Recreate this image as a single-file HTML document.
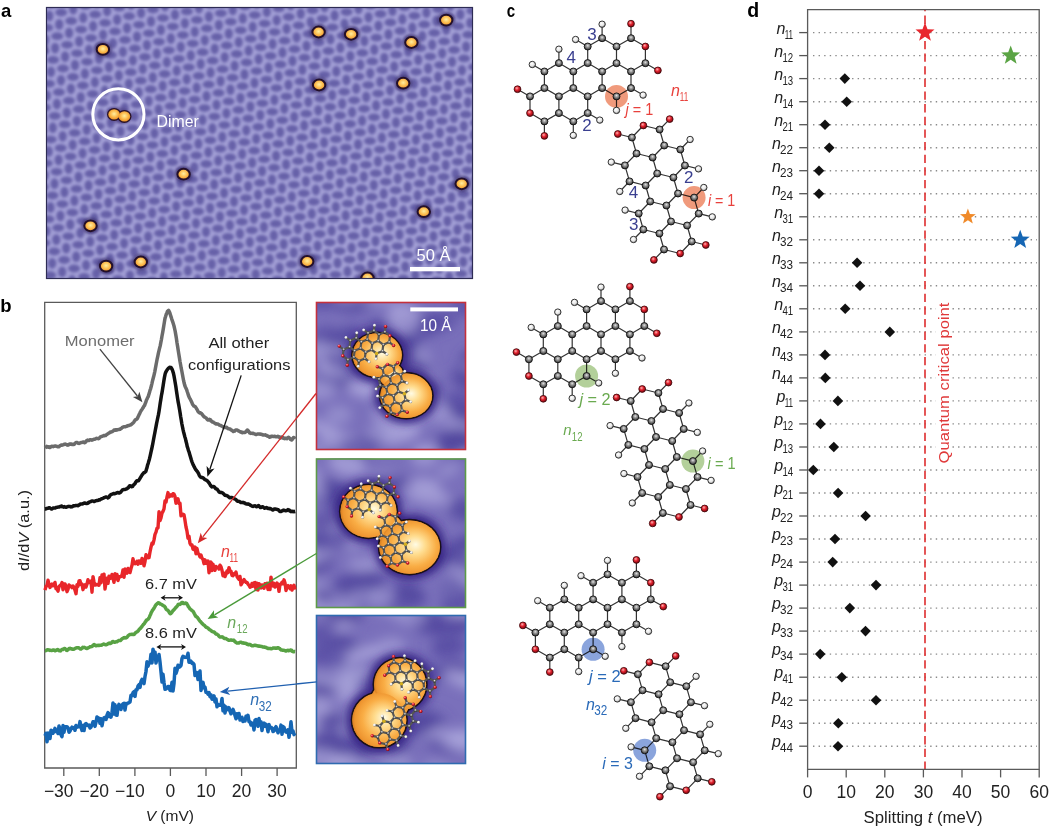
<!DOCTYPE html>
<html><head><meta charset="utf-8"><title>Figure</title>
<style>html,body{margin:0;padding:0;background:#fff;}svg{display:block;font-family:"Liberation Sans", sans-serif;will-change:transform;}</style>
</head><body>
<svg width="1050" height="829" viewBox="0 0 1050 829">
<rect width="1050" height="829" fill="#fff"/>
<defs>
<radialGradient id="gC" cx="0.5" cy="0.38" r="0.62"><stop offset="0" stop-color="#e4e4e4"/><stop offset="0.35" stop-color="#9a9a9a"/><stop offset="0.8" stop-color="#4e4e4e"/><stop offset="1" stop-color="#262626"/></radialGradient>
<radialGradient id="gO" cx="0.4" cy="0.35" r="0.65"><stop offset="0" stop-color="#ffb4b4"/><stop offset="0.45" stop-color="#e2222e"/><stop offset="1" stop-color="#7a0610"/></radialGradient>
<radialGradient id="gH" cx="0.4" cy="0.35" r="0.65"><stop offset="0" stop-color="#ffffff"/><stop offset="0.6" stop-color="#e6e6e6"/><stop offset="1" stop-color="#8a8a8a"/></radialGradient>
<radialGradient id="gY" cx="0.5" cy="0.45" r="0.6"><stop offset="0" stop-color="#ffeea0"/><stop offset="0.5" stop-color="#fcbd50"/><stop offset="1" stop-color="#ea881c"/></radialGradient>
<radialGradient id="gY2" cx="0.55" cy="0.5" r="0.58" fx="0.6" fy="0.45"><stop offset="0" stop-color="#fffbe4"/><stop offset="0.3" stop-color="#ffdc8e"/><stop offset="0.65" stop-color="#f9ad45"/><stop offset="0.88" stop-color="#ee9530"/><stop offset="1" stop-color="#c87018"/></radialGradient>
<filter id="bl1" x="-20%" y="-20%" width="140%" height="140%"><feGaussianBlur stdDeviation="1.7"/></filter>
<filter id="bl2" x="-50%" y="-50%" width="200%" height="200%"><feGaussianBlur stdDeviation="1.5"/></filter>
<filter id="bl5" x="-50%" y="-50%" width="200%" height="200%"><feGaussianBlur stdDeviation="4"/></filter>
<filter id="bl6" x="-20%" y="-20%" width="140%" height="140%"><feGaussianBlur stdDeviation="6"/></filter>
</defs>
<clipPath id="ca"><rect x="46" y="7" width="427" height="272"/></clipPath>
<g clip-path="url(#ca)">
<rect x="46" y="7" width="427" height="272" fill="#a3a0d6"/>
<g fill="#6660a8" filter="url(#bl1)">
<ellipse cx="39.3" cy="7.3" rx="4.1" ry="5.4"/>
<ellipse cx="51.3" cy="4" rx="6" ry="3.9"/>
<ellipse cx="63.3" cy="0.7" rx="4.1" ry="5.4"/>
<ellipse cx="75.3" cy="-2.7" rx="6" ry="3.9"/>
<ellipse cx="37.3" cy="19.2" rx="6" ry="3.9"/>
<ellipse cx="49.3" cy="15.9" rx="4.1" ry="5.4"/>
<ellipse cx="61.2" cy="12.5" rx="6" ry="3.9"/>
<ellipse cx="73.2" cy="9.2" rx="4.1" ry="5.4"/>
<ellipse cx="85.2" cy="5.9" rx="6" ry="3.9"/>
<ellipse cx="97.2" cy="2.5" rx="4.1" ry="5.4"/>
<ellipse cx="109.2" cy="-0.8" rx="6" ry="3.9"/>
<ellipse cx="47.2" cy="27.7" rx="6" ry="3.9"/>
<ellipse cx="59.2" cy="24.4" rx="4.1" ry="5.4"/>
<ellipse cx="71.2" cy="21" rx="6" ry="3.9"/>
<ellipse cx="83.2" cy="17.7" rx="4.1" ry="5.4"/>
<ellipse cx="95.2" cy="14.4" rx="6" ry="3.9"/>
<ellipse cx="107.1" cy="11" rx="4.1" ry="5.4"/>
<ellipse cx="119.1" cy="7.7" rx="6" ry="3.9"/>
<ellipse cx="131.1" cy="4.4" rx="4.1" ry="5.4"/>
<ellipse cx="143.1" cy="1" rx="6" ry="3.9"/>
<ellipse cx="155.1" cy="-2.3" rx="4.1" ry="5.4"/>
<ellipse cx="45.2" cy="39.6" rx="4.1" ry="5.4"/>
<ellipse cx="57.2" cy="36.2" rx="6" ry="3.9"/>
<ellipse cx="69.1" cy="32.9" rx="4.1" ry="5.4"/>
<ellipse cx="81.1" cy="29.6" rx="6" ry="3.9"/>
<ellipse cx="93.1" cy="26.2" rx="4.1" ry="5.4"/>
<ellipse cx="105.1" cy="22.9" rx="6" ry="3.9"/>
<ellipse cx="117.1" cy="19.6" rx="4.1" ry="5.4"/>
<ellipse cx="129.1" cy="16.2" rx="6" ry="3.9"/>
<ellipse cx="141.1" cy="12.9" rx="4.1" ry="5.4"/>
<ellipse cx="153" cy="9.6" rx="6" ry="3.9"/>
<ellipse cx="165" cy="6.2" rx="4.1" ry="5.4"/>
<ellipse cx="177" cy="2.9" rx="6" ry="3.9"/>
<ellipse cx="189" cy="-0.4" rx="4.1" ry="5.4"/>
<ellipse cx="43.1" cy="51.4" rx="6" ry="3.9"/>
<ellipse cx="55.1" cy="48.1" rx="4.1" ry="5.4"/>
<ellipse cx="67.1" cy="44.8" rx="6" ry="3.9"/>
<ellipse cx="79.1" cy="41.4" rx="4.1" ry="5.4"/>
<ellipse cx="91.1" cy="38.1" rx="6" ry="3.9"/>
<ellipse cx="103.1" cy="34.8" rx="4.1" ry="5.4"/>
<ellipse cx="115" cy="31.4" rx="6" ry="3.9"/>
<ellipse cx="127" cy="28.1" rx="4.1" ry="5.4"/>
<ellipse cx="139" cy="24.8" rx="6" ry="3.9"/>
<ellipse cx="151" cy="21.4" rx="4.1" ry="5.4"/>
<ellipse cx="163" cy="18.1" rx="6" ry="3.9"/>
<ellipse cx="175" cy="14.7" rx="4.1" ry="5.4"/>
<ellipse cx="186.9" cy="11.4" rx="6" ry="3.9"/>
<ellipse cx="198.9" cy="8.1" rx="4.1" ry="5.4"/>
<ellipse cx="210.9" cy="4.7" rx="6" ry="3.9"/>
<ellipse cx="222.9" cy="1.4" rx="4.1" ry="5.4"/>
<ellipse cx="234.9" cy="-1.9" rx="6" ry="3.9"/>
<ellipse cx="41.1" cy="63.3" rx="4.1" ry="5.4"/>
<ellipse cx="53.1" cy="59.9" rx="6" ry="3.9"/>
<ellipse cx="65.1" cy="56.6" rx="4.1" ry="5.4"/>
<ellipse cx="77" cy="53.3" rx="6" ry="3.9"/>
<ellipse cx="89" cy="49.9" rx="4.1" ry="5.4"/>
<ellipse cx="101" cy="46.6" rx="6" ry="3.9"/>
<ellipse cx="113" cy="43.3" rx="4.1" ry="5.4"/>
<ellipse cx="125" cy="39.9" rx="6" ry="3.9"/>
<ellipse cx="137" cy="36.6" rx="4.1" ry="5.4"/>
<ellipse cx="148.9" cy="33.3" rx="6" ry="3.9"/>
<ellipse cx="160.9" cy="29.9" rx="4.1" ry="5.4"/>
<ellipse cx="172.9" cy="26.6" rx="6" ry="3.9"/>
<ellipse cx="184.9" cy="23.3" rx="4.1" ry="5.4"/>
<ellipse cx="196.9" cy="19.9" rx="6" ry="3.9"/>
<ellipse cx="208.9" cy="16.6" rx="4.1" ry="5.4"/>
<ellipse cx="220.9" cy="13.3" rx="6" ry="3.9"/>
<ellipse cx="232.8" cy="9.9" rx="4.1" ry="5.4"/>
<ellipse cx="244.8" cy="6.6" rx="6" ry="3.9"/>
<ellipse cx="256.8" cy="3.3" rx="4.1" ry="5.4"/>
<ellipse cx="268.8" cy="-0.1" rx="6" ry="3.9"/>
<ellipse cx="39" cy="75.1" rx="6" ry="3.9"/>
<ellipse cx="51" cy="71.8" rx="4.1" ry="5.4"/>
<ellipse cx="63" cy="68.5" rx="6" ry="3.9"/>
<ellipse cx="75" cy="65.1" rx="4.1" ry="5.4"/>
<ellipse cx="87" cy="61.8" rx="6" ry="3.9"/>
<ellipse cx="99" cy="58.5" rx="4.1" ry="5.4"/>
<ellipse cx="111" cy="55.1" rx="6" ry="3.9"/>
<ellipse cx="122.9" cy="51.8" rx="4.1" ry="5.4"/>
<ellipse cx="134.9" cy="48.5" rx="6" ry="3.9"/>
<ellipse cx="146.9" cy="45.1" rx="4.1" ry="5.4"/>
<ellipse cx="158.9" cy="41.8" rx="6" ry="3.9"/>
<ellipse cx="170.9" cy="38.5" rx="4.1" ry="5.4"/>
<ellipse cx="182.9" cy="35.1" rx="6" ry="3.9"/>
<ellipse cx="194.8" cy="31.8" rx="4.1" ry="5.4"/>
<ellipse cx="206.8" cy="28.4" rx="6" ry="3.9"/>
<ellipse cx="218.8" cy="25.1" rx="4.1" ry="5.4"/>
<ellipse cx="230.8" cy="21.8" rx="6" ry="3.9"/>
<ellipse cx="242.8" cy="18.4" rx="4.1" ry="5.4"/>
<ellipse cx="254.8" cy="15.1" rx="6" ry="3.9"/>
<ellipse cx="266.8" cy="11.8" rx="4.1" ry="5.4"/>
<ellipse cx="278.7" cy="8.4" rx="6" ry="3.9"/>
<ellipse cx="290.7" cy="5.1" rx="4.1" ry="5.4"/>
<ellipse cx="302.7" cy="1.8" rx="6" ry="3.9"/>
<ellipse cx="314.7" cy="-1.6" rx="4.1" ry="5.4"/>
<ellipse cx="37" cy="87" rx="4.1" ry="5.4"/>
<ellipse cx="49" cy="83.7" rx="6" ry="3.9"/>
<ellipse cx="61" cy="80.3" rx="4.1" ry="5.4"/>
<ellipse cx="73" cy="77" rx="6" ry="3.9"/>
<ellipse cx="84.9" cy="73.7" rx="4.1" ry="5.4"/>
<ellipse cx="96.9" cy="70.3" rx="6" ry="3.9"/>
<ellipse cx="108.9" cy="67" rx="4.1" ry="5.4"/>
<ellipse cx="120.9" cy="63.6" rx="6" ry="3.9"/>
<ellipse cx="132.9" cy="60.3" rx="4.1" ry="5.4"/>
<ellipse cx="144.9" cy="57" rx="6" ry="3.9"/>
<ellipse cx="156.8" cy="53.6" rx="4.1" ry="5.4"/>
<ellipse cx="168.8" cy="50.3" rx="6" ry="3.9"/>
<ellipse cx="180.8" cy="47" rx="4.1" ry="5.4"/>
<ellipse cx="192.8" cy="43.6" rx="6" ry="3.9"/>
<ellipse cx="204.8" cy="40.3" rx="4.1" ry="5.4"/>
<ellipse cx="216.8" cy="37" rx="6" ry="3.9"/>
<ellipse cx="228.8" cy="33.6" rx="4.1" ry="5.4"/>
<ellipse cx="240.7" cy="30.3" rx="6" ry="3.9"/>
<ellipse cx="252.7" cy="27" rx="4.1" ry="5.4"/>
<ellipse cx="264.7" cy="23.6" rx="6" ry="3.9"/>
<ellipse cx="276.7" cy="20.3" rx="4.1" ry="5.4"/>
<ellipse cx="288.7" cy="17" rx="6" ry="3.9"/>
<ellipse cx="300.7" cy="13.6" rx="4.1" ry="5.4"/>
<ellipse cx="312.6" cy="10.3" rx="6" ry="3.9"/>
<ellipse cx="324.6" cy="7" rx="4.1" ry="5.4"/>
<ellipse cx="336.6" cy="3.6" rx="6" ry="3.9"/>
<ellipse cx="348.6" cy="0.3" rx="4.1" ry="5.4"/>
<ellipse cx="46.9" cy="95.5" rx="4.1" ry="5.4"/>
<ellipse cx="58.9" cy="92.2" rx="6" ry="3.9"/>
<ellipse cx="70.9" cy="88.8" rx="4.1" ry="5.4"/>
<ellipse cx="82.9" cy="85.5" rx="6" ry="3.9"/>
<ellipse cx="94.9" cy="82.2" rx="4.1" ry="5.4"/>
<ellipse cx="106.9" cy="78.8" rx="6" ry="3.9"/>
<ellipse cx="118.8" cy="75.5" rx="4.1" ry="5.4"/>
<ellipse cx="130.8" cy="72.2" rx="6" ry="3.9"/>
<ellipse cx="142.8" cy="68.8" rx="4.1" ry="5.4"/>
<ellipse cx="154.8" cy="65.5" rx="6" ry="3.9"/>
<ellipse cx="166.8" cy="62.2" rx="4.1" ry="5.4"/>
<ellipse cx="178.8" cy="58.8" rx="6" ry="3.9"/>
<ellipse cx="190.8" cy="55.5" rx="4.1" ry="5.4"/>
<ellipse cx="202.7" cy="52.2" rx="6" ry="3.9"/>
<ellipse cx="214.7" cy="48.8" rx="4.1" ry="5.4"/>
<ellipse cx="226.7" cy="45.5" rx="6" ry="3.9"/>
<ellipse cx="238.7" cy="42.2" rx="4.1" ry="5.4"/>
<ellipse cx="250.7" cy="38.8" rx="6" ry="3.9"/>
<ellipse cx="262.7" cy="35.5" rx="4.1" ry="5.4"/>
<ellipse cx="274.6" cy="32.1" rx="6" ry="3.9"/>
<ellipse cx="286.6" cy="28.8" rx="4.1" ry="5.4"/>
<ellipse cx="298.6" cy="25.5" rx="6" ry="3.9"/>
<ellipse cx="310.6" cy="22.1" rx="4.1" ry="5.4"/>
<ellipse cx="322.6" cy="18.8" rx="6" ry="3.9"/>
<ellipse cx="334.6" cy="15.5" rx="4.1" ry="5.4"/>
<ellipse cx="346.6" cy="12.1" rx="6" ry="3.9"/>
<ellipse cx="358.5" cy="8.8" rx="4.1" ry="5.4"/>
<ellipse cx="370.5" cy="5.5" rx="6" ry="3.9"/>
<ellipse cx="382.5" cy="2.1" rx="4.1" ry="5.4"/>
<ellipse cx="394.5" cy="-1.2" rx="6" ry="3.9"/>
<ellipse cx="44.9" cy="107.4" rx="6" ry="3.9"/>
<ellipse cx="56.9" cy="104" rx="4.1" ry="5.4"/>
<ellipse cx="68.9" cy="100.7" rx="6" ry="3.9"/>
<ellipse cx="80.8" cy="97.4" rx="4.1" ry="5.4"/>
<ellipse cx="92.8" cy="94" rx="6" ry="3.9"/>
<ellipse cx="104.8" cy="90.7" rx="4.1" ry="5.4"/>
<ellipse cx="116.8" cy="87.4" rx="6" ry="3.9"/>
<ellipse cx="128.8" cy="84" rx="4.1" ry="5.4"/>
<ellipse cx="140.8" cy="80.7" rx="6" ry="3.9"/>
<ellipse cx="152.8" cy="77.4" rx="4.1" ry="5.4"/>
<ellipse cx="164.7" cy="74" rx="6" ry="3.9"/>
<ellipse cx="176.7" cy="70.7" rx="4.1" ry="5.4"/>
<ellipse cx="188.7" cy="67.3" rx="6" ry="3.9"/>
<ellipse cx="200.7" cy="64" rx="4.1" ry="5.4"/>
<ellipse cx="212.7" cy="60.7" rx="6" ry="3.9"/>
<ellipse cx="224.7" cy="57.3" rx="4.1" ry="5.4"/>
<ellipse cx="236.7" cy="54" rx="6" ry="3.9"/>
<ellipse cx="248.6" cy="50.7" rx="4.1" ry="5.4"/>
<ellipse cx="260.6" cy="47.3" rx="6" ry="3.9"/>
<ellipse cx="272.6" cy="44" rx="4.1" ry="5.4"/>
<ellipse cx="284.6" cy="40.7" rx="6" ry="3.9"/>
<ellipse cx="296.6" cy="37.3" rx="4.1" ry="5.4"/>
<ellipse cx="308.6" cy="34" rx="6" ry="3.9"/>
<ellipse cx="320.5" cy="30.7" rx="4.1" ry="5.4"/>
<ellipse cx="332.5" cy="27.3" rx="6" ry="3.9"/>
<ellipse cx="344.5" cy="24" rx="4.1" ry="5.4"/>
<ellipse cx="356.5" cy="20.7" rx="6" ry="3.9"/>
<ellipse cx="368.5" cy="17.3" rx="4.1" ry="5.4"/>
<ellipse cx="380.5" cy="14" rx="6" ry="3.9"/>
<ellipse cx="392.5" cy="10.7" rx="4.1" ry="5.4"/>
<ellipse cx="404.4" cy="7.3" rx="6" ry="3.9"/>
<ellipse cx="416.4" cy="4" rx="4.1" ry="5.4"/>
<ellipse cx="428.4" cy="0.6" rx="6" ry="3.9"/>
<ellipse cx="440.4" cy="-2.7" rx="4.1" ry="5.4"/>
<ellipse cx="42.8" cy="119.2" rx="4.1" ry="5.4"/>
<ellipse cx="54.8" cy="115.9" rx="6" ry="3.9"/>
<ellipse cx="66.8" cy="112.6" rx="4.1" ry="5.4"/>
<ellipse cx="78.8" cy="109.2" rx="6" ry="3.9"/>
<ellipse cx="90.8" cy="105.9" rx="4.1" ry="5.4"/>
<ellipse cx="102.8" cy="102.5" rx="6" ry="3.9"/>
<ellipse cx="114.8" cy="99.2" rx="4.1" ry="5.4"/>
<ellipse cx="126.7" cy="95.9" rx="6" ry="3.9"/>
<ellipse cx="138.7" cy="92.5" rx="4.1" ry="5.4"/>
<ellipse cx="150.7" cy="89.2" rx="6" ry="3.9"/>
<ellipse cx="162.7" cy="85.9" rx="4.1" ry="5.4"/>
<ellipse cx="174.7" cy="82.5" rx="6" ry="3.9"/>
<ellipse cx="186.7" cy="79.2" rx="4.1" ry="5.4"/>
<ellipse cx="198.7" cy="75.9" rx="6" ry="3.9"/>
<ellipse cx="210.6" cy="72.5" rx="4.1" ry="5.4"/>
<ellipse cx="222.6" cy="69.2" rx="6" ry="3.9"/>
<ellipse cx="234.6" cy="65.9" rx="4.1" ry="5.4"/>
<ellipse cx="246.6" cy="62.5" rx="6" ry="3.9"/>
<ellipse cx="258.6" cy="59.2" rx="4.1" ry="5.4"/>
<ellipse cx="270.6" cy="55.9" rx="6" ry="3.9"/>
<ellipse cx="282.5" cy="52.5" rx="4.1" ry="5.4"/>
<ellipse cx="294.5" cy="49.2" rx="6" ry="3.9"/>
<ellipse cx="306.5" cy="45.9" rx="4.1" ry="5.4"/>
<ellipse cx="318.5" cy="42.5" rx="6" ry="3.9"/>
<ellipse cx="330.5" cy="39.2" rx="4.1" ry="5.4"/>
<ellipse cx="342.5" cy="35.8" rx="6" ry="3.9"/>
<ellipse cx="354.5" cy="32.5" rx="4.1" ry="5.4"/>
<ellipse cx="366.4" cy="29.2" rx="6" ry="3.9"/>
<ellipse cx="378.4" cy="25.8" rx="4.1" ry="5.4"/>
<ellipse cx="390.4" cy="22.5" rx="6" ry="3.9"/>
<ellipse cx="402.4" cy="19.2" rx="4.1" ry="5.4"/>
<ellipse cx="414.4" cy="15.8" rx="6" ry="3.9"/>
<ellipse cx="426.4" cy="12.5" rx="4.1" ry="5.4"/>
<ellipse cx="438.3" cy="9.2" rx="6" ry="3.9"/>
<ellipse cx="450.3" cy="5.8" rx="4.1" ry="5.4"/>
<ellipse cx="462.3" cy="2.5" rx="6" ry="3.9"/>
<ellipse cx="474.3" cy="-0.8" rx="4.1" ry="5.4"/>
<ellipse cx="40.8" cy="131.1" rx="6" ry="3.9"/>
<ellipse cx="52.8" cy="127.7" rx="4.1" ry="5.4"/>
<ellipse cx="64.8" cy="124.4" rx="6" ry="3.9"/>
<ellipse cx="76.8" cy="121.1" rx="4.1" ry="5.4"/>
<ellipse cx="88.7" cy="117.7" rx="6" ry="3.9"/>
<ellipse cx="100.7" cy="114.4" rx="4.1" ry="5.4"/>
<ellipse cx="112.7" cy="111.1" rx="6" ry="3.9"/>
<ellipse cx="124.7" cy="107.7" rx="4.1" ry="5.4"/>
<ellipse cx="136.7" cy="104.4" rx="6" ry="3.9"/>
<ellipse cx="148.7" cy="101.1" rx="4.1" ry="5.4"/>
<ellipse cx="160.7" cy="97.7" rx="6" ry="3.9"/>
<ellipse cx="172.6" cy="94.4" rx="4.1" ry="5.4"/>
<ellipse cx="184.6" cy="91.1" rx="6" ry="3.9"/>
<ellipse cx="196.6" cy="87.7" rx="4.1" ry="5.4"/>
<ellipse cx="208.6" cy="84.4" rx="6" ry="3.9"/>
<ellipse cx="220.6" cy="81.1" rx="4.1" ry="5.4"/>
<ellipse cx="232.6" cy="77.7" rx="6" ry="3.9"/>
<ellipse cx="244.5" cy="74.4" rx="4.1" ry="5.4"/>
<ellipse cx="256.5" cy="71.1" rx="6" ry="3.9"/>
<ellipse cx="268.5" cy="67.7" rx="4.1" ry="5.4"/>
<ellipse cx="280.5" cy="64.4" rx="6" ry="3.9"/>
<ellipse cx="292.5" cy="61" rx="4.1" ry="5.4"/>
<ellipse cx="304.5" cy="57.7" rx="6" ry="3.9"/>
<ellipse cx="316.5" cy="54.4" rx="4.1" ry="5.4"/>
<ellipse cx="328.4" cy="51" rx="6" ry="3.9"/>
<ellipse cx="340.4" cy="47.7" rx="4.1" ry="5.4"/>
<ellipse cx="352.4" cy="44.4" rx="6" ry="3.9"/>
<ellipse cx="364.4" cy="41" rx="4.1" ry="5.4"/>
<ellipse cx="376.4" cy="37.7" rx="6" ry="3.9"/>
<ellipse cx="388.4" cy="34.4" rx="4.1" ry="5.4"/>
<ellipse cx="400.4" cy="31" rx="6" ry="3.9"/>
<ellipse cx="412.3" cy="27.7" rx="4.1" ry="5.4"/>
<ellipse cx="424.3" cy="24.4" rx="6" ry="3.9"/>
<ellipse cx="436.3" cy="21" rx="4.1" ry="5.4"/>
<ellipse cx="448.3" cy="17.7" rx="6" ry="3.9"/>
<ellipse cx="460.3" cy="14.4" rx="4.1" ry="5.4"/>
<ellipse cx="472.3" cy="11" rx="6" ry="3.9"/>
<ellipse cx="38.8" cy="142.9" rx="4.1" ry="5.4"/>
<ellipse cx="50.7" cy="139.6" rx="6" ry="3.9"/>
<ellipse cx="62.7" cy="136.3" rx="4.1" ry="5.4"/>
<ellipse cx="74.7" cy="132.9" rx="6" ry="3.9"/>
<ellipse cx="86.7" cy="129.6" rx="4.1" ry="5.4"/>
<ellipse cx="98.7" cy="126.3" rx="6" ry="3.9"/>
<ellipse cx="110.7" cy="122.9" rx="4.1" ry="5.4"/>
<ellipse cx="122.7" cy="119.6" rx="6" ry="3.9"/>
<ellipse cx="134.6" cy="116.3" rx="4.1" ry="5.4"/>
<ellipse cx="146.6" cy="112.9" rx="6" ry="3.9"/>
<ellipse cx="158.6" cy="109.6" rx="4.1" ry="5.4"/>
<ellipse cx="170.6" cy="106.2" rx="6" ry="3.9"/>
<ellipse cx="182.6" cy="102.9" rx="4.1" ry="5.4"/>
<ellipse cx="194.6" cy="99.6" rx="6" ry="3.9"/>
<ellipse cx="206.5" cy="96.2" rx="4.1" ry="5.4"/>
<ellipse cx="218.5" cy="92.9" rx="6" ry="3.9"/>
<ellipse cx="230.5" cy="89.6" rx="4.1" ry="5.4"/>
<ellipse cx="242.5" cy="86.2" rx="6" ry="3.9"/>
<ellipse cx="254.5" cy="82.9" rx="4.1" ry="5.4"/>
<ellipse cx="266.5" cy="79.6" rx="6" ry="3.9"/>
<ellipse cx="278.5" cy="76.2" rx="4.1" ry="5.4"/>
<ellipse cx="290.4" cy="72.9" rx="6" ry="3.9"/>
<ellipse cx="302.4" cy="69.6" rx="4.1" ry="5.4"/>
<ellipse cx="314.4" cy="66.2" rx="6" ry="3.9"/>
<ellipse cx="326.4" cy="62.9" rx="4.1" ry="5.4"/>
<ellipse cx="338.4" cy="59.6" rx="6" ry="3.9"/>
<ellipse cx="350.4" cy="56.2" rx="4.1" ry="5.4"/>
<ellipse cx="362.4" cy="52.9" rx="6" ry="3.9"/>
<ellipse cx="374.3" cy="49.6" rx="4.1" ry="5.4"/>
<ellipse cx="386.3" cy="46.2" rx="6" ry="3.9"/>
<ellipse cx="398.3" cy="42.9" rx="4.1" ry="5.4"/>
<ellipse cx="410.3" cy="39.5" rx="6" ry="3.9"/>
<ellipse cx="422.3" cy="36.2" rx="4.1" ry="5.4"/>
<ellipse cx="434.3" cy="32.9" rx="6" ry="3.9"/>
<ellipse cx="446.2" cy="29.5" rx="4.1" ry="5.4"/>
<ellipse cx="458.2" cy="26.2" rx="6" ry="3.9"/>
<ellipse cx="470.2" cy="22.9" rx="4.1" ry="5.4"/>
<ellipse cx="482.2" cy="19.5" rx="6" ry="3.9"/>
<ellipse cx="36.7" cy="154.8" rx="6" ry="3.9"/>
<ellipse cx="48.7" cy="151.5" rx="4.1" ry="5.4"/>
<ellipse cx="60.7" cy="148.1" rx="6" ry="3.9"/>
<ellipse cx="72.7" cy="144.8" rx="4.1" ry="5.4"/>
<ellipse cx="84.7" cy="141.4" rx="6" ry="3.9"/>
<ellipse cx="96.6" cy="138.1" rx="4.1" ry="5.4"/>
<ellipse cx="108.6" cy="134.8" rx="6" ry="3.9"/>
<ellipse cx="120.6" cy="131.4" rx="4.1" ry="5.4"/>
<ellipse cx="132.6" cy="128.1" rx="6" ry="3.9"/>
<ellipse cx="144.6" cy="124.8" rx="4.1" ry="5.4"/>
<ellipse cx="156.6" cy="121.4" rx="6" ry="3.9"/>
<ellipse cx="168.5" cy="118.1" rx="4.1" ry="5.4"/>
<ellipse cx="180.5" cy="114.8" rx="6" ry="3.9"/>
<ellipse cx="192.5" cy="111.4" rx="4.1" ry="5.4"/>
<ellipse cx="204.5" cy="108.1" rx="6" ry="3.9"/>
<ellipse cx="216.5" cy="104.8" rx="4.1" ry="5.4"/>
<ellipse cx="228.5" cy="101.4" rx="6" ry="3.9"/>
<ellipse cx="240.5" cy="98.1" rx="4.1" ry="5.4"/>
<ellipse cx="252.4" cy="94.8" rx="6" ry="3.9"/>
<ellipse cx="264.4" cy="91.4" rx="4.1" ry="5.4"/>
<ellipse cx="276.4" cy="88.1" rx="6" ry="3.9"/>
<ellipse cx="288.4" cy="84.8" rx="4.1" ry="5.4"/>
<ellipse cx="300.4" cy="81.4" rx="6" ry="3.9"/>
<ellipse cx="312.4" cy="78.1" rx="4.1" ry="5.4"/>
<ellipse cx="324.4" cy="74.8" rx="6" ry="3.9"/>
<ellipse cx="336.3" cy="71.4" rx="4.1" ry="5.4"/>
<ellipse cx="348.3" cy="68.1" rx="6" ry="3.9"/>
<ellipse cx="360.3" cy="64.7" rx="4.1" ry="5.4"/>
<ellipse cx="372.3" cy="61.4" rx="6" ry="3.9"/>
<ellipse cx="384.3" cy="58.1" rx="4.1" ry="5.4"/>
<ellipse cx="396.3" cy="54.7" rx="6" ry="3.9"/>
<ellipse cx="408.2" cy="51.4" rx="4.1" ry="5.4"/>
<ellipse cx="420.2" cy="48.1" rx="6" ry="3.9"/>
<ellipse cx="432.2" cy="44.7" rx="4.1" ry="5.4"/>
<ellipse cx="444.2" cy="41.4" rx="6" ry="3.9"/>
<ellipse cx="456.2" cy="38.1" rx="4.1" ry="5.4"/>
<ellipse cx="468.2" cy="34.7" rx="6" ry="3.9"/>
<ellipse cx="480.2" cy="31.4" rx="4.1" ry="5.4"/>
<ellipse cx="46.7" cy="163.3" rx="6" ry="3.9"/>
<ellipse cx="58.6" cy="160" rx="4.1" ry="5.4"/>
<ellipse cx="70.6" cy="156.6" rx="6" ry="3.9"/>
<ellipse cx="82.6" cy="153.3" rx="4.1" ry="5.4"/>
<ellipse cx="94.6" cy="150" rx="6" ry="3.9"/>
<ellipse cx="106.6" cy="146.6" rx="4.1" ry="5.4"/>
<ellipse cx="118.6" cy="143.3" rx="6" ry="3.9"/>
<ellipse cx="130.5" cy="140" rx="4.1" ry="5.4"/>
<ellipse cx="142.5" cy="136.6" rx="6" ry="3.9"/>
<ellipse cx="154.5" cy="133.3" rx="4.1" ry="5.4"/>
<ellipse cx="166.5" cy="130" rx="6" ry="3.9"/>
<ellipse cx="178.5" cy="126.6" rx="4.1" ry="5.4"/>
<ellipse cx="190.5" cy="123.3" rx="6" ry="3.9"/>
<ellipse cx="202.5" cy="120" rx="4.1" ry="5.4"/>
<ellipse cx="214.4" cy="116.6" rx="6" ry="3.9"/>
<ellipse cx="226.4" cy="113.3" rx="4.1" ry="5.4"/>
<ellipse cx="238.4" cy="109.9" rx="6" ry="3.9"/>
<ellipse cx="250.4" cy="106.6" rx="4.1" ry="5.4"/>
<ellipse cx="262.4" cy="103.3" rx="6" ry="3.9"/>
<ellipse cx="274.4" cy="99.9" rx="4.1" ry="5.4"/>
<ellipse cx="286.4" cy="96.6" rx="6" ry="3.9"/>
<ellipse cx="298.3" cy="93.3" rx="4.1" ry="5.4"/>
<ellipse cx="310.3" cy="89.9" rx="6" ry="3.9"/>
<ellipse cx="322.3" cy="86.6" rx="4.1" ry="5.4"/>
<ellipse cx="334.3" cy="83.3" rx="6" ry="3.9"/>
<ellipse cx="346.3" cy="79.9" rx="4.1" ry="5.4"/>
<ellipse cx="358.3" cy="76.6" rx="6" ry="3.9"/>
<ellipse cx="370.2" cy="73.3" rx="4.1" ry="5.4"/>
<ellipse cx="382.2" cy="69.9" rx="6" ry="3.9"/>
<ellipse cx="394.2" cy="66.6" rx="4.1" ry="5.4"/>
<ellipse cx="406.2" cy="63.3" rx="6" ry="3.9"/>
<ellipse cx="418.2" cy="59.9" rx="4.1" ry="5.4"/>
<ellipse cx="430.2" cy="56.6" rx="6" ry="3.9"/>
<ellipse cx="442.2" cy="53.3" rx="4.1" ry="5.4"/>
<ellipse cx="454.1" cy="49.9" rx="6" ry="3.9"/>
<ellipse cx="466.1" cy="46.6" rx="4.1" ry="5.4"/>
<ellipse cx="478.1" cy="43.2" rx="6" ry="3.9"/>
<ellipse cx="44.6" cy="175.2" rx="4.1" ry="5.4"/>
<ellipse cx="56.6" cy="171.8" rx="6" ry="3.9"/>
<ellipse cx="68.6" cy="168.5" rx="4.1" ry="5.4"/>
<ellipse cx="80.6" cy="165.2" rx="6" ry="3.9"/>
<ellipse cx="92.5" cy="161.8" rx="4.1" ry="5.4"/>
<ellipse cx="104.5" cy="158.5" rx="6" ry="3.9"/>
<ellipse cx="116.5" cy="155.2" rx="4.1" ry="5.4"/>
<ellipse cx="128.5" cy="151.8" rx="6" ry="3.9"/>
<ellipse cx="140.5" cy="148.5" rx="4.1" ry="5.4"/>
<ellipse cx="152.5" cy="145.1" rx="6" ry="3.9"/>
<ellipse cx="164.5" cy="141.8" rx="4.1" ry="5.4"/>
<ellipse cx="176.4" cy="138.5" rx="6" ry="3.9"/>
<ellipse cx="188.4" cy="135.1" rx="4.1" ry="5.4"/>
<ellipse cx="200.4" cy="131.8" rx="6" ry="3.9"/>
<ellipse cx="212.4" cy="128.5" rx="4.1" ry="5.4"/>
<ellipse cx="224.4" cy="125.1" rx="6" ry="3.9"/>
<ellipse cx="236.4" cy="121.8" rx="4.1" ry="5.4"/>
<ellipse cx="248.3" cy="118.5" rx="6" ry="3.9"/>
<ellipse cx="260.3" cy="115.1" rx="4.1" ry="5.4"/>
<ellipse cx="272.3" cy="111.8" rx="6" ry="3.9"/>
<ellipse cx="284.3" cy="108.5" rx="4.1" ry="5.4"/>
<ellipse cx="296.3" cy="105.1" rx="6" ry="3.9"/>
<ellipse cx="308.3" cy="101.8" rx="4.1" ry="5.4"/>
<ellipse cx="320.3" cy="98.5" rx="6" ry="3.9"/>
<ellipse cx="332.2" cy="95.1" rx="4.1" ry="5.4"/>
<ellipse cx="344.2" cy="91.8" rx="6" ry="3.9"/>
<ellipse cx="356.2" cy="88.5" rx="4.1" ry="5.4"/>
<ellipse cx="368.2" cy="85.1" rx="6" ry="3.9"/>
<ellipse cx="380.2" cy="81.8" rx="4.1" ry="5.4"/>
<ellipse cx="392.2" cy="78.4" rx="6" ry="3.9"/>
<ellipse cx="404.2" cy="75.1" rx="4.1" ry="5.4"/>
<ellipse cx="416.1" cy="71.8" rx="6" ry="3.9"/>
<ellipse cx="428.1" cy="68.4" rx="4.1" ry="5.4"/>
<ellipse cx="440.1" cy="65.1" rx="6" ry="3.9"/>
<ellipse cx="452.1" cy="61.8" rx="4.1" ry="5.4"/>
<ellipse cx="464.1" cy="58.4" rx="6" ry="3.9"/>
<ellipse cx="476.1" cy="55.1" rx="4.1" ry="5.4"/>
<ellipse cx="42.6" cy="187" rx="6" ry="3.9"/>
<ellipse cx="54.5" cy="183.7" rx="4.1" ry="5.4"/>
<ellipse cx="66.5" cy="180.3" rx="6" ry="3.9"/>
<ellipse cx="78.5" cy="177" rx="4.1" ry="5.4"/>
<ellipse cx="90.5" cy="173.7" rx="6" ry="3.9"/>
<ellipse cx="102.5" cy="170.3" rx="4.1" ry="5.4"/>
<ellipse cx="114.5" cy="167" rx="6" ry="3.9"/>
<ellipse cx="126.5" cy="163.7" rx="4.1" ry="5.4"/>
<ellipse cx="138.4" cy="160.3" rx="6" ry="3.9"/>
<ellipse cx="150.4" cy="157" rx="4.1" ry="5.4"/>
<ellipse cx="162.4" cy="153.7" rx="6" ry="3.9"/>
<ellipse cx="174.4" cy="150.3" rx="4.1" ry="5.4"/>
<ellipse cx="186.4" cy="147" rx="6" ry="3.9"/>
<ellipse cx="198.4" cy="143.7" rx="4.1" ry="5.4"/>
<ellipse cx="210.3" cy="140.3" rx="6" ry="3.9"/>
<ellipse cx="222.3" cy="137" rx="4.1" ry="5.4"/>
<ellipse cx="234.3" cy="133.7" rx="6" ry="3.9"/>
<ellipse cx="246.3" cy="130.3" rx="4.1" ry="5.4"/>
<ellipse cx="258.3" cy="127" rx="6" ry="3.9"/>
<ellipse cx="270.3" cy="123.7" rx="4.1" ry="5.4"/>
<ellipse cx="282.3" cy="120.3" rx="6" ry="3.9"/>
<ellipse cx="294.2" cy="117" rx="4.1" ry="5.4"/>
<ellipse cx="306.2" cy="113.7" rx="6" ry="3.9"/>
<ellipse cx="318.2" cy="110.3" rx="4.1" ry="5.4"/>
<ellipse cx="330.2" cy="107" rx="6" ry="3.9"/>
<ellipse cx="342.2" cy="103.6" rx="4.1" ry="5.4"/>
<ellipse cx="354.2" cy="100.3" rx="6" ry="3.9"/>
<ellipse cx="366.2" cy="97" rx="4.1" ry="5.4"/>
<ellipse cx="378.1" cy="93.6" rx="6" ry="3.9"/>
<ellipse cx="390.1" cy="90.3" rx="4.1" ry="5.4"/>
<ellipse cx="402.1" cy="87" rx="6" ry="3.9"/>
<ellipse cx="414.1" cy="83.6" rx="4.1" ry="5.4"/>
<ellipse cx="426.1" cy="80.3" rx="6" ry="3.9"/>
<ellipse cx="438.1" cy="77" rx="4.1" ry="5.4"/>
<ellipse cx="450" cy="73.6" rx="6" ry="3.9"/>
<ellipse cx="462" cy="70.3" rx="4.1" ry="5.4"/>
<ellipse cx="474" cy="67" rx="6" ry="3.9"/>
<ellipse cx="40.5" cy="198.9" rx="4.1" ry="5.4"/>
<ellipse cx="52.5" cy="195.5" rx="6" ry="3.9"/>
<ellipse cx="64.5" cy="192.2" rx="4.1" ry="5.4"/>
<ellipse cx="76.5" cy="188.9" rx="6" ry="3.9"/>
<ellipse cx="88.5" cy="185.5" rx="4.1" ry="5.4"/>
<ellipse cx="100.4" cy="182.2" rx="6" ry="3.9"/>
<ellipse cx="112.4" cy="178.9" rx="4.1" ry="5.4"/>
<ellipse cx="124.4" cy="175.5" rx="6" ry="3.9"/>
<ellipse cx="136.4" cy="172.2" rx="4.1" ry="5.4"/>
<ellipse cx="148.4" cy="168.9" rx="6" ry="3.9"/>
<ellipse cx="160.4" cy="165.5" rx="4.1" ry="5.4"/>
<ellipse cx="172.3" cy="162.2" rx="6" ry="3.9"/>
<ellipse cx="184.3" cy="158.9" rx="4.1" ry="5.4"/>
<ellipse cx="196.3" cy="155.5" rx="6" ry="3.9"/>
<ellipse cx="208.3" cy="152.2" rx="4.1" ry="5.4"/>
<ellipse cx="220.3" cy="148.8" rx="6" ry="3.9"/>
<ellipse cx="232.3" cy="145.5" rx="4.1" ry="5.4"/>
<ellipse cx="244.3" cy="142.2" rx="6" ry="3.9"/>
<ellipse cx="256.2" cy="138.8" rx="4.1" ry="5.4"/>
<ellipse cx="268.2" cy="135.5" rx="6" ry="3.9"/>
<ellipse cx="280.2" cy="132.2" rx="4.1" ry="5.4"/>
<ellipse cx="292.2" cy="128.8" rx="6" ry="3.9"/>
<ellipse cx="304.2" cy="125.5" rx="4.1" ry="5.4"/>
<ellipse cx="316.2" cy="122.2" rx="6" ry="3.9"/>
<ellipse cx="328.2" cy="118.8" rx="4.1" ry="5.4"/>
<ellipse cx="340.1" cy="115.5" rx="6" ry="3.9"/>
<ellipse cx="352.1" cy="112.2" rx="4.1" ry="5.4"/>
<ellipse cx="364.1" cy="108.8" rx="6" ry="3.9"/>
<ellipse cx="376.1" cy="105.5" rx="4.1" ry="5.4"/>
<ellipse cx="388.1" cy="102.2" rx="6" ry="3.9"/>
<ellipse cx="400.1" cy="98.8" rx="4.1" ry="5.4"/>
<ellipse cx="412" cy="95.5" rx="6" ry="3.9"/>
<ellipse cx="424" cy="92.2" rx="4.1" ry="5.4"/>
<ellipse cx="436" cy="88.8" rx="6" ry="3.9"/>
<ellipse cx="448" cy="85.5" rx="4.1" ry="5.4"/>
<ellipse cx="460" cy="82.2" rx="6" ry="3.9"/>
<ellipse cx="472" cy="78.8" rx="4.1" ry="5.4"/>
<ellipse cx="38.5" cy="210.7" rx="6" ry="3.9"/>
<ellipse cx="50.5" cy="207.4" rx="4.1" ry="5.4"/>
<ellipse cx="62.4" cy="204.1" rx="6" ry="3.9"/>
<ellipse cx="74.4" cy="200.7" rx="4.1" ry="5.4"/>
<ellipse cx="86.4" cy="197.4" rx="6" ry="3.9"/>
<ellipse cx="98.4" cy="194.1" rx="4.1" ry="5.4"/>
<ellipse cx="110.4" cy="190.7" rx="6" ry="3.9"/>
<ellipse cx="122.4" cy="187.4" rx="4.1" ry="5.4"/>
<ellipse cx="134.3" cy="184" rx="6" ry="3.9"/>
<ellipse cx="146.3" cy="180.7" rx="4.1" ry="5.4"/>
<ellipse cx="158.3" cy="177.4" rx="6" ry="3.9"/>
<ellipse cx="170.3" cy="174" rx="4.1" ry="5.4"/>
<ellipse cx="182.3" cy="170.7" rx="6" ry="3.9"/>
<ellipse cx="194.3" cy="167.4" rx="4.1" ry="5.4"/>
<ellipse cx="206.3" cy="164" rx="6" ry="3.9"/>
<ellipse cx="218.2" cy="160.7" rx="4.1" ry="5.4"/>
<ellipse cx="230.2" cy="157.4" rx="6" ry="3.9"/>
<ellipse cx="242.2" cy="154" rx="4.1" ry="5.4"/>
<ellipse cx="254.2" cy="150.7" rx="6" ry="3.9"/>
<ellipse cx="266.2" cy="147.4" rx="4.1" ry="5.4"/>
<ellipse cx="278.2" cy="144" rx="6" ry="3.9"/>
<ellipse cx="290.2" cy="140.7" rx="4.1" ry="5.4"/>
<ellipse cx="302.1" cy="137.4" rx="6" ry="3.9"/>
<ellipse cx="314.1" cy="134" rx="4.1" ry="5.4"/>
<ellipse cx="326.1" cy="130.7" rx="6" ry="3.9"/>
<ellipse cx="338.1" cy="127.4" rx="4.1" ry="5.4"/>
<ellipse cx="350.1" cy="124" rx="6" ry="3.9"/>
<ellipse cx="362.1" cy="120.7" rx="4.1" ry="5.4"/>
<ellipse cx="374" cy="117.3" rx="6" ry="3.9"/>
<ellipse cx="386" cy="114" rx="4.1" ry="5.4"/>
<ellipse cx="398" cy="110.7" rx="6" ry="3.9"/>
<ellipse cx="410" cy="107.3" rx="4.1" ry="5.4"/>
<ellipse cx="422" cy="104" rx="6" ry="3.9"/>
<ellipse cx="434" cy="100.7" rx="4.1" ry="5.4"/>
<ellipse cx="446" cy="97.3" rx="6" ry="3.9"/>
<ellipse cx="457.9" cy="94" rx="4.1" ry="5.4"/>
<ellipse cx="469.9" cy="90.7" rx="6" ry="3.9"/>
<ellipse cx="481.9" cy="87.3" rx="4.1" ry="5.4"/>
<ellipse cx="36.4" cy="222.6" rx="4.1" ry="5.4"/>
<ellipse cx="48.4" cy="219.2" rx="6" ry="3.9"/>
<ellipse cx="60.4" cy="215.9" rx="4.1" ry="5.4"/>
<ellipse cx="72.4" cy="212.6" rx="6" ry="3.9"/>
<ellipse cx="84.4" cy="209.2" rx="4.1" ry="5.4"/>
<ellipse cx="96.3" cy="205.9" rx="6" ry="3.9"/>
<ellipse cx="108.3" cy="202.6" rx="4.1" ry="5.4"/>
<ellipse cx="120.3" cy="199.2" rx="6" ry="3.9"/>
<ellipse cx="132.3" cy="195.9" rx="4.1" ry="5.4"/>
<ellipse cx="144.3" cy="192.6" rx="6" ry="3.9"/>
<ellipse cx="156.3" cy="189.2" rx="4.1" ry="5.4"/>
<ellipse cx="168.3" cy="185.9" rx="6" ry="3.9"/>
<ellipse cx="180.2" cy="182.6" rx="4.1" ry="5.4"/>
<ellipse cx="192.2" cy="179.2" rx="6" ry="3.9"/>
<ellipse cx="204.2" cy="175.9" rx="4.1" ry="5.4"/>
<ellipse cx="216.2" cy="172.6" rx="6" ry="3.9"/>
<ellipse cx="228.2" cy="169.2" rx="4.1" ry="5.4"/>
<ellipse cx="240.2" cy="165.9" rx="6" ry="3.9"/>
<ellipse cx="252.2" cy="162.6" rx="4.1" ry="5.4"/>
<ellipse cx="264.1" cy="159.2" rx="6" ry="3.9"/>
<ellipse cx="276.1" cy="155.9" rx="4.1" ry="5.4"/>
<ellipse cx="288.1" cy="152.6" rx="6" ry="3.9"/>
<ellipse cx="300.1" cy="149.2" rx="4.1" ry="5.4"/>
<ellipse cx="312.1" cy="145.9" rx="6" ry="3.9"/>
<ellipse cx="324.1" cy="142.5" rx="4.1" ry="5.4"/>
<ellipse cx="336" cy="139.2" rx="6" ry="3.9"/>
<ellipse cx="348" cy="135.9" rx="4.1" ry="5.4"/>
<ellipse cx="360" cy="132.5" rx="6" ry="3.9"/>
<ellipse cx="372" cy="129.2" rx="4.1" ry="5.4"/>
<ellipse cx="384" cy="125.9" rx="6" ry="3.9"/>
<ellipse cx="396" cy="122.5" rx="4.1" ry="5.4"/>
<ellipse cx="408" cy="119.2" rx="6" ry="3.9"/>
<ellipse cx="419.9" cy="115.9" rx="4.1" ry="5.4"/>
<ellipse cx="431.9" cy="112.5" rx="6" ry="3.9"/>
<ellipse cx="443.9" cy="109.2" rx="4.1" ry="5.4"/>
<ellipse cx="455.9" cy="105.9" rx="6" ry="3.9"/>
<ellipse cx="467.9" cy="102.5" rx="4.1" ry="5.4"/>
<ellipse cx="479.9" cy="99.2" rx="6" ry="3.9"/>
<ellipse cx="46.4" cy="231.1" rx="4.1" ry="5.4"/>
<ellipse cx="58.3" cy="227.8" rx="6" ry="3.9"/>
<ellipse cx="70.3" cy="224.4" rx="4.1" ry="5.4"/>
<ellipse cx="82.3" cy="221.1" rx="6" ry="3.9"/>
<ellipse cx="94.3" cy="217.8" rx="4.1" ry="5.4"/>
<ellipse cx="106.3" cy="214.4" rx="6" ry="3.9"/>
<ellipse cx="118.3" cy="211.1" rx="4.1" ry="5.4"/>
<ellipse cx="130.3" cy="207.8" rx="6" ry="3.9"/>
<ellipse cx="142.2" cy="204.4" rx="4.1" ry="5.4"/>
<ellipse cx="154.2" cy="201.1" rx="6" ry="3.9"/>
<ellipse cx="166.2" cy="197.8" rx="4.1" ry="5.4"/>
<ellipse cx="178.2" cy="194.4" rx="6" ry="3.9"/>
<ellipse cx="190.2" cy="191.1" rx="4.1" ry="5.4"/>
<ellipse cx="202.2" cy="187.8" rx="6" ry="3.9"/>
<ellipse cx="214.2" cy="184.4" rx="4.1" ry="5.4"/>
<ellipse cx="226.1" cy="181.1" rx="6" ry="3.9"/>
<ellipse cx="238.1" cy="177.7" rx="4.1" ry="5.4"/>
<ellipse cx="250.1" cy="174.4" rx="6" ry="3.9"/>
<ellipse cx="262.1" cy="171.1" rx="4.1" ry="5.4"/>
<ellipse cx="274.1" cy="167.7" rx="6" ry="3.9"/>
<ellipse cx="286.1" cy="164.4" rx="4.1" ry="5.4"/>
<ellipse cx="298" cy="161.1" rx="6" ry="3.9"/>
<ellipse cx="310" cy="157.7" rx="4.1" ry="5.4"/>
<ellipse cx="322" cy="154.4" rx="6" ry="3.9"/>
<ellipse cx="334" cy="151.1" rx="4.1" ry="5.4"/>
<ellipse cx="346" cy="147.7" rx="6" ry="3.9"/>
<ellipse cx="358" cy="144.4" rx="4.1" ry="5.4"/>
<ellipse cx="370" cy="141.1" rx="6" ry="3.9"/>
<ellipse cx="381.9" cy="137.7" rx="4.1" ry="5.4"/>
<ellipse cx="393.9" cy="134.4" rx="6" ry="3.9"/>
<ellipse cx="405.9" cy="131.1" rx="4.1" ry="5.4"/>
<ellipse cx="417.9" cy="127.7" rx="6" ry="3.9"/>
<ellipse cx="429.9" cy="124.4" rx="4.1" ry="5.4"/>
<ellipse cx="441.9" cy="121.1" rx="6" ry="3.9"/>
<ellipse cx="453.9" cy="117.7" rx="4.1" ry="5.4"/>
<ellipse cx="465.8" cy="114.4" rx="6" ry="3.9"/>
<ellipse cx="477.8" cy="111" rx="4.1" ry="5.4"/>
<ellipse cx="44.3" cy="243" rx="6" ry="3.9"/>
<ellipse cx="56.3" cy="239.6" rx="4.1" ry="5.4"/>
<ellipse cx="68.3" cy="236.3" rx="6" ry="3.9"/>
<ellipse cx="80.3" cy="233" rx="4.1" ry="5.4"/>
<ellipse cx="92.3" cy="229.6" rx="6" ry="3.9"/>
<ellipse cx="104.2" cy="226.3" rx="4.1" ry="5.4"/>
<ellipse cx="116.2" cy="222.9" rx="6" ry="3.9"/>
<ellipse cx="128.2" cy="219.6" rx="4.1" ry="5.4"/>
<ellipse cx="140.2" cy="216.3" rx="6" ry="3.9"/>
<ellipse cx="152.2" cy="212.9" rx="4.1" ry="5.4"/>
<ellipse cx="164.2" cy="209.6" rx="6" ry="3.9"/>
<ellipse cx="176.2" cy="206.3" rx="4.1" ry="5.4"/>
<ellipse cx="188.1" cy="202.9" rx="6" ry="3.9"/>
<ellipse cx="200.1" cy="199.6" rx="4.1" ry="5.4"/>
<ellipse cx="212.1" cy="196.3" rx="6" ry="3.9"/>
<ellipse cx="224.1" cy="192.9" rx="4.1" ry="5.4"/>
<ellipse cx="236.1" cy="189.6" rx="6" ry="3.9"/>
<ellipse cx="248.1" cy="186.3" rx="4.1" ry="5.4"/>
<ellipse cx="260" cy="182.9" rx="6" ry="3.9"/>
<ellipse cx="272" cy="179.6" rx="4.1" ry="5.4"/>
<ellipse cx="284" cy="176.3" rx="6" ry="3.9"/>
<ellipse cx="296" cy="172.9" rx="4.1" ry="5.4"/>
<ellipse cx="308" cy="169.6" rx="6" ry="3.9"/>
<ellipse cx="320" cy="166.3" rx="4.1" ry="5.4"/>
<ellipse cx="332" cy="162.9" rx="6" ry="3.9"/>
<ellipse cx="343.9" cy="159.6" rx="4.1" ry="5.4"/>
<ellipse cx="355.9" cy="156.2" rx="6" ry="3.9"/>
<ellipse cx="367.9" cy="152.9" rx="4.1" ry="5.4"/>
<ellipse cx="379.9" cy="149.6" rx="6" ry="3.9"/>
<ellipse cx="391.9" cy="146.2" rx="4.1" ry="5.4"/>
<ellipse cx="403.9" cy="142.9" rx="6" ry="3.9"/>
<ellipse cx="415.9" cy="139.6" rx="4.1" ry="5.4"/>
<ellipse cx="427.8" cy="136.2" rx="6" ry="3.9"/>
<ellipse cx="439.8" cy="132.9" rx="4.1" ry="5.4"/>
<ellipse cx="451.8" cy="129.6" rx="6" ry="3.9"/>
<ellipse cx="463.8" cy="126.2" rx="4.1" ry="5.4"/>
<ellipse cx="475.8" cy="122.9" rx="6" ry="3.9"/>
<ellipse cx="42.3" cy="254.8" rx="4.1" ry="5.4"/>
<ellipse cx="54.3" cy="251.5" rx="6" ry="3.9"/>
<ellipse cx="66.2" cy="248.1" rx="4.1" ry="5.4"/>
<ellipse cx="78.2" cy="244.8" rx="6" ry="3.9"/>
<ellipse cx="90.2" cy="241.5" rx="4.1" ry="5.4"/>
<ellipse cx="102.2" cy="238.1" rx="6" ry="3.9"/>
<ellipse cx="114.2" cy="234.8" rx="4.1" ry="5.4"/>
<ellipse cx="126.2" cy="231.5" rx="6" ry="3.9"/>
<ellipse cx="138.2" cy="228.1" rx="4.1" ry="5.4"/>
<ellipse cx="150.1" cy="224.8" rx="6" ry="3.9"/>
<ellipse cx="162.1" cy="221.5" rx="4.1" ry="5.4"/>
<ellipse cx="174.1" cy="218.1" rx="6" ry="3.9"/>
<ellipse cx="186.1" cy="214.8" rx="4.1" ry="5.4"/>
<ellipse cx="198.1" cy="211.5" rx="6" ry="3.9"/>
<ellipse cx="210.1" cy="208.1" rx="4.1" ry="5.4"/>
<ellipse cx="222" cy="204.8" rx="6" ry="3.9"/>
<ellipse cx="234" cy="201.5" rx="4.1" ry="5.4"/>
<ellipse cx="246" cy="198.1" rx="6" ry="3.9"/>
<ellipse cx="258" cy="194.8" rx="4.1" ry="5.4"/>
<ellipse cx="270" cy="191.4" rx="6" ry="3.9"/>
<ellipse cx="282" cy="188.1" rx="4.1" ry="5.4"/>
<ellipse cx="294" cy="184.8" rx="6" ry="3.9"/>
<ellipse cx="305.9" cy="181.4" rx="4.1" ry="5.4"/>
<ellipse cx="317.9" cy="178.1" rx="6" ry="3.9"/>
<ellipse cx="329.9" cy="174.8" rx="4.1" ry="5.4"/>
<ellipse cx="341.9" cy="171.4" rx="6" ry="3.9"/>
<ellipse cx="353.9" cy="168.1" rx="4.1" ry="5.4"/>
<ellipse cx="365.9" cy="164.8" rx="6" ry="3.9"/>
<ellipse cx="377.9" cy="161.4" rx="4.1" ry="5.4"/>
<ellipse cx="389.8" cy="158.1" rx="6" ry="3.9"/>
<ellipse cx="401.8" cy="154.8" rx="4.1" ry="5.4"/>
<ellipse cx="413.8" cy="151.4" rx="6" ry="3.9"/>
<ellipse cx="425.8" cy="148.1" rx="4.1" ry="5.4"/>
<ellipse cx="437.8" cy="144.8" rx="6" ry="3.9"/>
<ellipse cx="449.8" cy="141.4" rx="4.1" ry="5.4"/>
<ellipse cx="461.8" cy="138.1" rx="6" ry="3.9"/>
<ellipse cx="473.7" cy="134.8" rx="4.1" ry="5.4"/>
<ellipse cx="40.2" cy="266.7" rx="6" ry="3.9"/>
<ellipse cx="52.2" cy="263.3" rx="4.1" ry="5.4"/>
<ellipse cx="64.2" cy="260" rx="6" ry="3.9"/>
<ellipse cx="76.2" cy="256.7" rx="4.1" ry="5.4"/>
<ellipse cx="88.2" cy="253.3" rx="6" ry="3.9"/>
<ellipse cx="100.2" cy="250" rx="4.1" ry="5.4"/>
<ellipse cx="112.1" cy="246.7" rx="6" ry="3.9"/>
<ellipse cx="124.1" cy="243.3" rx="4.1" ry="5.4"/>
<ellipse cx="136.1" cy="240" rx="6" ry="3.9"/>
<ellipse cx="148.1" cy="236.7" rx="4.1" ry="5.4"/>
<ellipse cx="160.1" cy="233.3" rx="6" ry="3.9"/>
<ellipse cx="172.1" cy="230" rx="4.1" ry="5.4"/>
<ellipse cx="184" cy="226.6" rx="6" ry="3.9"/>
<ellipse cx="196" cy="223.3" rx="4.1" ry="5.4"/>
<ellipse cx="208" cy="220" rx="6" ry="3.9"/>
<ellipse cx="220" cy="216.6" rx="4.1" ry="5.4"/>
<ellipse cx="232" cy="213.3" rx="6" ry="3.9"/>
<ellipse cx="244" cy="210" rx="4.1" ry="5.4"/>
<ellipse cx="256" cy="206.6" rx="6" ry="3.9"/>
<ellipse cx="267.9" cy="203.3" rx="4.1" ry="5.4"/>
<ellipse cx="279.9" cy="200" rx="6" ry="3.9"/>
<ellipse cx="291.9" cy="196.6" rx="4.1" ry="5.4"/>
<ellipse cx="303.9" cy="193.3" rx="6" ry="3.9"/>
<ellipse cx="315.9" cy="190" rx="4.1" ry="5.4"/>
<ellipse cx="327.9" cy="186.6" rx="6" ry="3.9"/>
<ellipse cx="339.9" cy="183.3" rx="4.1" ry="5.4"/>
<ellipse cx="351.8" cy="180" rx="6" ry="3.9"/>
<ellipse cx="363.8" cy="176.6" rx="4.1" ry="5.4"/>
<ellipse cx="375.8" cy="173.3" rx="6" ry="3.9"/>
<ellipse cx="387.8" cy="170" rx="4.1" ry="5.4"/>
<ellipse cx="399.8" cy="166.6" rx="6" ry="3.9"/>
<ellipse cx="411.8" cy="163.3" rx="4.1" ry="5.4"/>
<ellipse cx="423.8" cy="159.9" rx="6" ry="3.9"/>
<ellipse cx="435.7" cy="156.6" rx="4.1" ry="5.4"/>
<ellipse cx="447.7" cy="153.3" rx="6" ry="3.9"/>
<ellipse cx="459.7" cy="149.9" rx="4.1" ry="5.4"/>
<ellipse cx="471.7" cy="146.6" rx="6" ry="3.9"/>
<ellipse cx="38.2" cy="278.5" rx="4.1" ry="5.4"/>
<ellipse cx="50.2" cy="275.2" rx="6" ry="3.9"/>
<ellipse cx="62.2" cy="271.9" rx="4.1" ry="5.4"/>
<ellipse cx="74.1" cy="268.5" rx="6" ry="3.9"/>
<ellipse cx="86.1" cy="265.2" rx="4.1" ry="5.4"/>
<ellipse cx="98.1" cy="261.9" rx="6" ry="3.9"/>
<ellipse cx="110.1" cy="258.5" rx="4.1" ry="5.4"/>
<ellipse cx="122.1" cy="255.2" rx="6" ry="3.9"/>
<ellipse cx="134.1" cy="251.8" rx="4.1" ry="5.4"/>
<ellipse cx="146" cy="248.5" rx="6" ry="3.9"/>
<ellipse cx="158" cy="245.2" rx="4.1" ry="5.4"/>
<ellipse cx="170" cy="241.8" rx="6" ry="3.9"/>
<ellipse cx="182" cy="238.5" rx="4.1" ry="5.4"/>
<ellipse cx="194" cy="235.2" rx="6" ry="3.9"/>
<ellipse cx="206" cy="231.8" rx="4.1" ry="5.4"/>
<ellipse cx="218" cy="228.5" rx="6" ry="3.9"/>
<ellipse cx="229.9" cy="225.2" rx="4.1" ry="5.4"/>
<ellipse cx="241.9" cy="221.8" rx="6" ry="3.9"/>
<ellipse cx="253.9" cy="218.5" rx="4.1" ry="5.4"/>
<ellipse cx="265.9" cy="215.2" rx="6" ry="3.9"/>
<ellipse cx="277.9" cy="211.8" rx="4.1" ry="5.4"/>
<ellipse cx="289.9" cy="208.5" rx="6" ry="3.9"/>
<ellipse cx="301.9" cy="205.2" rx="4.1" ry="5.4"/>
<ellipse cx="313.8" cy="201.8" rx="6" ry="3.9"/>
<ellipse cx="325.8" cy="198.5" rx="4.1" ry="5.4"/>
<ellipse cx="337.8" cy="195.2" rx="6" ry="3.9"/>
<ellipse cx="349.8" cy="191.8" rx="4.1" ry="5.4"/>
<ellipse cx="361.8" cy="188.5" rx="6" ry="3.9"/>
<ellipse cx="373.8" cy="185.1" rx="4.1" ry="5.4"/>
<ellipse cx="385.8" cy="181.8" rx="6" ry="3.9"/>
<ellipse cx="397.7" cy="178.5" rx="4.1" ry="5.4"/>
<ellipse cx="409.7" cy="175.1" rx="6" ry="3.9"/>
<ellipse cx="421.7" cy="171.8" rx="4.1" ry="5.4"/>
<ellipse cx="433.7" cy="168.5" rx="6" ry="3.9"/>
<ellipse cx="445.7" cy="165.1" rx="4.1" ry="5.4"/>
<ellipse cx="457.7" cy="161.8" rx="6" ry="3.9"/>
<ellipse cx="469.6" cy="158.5" rx="4.1" ry="5.4"/>
<ellipse cx="481.6" cy="155.1" rx="6" ry="3.9"/>
<ellipse cx="48.1" cy="287" rx="4.1" ry="5.4"/>
<ellipse cx="60.1" cy="283.7" rx="6" ry="3.9"/>
<ellipse cx="72.1" cy="280.4" rx="4.1" ry="5.4"/>
<ellipse cx="84.1" cy="277" rx="6" ry="3.9"/>
<ellipse cx="96.1" cy="273.7" rx="4.1" ry="5.4"/>
<ellipse cx="108" cy="270.4" rx="6" ry="3.9"/>
<ellipse cx="120" cy="267" rx="4.1" ry="5.4"/>
<ellipse cx="132" cy="263.7" rx="6" ry="3.9"/>
<ellipse cx="144" cy="260.4" rx="4.1" ry="5.4"/>
<ellipse cx="156" cy="257" rx="6" ry="3.9"/>
<ellipse cx="168" cy="253.7" rx="4.1" ry="5.4"/>
<ellipse cx="180" cy="250.4" rx="6" ry="3.9"/>
<ellipse cx="191.9" cy="247" rx="4.1" ry="5.4"/>
<ellipse cx="203.9" cy="243.7" rx="6" ry="3.9"/>
<ellipse cx="215.9" cy="240.4" rx="4.1" ry="5.4"/>
<ellipse cx="227.9" cy="237" rx="6" ry="3.9"/>
<ellipse cx="239.9" cy="233.7" rx="4.1" ry="5.4"/>
<ellipse cx="251.9" cy="230.3" rx="6" ry="3.9"/>
<ellipse cx="263.9" cy="227" rx="4.1" ry="5.4"/>
<ellipse cx="275.8" cy="223.7" rx="6" ry="3.9"/>
<ellipse cx="287.8" cy="220.3" rx="4.1" ry="5.4"/>
<ellipse cx="299.8" cy="217" rx="6" ry="3.9"/>
<ellipse cx="311.8" cy="213.7" rx="4.1" ry="5.4"/>
<ellipse cx="323.8" cy="210.3" rx="6" ry="3.9"/>
<ellipse cx="335.8" cy="207" rx="4.1" ry="5.4"/>
<ellipse cx="347.8" cy="203.7" rx="6" ry="3.9"/>
<ellipse cx="359.7" cy="200.3" rx="4.1" ry="5.4"/>
<ellipse cx="371.7" cy="197" rx="6" ry="3.9"/>
<ellipse cx="383.7" cy="193.7" rx="4.1" ry="5.4"/>
<ellipse cx="395.7" cy="190.3" rx="6" ry="3.9"/>
<ellipse cx="407.7" cy="187" rx="4.1" ry="5.4"/>
<ellipse cx="419.7" cy="183.7" rx="6" ry="3.9"/>
<ellipse cx="431.6" cy="180.3" rx="4.1" ry="5.4"/>
<ellipse cx="443.6" cy="177" rx="6" ry="3.9"/>
<ellipse cx="455.6" cy="173.7" rx="4.1" ry="5.4"/>
<ellipse cx="467.6" cy="170.3" rx="6" ry="3.9"/>
<ellipse cx="479.6" cy="167" rx="4.1" ry="5.4"/>
<ellipse cx="82" cy="288.9" rx="4.1" ry="5.4"/>
<ellipse cx="94" cy="285.6" rx="6" ry="3.9"/>
<ellipse cx="106" cy="282.2" rx="4.1" ry="5.4"/>
<ellipse cx="118" cy="278.9" rx="6" ry="3.9"/>
<ellipse cx="130" cy="275.6" rx="4.1" ry="5.4"/>
<ellipse cx="142" cy="272.2" rx="6" ry="3.9"/>
<ellipse cx="153.9" cy="268.9" rx="4.1" ry="5.4"/>
<ellipse cx="165.9" cy="265.5" rx="6" ry="3.9"/>
<ellipse cx="177.9" cy="262.2" rx="4.1" ry="5.4"/>
<ellipse cx="189.9" cy="258.9" rx="6" ry="3.9"/>
<ellipse cx="201.9" cy="255.5" rx="4.1" ry="5.4"/>
<ellipse cx="213.9" cy="252.2" rx="6" ry="3.9"/>
<ellipse cx="225.9" cy="248.9" rx="4.1" ry="5.4"/>
<ellipse cx="237.8" cy="245.5" rx="6" ry="3.9"/>
<ellipse cx="249.8" cy="242.2" rx="4.1" ry="5.4"/>
<ellipse cx="261.8" cy="238.9" rx="6" ry="3.9"/>
<ellipse cx="273.8" cy="235.5" rx="4.1" ry="5.4"/>
<ellipse cx="285.8" cy="232.2" rx="6" ry="3.9"/>
<ellipse cx="297.8" cy="228.9" rx="4.1" ry="5.4"/>
<ellipse cx="309.8" cy="225.5" rx="6" ry="3.9"/>
<ellipse cx="321.7" cy="222.2" rx="4.1" ry="5.4"/>
<ellipse cx="333.7" cy="218.9" rx="6" ry="3.9"/>
<ellipse cx="345.7" cy="215.5" rx="4.1" ry="5.4"/>
<ellipse cx="357.7" cy="212.2" rx="6" ry="3.9"/>
<ellipse cx="369.7" cy="208.9" rx="4.1" ry="5.4"/>
<ellipse cx="381.7" cy="205.5" rx="6" ry="3.9"/>
<ellipse cx="393.6" cy="202.2" rx="4.1" ry="5.4"/>
<ellipse cx="405.6" cy="198.8" rx="6" ry="3.9"/>
<ellipse cx="417.6" cy="195.5" rx="4.1" ry="5.4"/>
<ellipse cx="429.6" cy="192.2" rx="6" ry="3.9"/>
<ellipse cx="441.6" cy="188.8" rx="4.1" ry="5.4"/>
<ellipse cx="453.6" cy="185.5" rx="6" ry="3.9"/>
<ellipse cx="465.6" cy="182.2" rx="4.1" ry="5.4"/>
<ellipse cx="477.5" cy="178.8" rx="6" ry="3.9"/>
<ellipse cx="127.9" cy="287.4" rx="6" ry="3.9"/>
<ellipse cx="139.9" cy="284.1" rx="4.1" ry="5.4"/>
<ellipse cx="151.9" cy="280.7" rx="6" ry="3.9"/>
<ellipse cx="163.9" cy="277.4" rx="4.1" ry="5.4"/>
<ellipse cx="175.9" cy="274.1" rx="6" ry="3.9"/>
<ellipse cx="187.9" cy="270.7" rx="4.1" ry="5.4"/>
<ellipse cx="199.8" cy="267.4" rx="6" ry="3.9"/>
<ellipse cx="211.8" cy="264.1" rx="4.1" ry="5.4"/>
<ellipse cx="223.8" cy="260.7" rx="6" ry="3.9"/>
<ellipse cx="235.8" cy="257.4" rx="4.1" ry="5.4"/>
<ellipse cx="247.8" cy="254.1" rx="6" ry="3.9"/>
<ellipse cx="259.8" cy="250.7" rx="4.1" ry="5.4"/>
<ellipse cx="271.8" cy="247.4" rx="6" ry="3.9"/>
<ellipse cx="283.7" cy="244.1" rx="4.1" ry="5.4"/>
<ellipse cx="295.7" cy="240.7" rx="6" ry="3.9"/>
<ellipse cx="307.7" cy="237.4" rx="4.1" ry="5.4"/>
<ellipse cx="319.7" cy="234" rx="6" ry="3.9"/>
<ellipse cx="331.7" cy="230.7" rx="4.1" ry="5.4"/>
<ellipse cx="343.7" cy="227.4" rx="6" ry="3.9"/>
<ellipse cx="355.6" cy="224" rx="4.1" ry="5.4"/>
<ellipse cx="367.6" cy="220.7" rx="6" ry="3.9"/>
<ellipse cx="379.6" cy="217.4" rx="4.1" ry="5.4"/>
<ellipse cx="391.6" cy="214" rx="6" ry="3.9"/>
<ellipse cx="403.6" cy="210.7" rx="4.1" ry="5.4"/>
<ellipse cx="415.6" cy="207.4" rx="6" ry="3.9"/>
<ellipse cx="427.6" cy="204" rx="4.1" ry="5.4"/>
<ellipse cx="439.5" cy="200.7" rx="6" ry="3.9"/>
<ellipse cx="451.5" cy="197.4" rx="4.1" ry="5.4"/>
<ellipse cx="463.5" cy="194" rx="6" ry="3.9"/>
<ellipse cx="475.5" cy="190.7" rx="4.1" ry="5.4"/>
<ellipse cx="173.8" cy="285.9" rx="4.1" ry="5.4"/>
<ellipse cx="185.8" cy="282.6" rx="6" ry="3.9"/>
<ellipse cx="197.8" cy="279.3" rx="4.1" ry="5.4"/>
<ellipse cx="209.8" cy="275.9" rx="6" ry="3.9"/>
<ellipse cx="221.8" cy="272.6" rx="4.1" ry="5.4"/>
<ellipse cx="233.8" cy="269.2" rx="6" ry="3.9"/>
<ellipse cx="245.7" cy="265.9" rx="4.1" ry="5.4"/>
<ellipse cx="257.7" cy="262.6" rx="6" ry="3.9"/>
<ellipse cx="269.7" cy="259.2" rx="4.1" ry="5.4"/>
<ellipse cx="281.7" cy="255.9" rx="6" ry="3.9"/>
<ellipse cx="293.7" cy="252.6" rx="4.1" ry="5.4"/>
<ellipse cx="305.7" cy="249.2" rx="6" ry="3.9"/>
<ellipse cx="317.6" cy="245.9" rx="4.1" ry="5.4"/>
<ellipse cx="329.6" cy="242.6" rx="6" ry="3.9"/>
<ellipse cx="341.6" cy="239.2" rx="4.1" ry="5.4"/>
<ellipse cx="353.6" cy="235.9" rx="6" ry="3.9"/>
<ellipse cx="365.6" cy="232.6" rx="4.1" ry="5.4"/>
<ellipse cx="377.6" cy="229.2" rx="6" ry="3.9"/>
<ellipse cx="389.6" cy="225.9" rx="4.1" ry="5.4"/>
<ellipse cx="401.5" cy="222.6" rx="6" ry="3.9"/>
<ellipse cx="413.5" cy="219.2" rx="4.1" ry="5.4"/>
<ellipse cx="425.5" cy="215.9" rx="6" ry="3.9"/>
<ellipse cx="437.5" cy="212.6" rx="4.1" ry="5.4"/>
<ellipse cx="449.5" cy="209.2" rx="6" ry="3.9"/>
<ellipse cx="461.5" cy="205.9" rx="4.1" ry="5.4"/>
<ellipse cx="473.5" cy="202.5" rx="6" ry="3.9"/>
<ellipse cx="207.7" cy="287.8" rx="4.1" ry="5.4"/>
<ellipse cx="219.7" cy="284.4" rx="6" ry="3.9"/>
<ellipse cx="231.7" cy="281.1" rx="4.1" ry="5.4"/>
<ellipse cx="243.7" cy="277.8" rx="6" ry="3.9"/>
<ellipse cx="255.7" cy="274.4" rx="4.1" ry="5.4"/>
<ellipse cx="267.7" cy="271.1" rx="6" ry="3.9"/>
<ellipse cx="279.6" cy="267.8" rx="4.1" ry="5.4"/>
<ellipse cx="291.6" cy="264.4" rx="6" ry="3.9"/>
<ellipse cx="303.6" cy="261.1" rx="4.1" ry="5.4"/>
<ellipse cx="315.6" cy="257.8" rx="6" ry="3.9"/>
<ellipse cx="327.6" cy="254.4" rx="4.1" ry="5.4"/>
<ellipse cx="339.6" cy="251.1" rx="6" ry="3.9"/>
<ellipse cx="351.6" cy="247.8" rx="4.1" ry="5.4"/>
<ellipse cx="363.5" cy="244.4" rx="6" ry="3.9"/>
<ellipse cx="375.5" cy="241.1" rx="4.1" ry="5.4"/>
<ellipse cx="387.5" cy="237.8" rx="6" ry="3.9"/>
<ellipse cx="399.5" cy="234.4" rx="4.1" ry="5.4"/>
<ellipse cx="411.5" cy="231.1" rx="6" ry="3.9"/>
<ellipse cx="423.5" cy="227.7" rx="4.1" ry="5.4"/>
<ellipse cx="435.4" cy="224.4" rx="6" ry="3.9"/>
<ellipse cx="447.4" cy="221.1" rx="4.1" ry="5.4"/>
<ellipse cx="459.4" cy="217.7" rx="6" ry="3.9"/>
<ellipse cx="471.4" cy="214.4" rx="4.1" ry="5.4"/>
<ellipse cx="253.6" cy="286.3" rx="6" ry="3.9"/>
<ellipse cx="265.6" cy="283" rx="4.1" ry="5.4"/>
<ellipse cx="277.6" cy="279.6" rx="6" ry="3.9"/>
<ellipse cx="289.6" cy="276.3" rx="4.1" ry="5.4"/>
<ellipse cx="301.6" cy="272.9" rx="6" ry="3.9"/>
<ellipse cx="313.6" cy="269.6" rx="4.1" ry="5.4"/>
<ellipse cx="325.5" cy="266.3" rx="6" ry="3.9"/>
<ellipse cx="337.5" cy="262.9" rx="4.1" ry="5.4"/>
<ellipse cx="349.5" cy="259.6" rx="6" ry="3.9"/>
<ellipse cx="361.5" cy="256.3" rx="4.1" ry="5.4"/>
<ellipse cx="373.5" cy="252.9" rx="6" ry="3.9"/>
<ellipse cx="385.5" cy="249.6" rx="4.1" ry="5.4"/>
<ellipse cx="397.5" cy="246.3" rx="6" ry="3.9"/>
<ellipse cx="409.4" cy="242.9" rx="4.1" ry="5.4"/>
<ellipse cx="421.4" cy="239.6" rx="6" ry="3.9"/>
<ellipse cx="433.4" cy="236.3" rx="4.1" ry="5.4"/>
<ellipse cx="445.4" cy="232.9" rx="6" ry="3.9"/>
<ellipse cx="457.4" cy="229.6" rx="4.1" ry="5.4"/>
<ellipse cx="469.4" cy="226.3" rx="6" ry="3.9"/>
<ellipse cx="481.3" cy="222.9" rx="4.1" ry="5.4"/>
<ellipse cx="287.5" cy="288.1" rx="6" ry="3.9"/>
<ellipse cx="299.5" cy="284.8" rx="4.1" ry="5.4"/>
<ellipse cx="311.5" cy="281.5" rx="6" ry="3.9"/>
<ellipse cx="323.5" cy="278.1" rx="4.1" ry="5.4"/>
<ellipse cx="335.5" cy="274.8" rx="6" ry="3.9"/>
<ellipse cx="347.5" cy="271.5" rx="4.1" ry="5.4"/>
<ellipse cx="359.4" cy="268.1" rx="6" ry="3.9"/>
<ellipse cx="371.4" cy="264.8" rx="4.1" ry="5.4"/>
<ellipse cx="383.4" cy="261.5" rx="6" ry="3.9"/>
<ellipse cx="395.4" cy="258.1" rx="4.1" ry="5.4"/>
<ellipse cx="407.4" cy="254.8" rx="6" ry="3.9"/>
<ellipse cx="419.4" cy="251.5" rx="4.1" ry="5.4"/>
<ellipse cx="431.4" cy="248.1" rx="6" ry="3.9"/>
<ellipse cx="443.3" cy="244.8" rx="4.1" ry="5.4"/>
<ellipse cx="455.3" cy="241.4" rx="6" ry="3.9"/>
<ellipse cx="467.3" cy="238.1" rx="4.1" ry="5.4"/>
<ellipse cx="479.3" cy="234.8" rx="6" ry="3.9"/>
<ellipse cx="333.4" cy="286.7" rx="4.1" ry="5.4"/>
<ellipse cx="345.4" cy="283.3" rx="6" ry="3.9"/>
<ellipse cx="357.4" cy="280" rx="4.1" ry="5.4"/>
<ellipse cx="369.4" cy="276.7" rx="6" ry="3.9"/>
<ellipse cx="381.4" cy="273.3" rx="4.1" ry="5.4"/>
<ellipse cx="393.4" cy="270" rx="6" ry="3.9"/>
<ellipse cx="405.3" cy="266.6" rx="4.1" ry="5.4"/>
<ellipse cx="417.3" cy="263.3" rx="6" ry="3.9"/>
<ellipse cx="429.3" cy="260" rx="4.1" ry="5.4"/>
<ellipse cx="441.3" cy="256.6" rx="6" ry="3.9"/>
<ellipse cx="453.3" cy="253.3" rx="4.1" ry="5.4"/>
<ellipse cx="465.3" cy="250" rx="6" ry="3.9"/>
<ellipse cx="477.3" cy="246.6" rx="4.1" ry="5.4"/>
<ellipse cx="367.3" cy="288.5" rx="4.1" ry="5.4"/>
<ellipse cx="379.3" cy="285.2" rx="6" ry="3.9"/>
<ellipse cx="391.3" cy="281.8" rx="4.1" ry="5.4"/>
<ellipse cx="403.3" cy="278.5" rx="6" ry="3.9"/>
<ellipse cx="415.3" cy="275.2" rx="4.1" ry="5.4"/>
<ellipse cx="427.3" cy="271.8" rx="6" ry="3.9"/>
<ellipse cx="439.3" cy="268.5" rx="4.1" ry="5.4"/>
<ellipse cx="451.2" cy="265.2" rx="6" ry="3.9"/>
<ellipse cx="463.2" cy="261.8" rx="4.1" ry="5.4"/>
<ellipse cx="475.2" cy="258.5" rx="6" ry="3.9"/>
<ellipse cx="413.2" cy="287" rx="6" ry="3.9"/>
<ellipse cx="425.2" cy="283.7" rx="4.1" ry="5.4"/>
<ellipse cx="437.2" cy="280.3" rx="6" ry="3.9"/>
<ellipse cx="449.2" cy="277" rx="4.1" ry="5.4"/>
<ellipse cx="461.2" cy="273.7" rx="6" ry="3.9"/>
<ellipse cx="473.2" cy="270.3" rx="4.1" ry="5.4"/>
<ellipse cx="447.1" cy="288.9" rx="6" ry="3.9"/>
<ellipse cx="459.1" cy="285.5" rx="4.1" ry="5.4"/>
<ellipse cx="471.1" cy="282.2" rx="6" ry="3.9"/>
</g>
<ellipse cx="102.9" cy="49.4" rx="9.2" ry="8.4" fill="#2e2060" opacity="0.6" filter="url(#bl2)"/>
<ellipse cx="102.9" cy="49.4" rx="6.2" ry="5.4" fill="url(#gY)" stroke="#24102a" stroke-width="2"/>
<ellipse cx="318.6" cy="32" rx="9.2" ry="8.4" fill="#2e2060" opacity="0.6" filter="url(#bl2)"/>
<ellipse cx="318.6" cy="32" rx="6.2" ry="5.4" fill="url(#gY)" stroke="#24102a" stroke-width="2"/>
<ellipse cx="351.1" cy="34.3" rx="9.2" ry="8.4" fill="#2e2060" opacity="0.6" filter="url(#bl2)"/>
<ellipse cx="351.1" cy="34.3" rx="6.2" ry="5.4" fill="url(#gY)" stroke="#24102a" stroke-width="2"/>
<ellipse cx="446.2" cy="20.1" rx="9.2" ry="8.4" fill="#2e2060" opacity="0.6" filter="url(#bl2)"/>
<ellipse cx="446.2" cy="20.1" rx="6.2" ry="5.4" fill="url(#gY)" stroke="#24102a" stroke-width="2"/>
<ellipse cx="411.4" cy="42.5" rx="9.2" ry="8.4" fill="#2e2060" opacity="0.6" filter="url(#bl2)"/>
<ellipse cx="411.4" cy="42.5" rx="6.2" ry="5.4" fill="url(#gY)" stroke="#24102a" stroke-width="2"/>
<ellipse cx="319.1" cy="85" rx="9.2" ry="8.4" fill="#2e2060" opacity="0.6" filter="url(#bl2)"/>
<ellipse cx="319.1" cy="85" rx="6.2" ry="5.4" fill="url(#gY)" stroke="#24102a" stroke-width="2"/>
<ellipse cx="403.2" cy="83.2" rx="9.2" ry="8.4" fill="#2e2060" opacity="0.6" filter="url(#bl2)"/>
<ellipse cx="403.2" cy="83.2" rx="6.2" ry="5.4" fill="url(#gY)" stroke="#24102a" stroke-width="2"/>
<ellipse cx="183.6" cy="174.2" rx="9.2" ry="8.4" fill="#2e2060" opacity="0.6" filter="url(#bl2)"/>
<ellipse cx="183.6" cy="174.2" rx="6.2" ry="5.4" fill="url(#gY)" stroke="#24102a" stroke-width="2"/>
<ellipse cx="461.7" cy="183.8" rx="9.2" ry="8.4" fill="#2e2060" opacity="0.6" filter="url(#bl2)"/>
<ellipse cx="461.7" cy="183.8" rx="6.2" ry="5.4" fill="url(#gY)" stroke="#24102a" stroke-width="2"/>
<ellipse cx="423.8" cy="211.7" rx="9.2" ry="8.4" fill="#2e2060" opacity="0.6" filter="url(#bl2)"/>
<ellipse cx="423.8" cy="211.7" rx="6.2" ry="5.4" fill="url(#gY)" stroke="#24102a" stroke-width="2"/>
<ellipse cx="90.5" cy="225.8" rx="9.2" ry="8.4" fill="#2e2060" opacity="0.6" filter="url(#bl2)"/>
<ellipse cx="90.5" cy="225.8" rx="6.2" ry="5.4" fill="url(#gY)" stroke="#24102a" stroke-width="2"/>
<ellipse cx="106.1" cy="266.1" rx="9.2" ry="8.4" fill="#2e2060" opacity="0.6" filter="url(#bl2)"/>
<ellipse cx="106.1" cy="266.1" rx="6.2" ry="5.4" fill="url(#gY)" stroke="#24102a" stroke-width="2"/>
<ellipse cx="140.8" cy="262" rx="9.2" ry="8.4" fill="#2e2060" opacity="0.6" filter="url(#bl2)"/>
<ellipse cx="140.8" cy="262" rx="6.2" ry="5.4" fill="url(#gY)" stroke="#24102a" stroke-width="2"/>
<ellipse cx="307.2" cy="261.5" rx="9.2" ry="8.4" fill="#2e2060" opacity="0.6" filter="url(#bl2)"/>
<ellipse cx="307.2" cy="261.5" rx="6.2" ry="5.4" fill="url(#gY)" stroke="#24102a" stroke-width="2"/>
<ellipse cx="367.5" cy="278" rx="9.2" ry="8.4" fill="#2e2060" opacity="0.6" filter="url(#bl2)"/>
<ellipse cx="367.5" cy="278" rx="6.2" ry="5.4" fill="url(#gY)" stroke="#24102a" stroke-width="2"/>
<ellipse cx="38.6" cy="48" rx="9.2" ry="8.4" fill="#2e2060" opacity="0.6" filter="url(#bl2)"/>
<ellipse cx="38.6" cy="48" rx="6.2" ry="5.4" fill="url(#gY)" stroke="#24102a" stroke-width="2"/>
<ellipse cx="119.3" cy="115.4" rx="13" ry="8" fill="#3b2a6e" opacity="0.55" filter="url(#bl2)" transform="rotate(12 119.3 115.4)"/>
<g stroke="#2b1428" stroke-width="2.6"><ellipse cx="114.1" cy="114.4" rx="5.8" ry="5.2"/><ellipse cx="124.4" cy="116.4" rx="5.8" ry="5.2"/></g>
<ellipse cx="114.1" cy="114.4" rx="5.8" ry="5.2" fill="url(#gY)"/><ellipse cx="124.4" cy="116.4" rx="5.8" ry="5.2" fill="url(#gY)"/>
</g>
<rect x="46.5" y="7.5" width="426" height="271" fill="none" stroke="#2e2c55" stroke-width="1.2"/>
<circle cx="118.4" cy="114.3" r="25.6" fill="none" stroke="#fff" stroke-width="3"/>
<text x="156.6" y="126.9" font-size="17.3" fill="#fff" textLength="42.3" lengthAdjust="spacingAndGlyphs">Dimer</text>
<rect x="410" y="267" width="50" height="4.3" fill="#fff"/>
<text x="416.5" y="260.9" font-size="16.5" fill="#fff">50 Å</text>
<text x="1" y="16.6" font-size="18.5" fill="#000" font-weight="bold">a</text>
<text x="0.3" y="311.7" font-size="18.5" fill="#000" font-weight="bold">b</text>
<clipPath id="ci1"><rect x="316" y="302" width="150" height="148"/></clipPath>
<g clip-path="url(#ci1)">
<rect x="316" y="302" width="150" height="148" fill="#7a70bb"/>
<g filter="url(#bl6)">
<ellipse cx="382.9" cy="386" rx="23.1" ry="8.8" fill="#aca7dc" opacity="0.6" transform="rotate(4.4 382.9 386)"/>
<ellipse cx="337.4" cy="378" rx="19.6" ry="10.8" fill="#52479f" opacity="0.6" transform="rotate(-9.8 337.4 378)"/>
<ellipse cx="321.4" cy="428" rx="20.3" ry="6.3" fill="#aca7dc" opacity="0.8" transform="rotate(23.2 321.4 428)"/>
<ellipse cx="417.2" cy="395.4" rx="13.9" ry="6.1" fill="#52479f" opacity="0.8" transform="rotate(-22 417.2 395.4)"/>
<ellipse cx="338.3" cy="332.6" rx="12.4" ry="8.8" fill="#aca7dc" opacity="0.6" transform="rotate(17.1 338.3 332.6)"/>
<ellipse cx="394.3" cy="399.6" rx="18" ry="10" fill="#52479f" opacity="0.8" transform="rotate(-11.1 394.3 399.6)"/>
<ellipse cx="475.6" cy="459.3" rx="22.1" ry="10.2" fill="#aca7dc" opacity="0.6" transform="rotate(-13.5 475.6 459.3)"/>
<ellipse cx="355.1" cy="303.8" rx="21.2" ry="8.4" fill="#52479f" opacity="0.9" transform="rotate(-5.7 355.1 303.8)"/>
<ellipse cx="468.9" cy="434.3" rx="12" ry="7.3" fill="#aca7dc" opacity="0.8" transform="rotate(-1.5 468.9 434.3)"/>
<ellipse cx="472.7" cy="358.8" rx="12.9" ry="9.8" fill="#52479f" opacity="0.9" transform="rotate(-11.5 472.7 358.8)"/>
<ellipse cx="320.8" cy="347.9" rx="23.6" ry="10.5" fill="#aca7dc" opacity="0.5" transform="rotate(-12.7 320.8 347.9)"/>
<ellipse cx="323.2" cy="302.1" rx="21.6" ry="7.1" fill="#52479f" opacity="0.8" transform="rotate(-2.6 323.2 302.1)"/>
<ellipse cx="338.4" cy="415" rx="13.6" ry="9.9" fill="#aca7dc" opacity="0.5" transform="rotate(-4 338.4 415)"/>
<ellipse cx="342.2" cy="337.3" rx="23.7" ry="10.8" fill="#52479f" opacity="0.7" transform="rotate(19.2 342.2 337.3)"/>
<ellipse cx="341.8" cy="358.2" rx="22.3" ry="9.9" fill="#aca7dc" opacity="0.5" transform="rotate(24.5 341.8 358.2)"/>
<ellipse cx="342.3" cy="335.4" rx="21.3" ry="8" fill="#52479f" opacity="0.7" transform="rotate(-21.3 342.3 335.4)"/>
<ellipse cx="321.3" cy="389.9" rx="14.9" ry="9.6" fill="#aca7dc" opacity="0.6" transform="rotate(-2.3 321.3 389.9)"/>
<ellipse cx="469.1" cy="373.3" rx="18.9" ry="11.2" fill="#52479f" opacity="0.7" transform="rotate(-17.3 469.1 373.3)"/>
<ellipse cx="460.4" cy="429.4" rx="15" ry="7.1" fill="#aca7dc" opacity="0.7" transform="rotate(22 460.4 429.4)"/>
<ellipse cx="339.4" cy="451.6" rx="22.6" ry="9.6" fill="#52479f" opacity="0.7" transform="rotate(-19.8 339.4 451.6)"/>
<ellipse cx="312.6" cy="453.7" rx="14.9" ry="10.2" fill="#aca7dc" opacity="0.5" transform="rotate(16.2 312.6 453.7)"/>
<ellipse cx="407.4" cy="341.3" rx="14.1" ry="10.3" fill="#52479f" opacity="0.6" transform="rotate(-13.6 407.4 341.3)"/>
<ellipse cx="401.1" cy="435.2" rx="19.4" ry="7.7" fill="#aca7dc" opacity="0.8" transform="rotate(-14.8 401.1 435.2)"/>
<ellipse cx="308.8" cy="337.2" rx="17.3" ry="6.4" fill="#52479f" opacity="0.7" transform="rotate(-6.6 308.8 337.2)"/>
<ellipse cx="403.3" cy="314.1" rx="16.3" ry="11.3" fill="#aca7dc" opacity="0.8" transform="rotate(7.8 403.3 314.1)"/>
<ellipse cx="423.5" cy="390.2" rx="13.7" ry="6.2" fill="#52479f" opacity="0.6" transform="rotate(20.5 423.5 390.2)"/>
<ellipse cx="425.2" cy="453.7" rx="12.3" ry="9.8" fill="#aca7dc" opacity="0.6" transform="rotate(11.5 425.2 453.7)"/>
<ellipse cx="360.2" cy="459.9" rx="12.9" ry="9.3" fill="#52479f" opacity="0.9" transform="rotate(20 360.2 459.9)"/>
<ellipse cx="431.3" cy="410.2" rx="21.5" ry="11.5" fill="#aca7dc" opacity="0.6" transform="rotate(9.3 431.3 410.2)"/>
<ellipse cx="459.1" cy="438.3" rx="17" ry="10.7" fill="#52479f" opacity="0.9" transform="rotate(3.6 459.1 438.3)"/>
<ellipse cx="412.2" cy="356.2" rx="19" ry="9.7" fill="#aca7dc" opacity="0.5" transform="rotate(7 412.2 356.2)"/>
<ellipse cx="474.9" cy="439.8" rx="20.7" ry="8.3" fill="#52479f" opacity="0.9" transform="rotate(4 474.9 439.8)"/>
<ellipse cx="380.9" cy="432.8" rx="13" ry="10.5" fill="#aca7dc" opacity="0.5" transform="rotate(5.1 380.9 432.8)"/>
<ellipse cx="387.8" cy="330.7" rx="20.4" ry="9" fill="#52479f" opacity="0.8" transform="rotate(21 387.8 330.7)"/>
<ellipse cx="349.5" cy="293.9" rx="15.6" ry="10.1" fill="#aca7dc" opacity="0.5" transform="rotate(-16.5 349.5 293.9)"/>
<ellipse cx="460" cy="402.9" rx="17.3" ry="11.4" fill="#52479f" opacity="0.7" transform="rotate(8.3 460 402.9)"/>
<ellipse cx="339.7" cy="364.4" rx="21.7" ry="11.5" fill="#aca7dc" opacity="0.8" transform="rotate(-5.8 339.7 364.4)"/>
<ellipse cx="405.1" cy="345.2" rx="13.6" ry="9" fill="#52479f" opacity="0.9" transform="rotate(17.4 405.1 345.2)"/>
<ellipse cx="426.9" cy="451.6" rx="15.3" ry="7" fill="#aca7dc" opacity="0.6" transform="rotate(-11.2 426.9 451.6)"/>
<ellipse cx="342.4" cy="361.5" rx="19.5" ry="9" fill="#52479f" opacity="0.7" transform="rotate(17 342.4 361.5)"/>
<ellipse cx="472.9" cy="368" rx="12.9" ry="6.2" fill="#aca7dc" opacity="0.8" transform="rotate(-22.9 472.9 368)"/>
<ellipse cx="426.5" cy="387.9" rx="15.7" ry="10.7" fill="#52479f" opacity="0.6" transform="rotate(-18.2 426.5 387.9)"/>
<ellipse cx="383.3" cy="296.2" rx="22" ry="7.4" fill="#aca7dc" opacity="0.5" transform="rotate(-22.7 383.3 296.2)"/>
<ellipse cx="413" cy="367" rx="19.6" ry="9.9" fill="#52479f" opacity="0.9" transform="rotate(22.9 413 367)"/>
<ellipse cx="422.4" cy="325.5" rx="17.7" ry="7.1" fill="#aca7dc" opacity="0.5" transform="rotate(-1.4 422.4 325.5)"/>
<ellipse cx="427.4" cy="322.1" rx="15.3" ry="8.1" fill="#52479f" opacity="0.8" transform="rotate(1 427.4 322.1)"/>
<ellipse cx="410.5" cy="419" rx="16.7" ry="10.8" fill="#aca7dc" opacity="0.8" transform="rotate(-20.6 410.5 419)"/>
<ellipse cx="464.5" cy="413.4" rx="13.6" ry="8.7" fill="#52479f" opacity="0.8" transform="rotate(20.5 464.5 413.4)"/>
<ellipse cx="370.1" cy="387.6" rx="22.6" ry="10.8" fill="#aca7dc" opacity="0.8" transform="rotate(-1.8 370.1 387.6)"/>
<ellipse cx="416.7" cy="326.4" rx="20.7" ry="10.9" fill="#52479f" opacity="0.8" transform="rotate(10.9 416.7 326.4)"/>
<ellipse cx="342.3" cy="443.2" rx="23.8" ry="11.9" fill="#aca7dc" opacity="0.6" transform="rotate(14.5 342.3 443.2)"/>
<ellipse cx="360.5" cy="444.9" rx="22.3" ry="8.1" fill="#52479f" opacity="0.6" transform="rotate(-3 360.5 444.9)"/>
<ellipse cx="399.6" cy="421.1" rx="17.8" ry="6.2" fill="#aca7dc" opacity="0.7" transform="rotate(-21.8 399.6 421.1)"/>
<ellipse cx="442" cy="321" rx="16" ry="10.7" fill="#52479f" opacity="0.6" transform="rotate(-17.6 442 321)"/>
<ellipse cx="393.8" cy="413.6" rx="22.1" ry="10.1" fill="#aca7dc" opacity="0.8" transform="rotate(-0.4 393.8 413.6)"/>
<ellipse cx="467.4" cy="306.5" rx="14.7" ry="9.2" fill="#52479f" opacity="0.7" transform="rotate(11.4 467.4 306.5)"/>
<ellipse cx="414.6" cy="379.8" rx="22.1" ry="9.4" fill="#aca7dc" opacity="0.6" transform="rotate(-5.9 414.6 379.8)"/>
<ellipse cx="449.7" cy="443.3" rx="14.5" ry="11.1" fill="#52479f" opacity="0.9" transform="rotate(1.2 449.7 443.3)"/>
<ellipse cx="403.4" cy="325.8" rx="18.4" ry="9" fill="#aca7dc" opacity="0.7" transform="rotate(-23.6 403.4 325.8)"/>
<ellipse cx="470.8" cy="378.7" rx="16.8" ry="10.8" fill="#52479f" opacity="0.8" transform="rotate(-0.4 470.8 378.7)"/>
</g>
<g filter="url(#bl5)" fill="#352483" opacity="1">
<ellipse cx="391.2" cy="375" rx="18" ry="18"/>
<ellipse cx="377.2" cy="355.1" rx="30.6" ry="27.9"/>
<ellipse cx="406.2" cy="395.7" rx="31.9" ry="28.3"/>
</g>
<g fill="#1a1018">
<ellipse cx="391.2" cy="375" rx="13.6" ry="13.6"/>
<ellipse cx="377.2" cy="355.1" rx="26.2" ry="23.5"/>
<ellipse cx="406.2" cy="395.7" rx="27.5" ry="23.9"/>
</g>
<g fill="#e08a2a">
<ellipse cx="391.2" cy="375" rx="12" ry="12"/>
<ellipse cx="377.2" cy="355.1" rx="24.6" ry="21.9"/>
<ellipse cx="406.2" cy="395.7" rx="25.9" ry="22.3"/>
</g>
<ellipse cx="391.2" cy="375" rx="12" ry="12" fill="url(#gY2)"/>
<ellipse cx="377.2" cy="355.1" rx="24.6" ry="21.9" fill="url(#gY2)"/>
<ellipse cx="406.2" cy="395.7" rx="25.9" ry="22.3" fill="url(#gY2)"/>
<path d="M372.3 343.3L378.2 340.8M372.3 343.3L371.5 349.7M372.3 343.3L367.2 339.4M378.2 340.8L383.3 344.7M378.2 340.8L379 334.4M371.5 349.7L376.6 353.5M371.5 349.7L365.6 352.2M376.6 353.5L382.5 351M376.6 353.5L376 358.8M382.5 351L383.3 344.7M382.5 351L386.8 354.2M383.3 344.7L389.2 342.1M389.2 342.1L390 335.8M389.2 342.1L393.6 345.5M367.2 339.4L368 333.1M367.2 339.4L361.3 341.9M368 333.1L373.9 330.6M368 333.1L363.7 329.9M373.9 330.6L379 334.4M373.9 330.6L374.5 325.3M379 334.4L384.9 331.9M384.9 331.9L390 335.8M384.9 331.9L385.5 326.4M360.5 348.3L354.6 350.8M360.5 348.3L365.6 352.2M360.5 348.3L361.3 341.9M354.6 350.8L353.8 357.2M354.6 350.8L349.5 346.9M365.6 352.2L364.8 358.5M364.8 358.5L358.9 361M364.8 358.5L369.1 361.7M358.9 361L353.8 357.2M358.9 361L358.3 366.3M353.8 357.2L347.9 359.7M347.9 359.7L342.8 355.8M347.9 359.7L347.3 365.2M361.3 341.9L356.2 338.1M356.2 338.1L350.3 340.6M356.2 338.1L356.8 332.8M350.3 340.6L349.5 346.9M350.3 340.6L346 337.4M349.5 346.9L343.6 349.5M343.6 349.5L342.8 355.8M343.6 349.5L339.2 346.1" stroke="#555" stroke-width="2.2" fill="none"/>
<circle cx="372.3" cy="343.3" r="1.5" fill="url(#gC)"/>
<circle cx="378.2" cy="340.8" r="1.5" fill="url(#gC)"/>
<circle cx="371.5" cy="349.7" r="1.5" fill="url(#gC)"/>
<circle cx="376.6" cy="353.5" r="1.5" fill="url(#gC)"/>
<circle cx="382.5" cy="351" r="1.5" fill="url(#gC)"/>
<circle cx="383.3" cy="344.7" r="1.5" fill="url(#gC)"/>
<circle cx="389.2" cy="342.1" r="1.5" fill="url(#gC)"/>
<circle cx="367.2" cy="339.4" r="1.5" fill="url(#gC)"/>
<circle cx="368" cy="333.1" r="1.5" fill="url(#gC)"/>
<circle cx="373.9" cy="330.6" r="1.5" fill="url(#gC)"/>
<circle cx="379" cy="334.4" r="1.5" fill="url(#gC)"/>
<circle cx="384.9" cy="331.9" r="1.5" fill="url(#gC)"/>
<circle cx="360.5" cy="348.3" r="1.5" fill="url(#gC)"/>
<circle cx="354.6" cy="350.8" r="1.5" fill="url(#gC)"/>
<circle cx="365.6" cy="352.2" r="1.5" fill="url(#gC)"/>
<circle cx="364.8" cy="358.5" r="1.5" fill="url(#gC)"/>
<circle cx="358.9" cy="361" r="1.5" fill="url(#gC)"/>
<circle cx="353.8" cy="357.2" r="1.5" fill="url(#gC)"/>
<circle cx="347.9" cy="359.7" r="1.5" fill="url(#gC)"/>
<circle cx="361.3" cy="341.9" r="1.5" fill="url(#gC)"/>
<circle cx="356.2" cy="338.1" r="1.5" fill="url(#gC)"/>
<circle cx="350.3" cy="340.6" r="1.5" fill="url(#gC)"/>
<circle cx="349.5" cy="346.9" r="1.5" fill="url(#gC)"/>
<circle cx="343.6" cy="349.5" r="1.5" fill="url(#gC)"/>
<circle cx="390" cy="335.8" r="1.7" fill="url(#gO)"/>
<circle cx="393.6" cy="345.5" r="1.7" fill="url(#gO)"/>
<circle cx="385.5" cy="326.4" r="1.7" fill="url(#gO)"/>
<circle cx="342.8" cy="355.8" r="1.7" fill="url(#gO)"/>
<circle cx="347.3" cy="365.2" r="1.7" fill="url(#gO)"/>
<circle cx="339.2" cy="346.1" r="1.7" fill="url(#gO)"/>
<circle cx="376" cy="358.8" r="1.5" fill="url(#gH)"/>
<circle cx="386.8" cy="354.2" r="1.5" fill="url(#gH)"/>
<circle cx="363.7" cy="329.9" r="1.5" fill="url(#gH)"/>
<circle cx="374.5" cy="325.3" r="1.5" fill="url(#gH)"/>
<circle cx="369.1" cy="361.7" r="1.5" fill="url(#gH)"/>
<circle cx="358.3" cy="366.3" r="1.5" fill="url(#gH)"/>
<circle cx="356.8" cy="332.8" r="1.5" fill="url(#gH)"/>
<circle cx="346" cy="337.4" r="1.5" fill="url(#gH)"/>
<circle cx="376.6" cy="353.5" r="1.8" fill="#d4b020"/>
<path d="M393.5 395.8L394.7 402.1M393.5 395.8L387.5 393.7M393.5 395.8L398.4 391.6M394.7 402.1L389.9 406.3M394.7 402.1L400.8 404.1M387.5 393.7L382.6 397.9M387.5 393.7L386.2 387.4M382.6 397.9L383.9 404.2M382.6 397.9L377.6 396.1M383.9 404.2L389.9 406.3M383.9 404.2L379.8 407.7M389.9 406.3L391.1 412.5M391.1 412.5L397.2 414.6M391.1 412.5L386.9 416.2M398.4 391.6L404.4 393.7M398.4 391.6L397.1 385.3M404.4 393.7L405.6 399.9M404.4 393.7L408.5 390.1M405.6 399.9L400.8 404.1M405.6 399.9L410.7 401.7M400.8 404.1L402 410.4M402 410.4L397.2 414.6M402 410.4L407.3 412.2M391.1 383.2L389.9 376.9M391.1 383.2L386.2 387.4M391.1 383.2L397.1 385.3M389.9 376.9L383.8 374.9M389.9 376.9L394.7 372.7M386.2 387.4L380.2 385.3M380.2 385.3L379 379.1M380.2 385.3L376.1 388.9M379 379.1L383.8 374.9M379 379.1L373.9 377.3M383.8 374.9L382.6 368.6M382.6 368.6L387.4 364.4M382.6 368.6L377.3 366.8M397.1 385.3L402 381.1M402 381.1L400.7 374.8M402 381.1L407 382.9M400.7 374.8L394.7 372.7M400.7 374.8L404.8 371.3M394.7 372.7L393.5 366.5M393.5 366.5L387.4 364.4M393.5 366.5L397.7 362.8" stroke="#555" stroke-width="2.2" fill="none"/>
<circle cx="393.5" cy="395.8" r="1.5" fill="url(#gC)"/>
<circle cx="394.7" cy="402.1" r="1.5" fill="url(#gC)"/>
<circle cx="387.5" cy="393.7" r="1.5" fill="url(#gC)"/>
<circle cx="382.6" cy="397.9" r="1.5" fill="url(#gC)"/>
<circle cx="383.9" cy="404.2" r="1.5" fill="url(#gC)"/>
<circle cx="389.9" cy="406.3" r="1.5" fill="url(#gC)"/>
<circle cx="391.1" cy="412.5" r="1.5" fill="url(#gC)"/>
<circle cx="398.4" cy="391.6" r="1.5" fill="url(#gC)"/>
<circle cx="404.4" cy="393.7" r="1.5" fill="url(#gC)"/>
<circle cx="405.6" cy="399.9" r="1.5" fill="url(#gC)"/>
<circle cx="400.8" cy="404.1" r="1.5" fill="url(#gC)"/>
<circle cx="402" cy="410.4" r="1.5" fill="url(#gC)"/>
<circle cx="391.1" cy="383.2" r="1.5" fill="url(#gC)"/>
<circle cx="389.9" cy="376.9" r="1.5" fill="url(#gC)"/>
<circle cx="386.2" cy="387.4" r="1.5" fill="url(#gC)"/>
<circle cx="380.2" cy="385.3" r="1.5" fill="url(#gC)"/>
<circle cx="379" cy="379.1" r="1.5" fill="url(#gC)"/>
<circle cx="383.8" cy="374.9" r="1.5" fill="url(#gC)"/>
<circle cx="382.6" cy="368.6" r="1.5" fill="url(#gC)"/>
<circle cx="397.1" cy="385.3" r="1.5" fill="url(#gC)"/>
<circle cx="402" cy="381.1" r="1.5" fill="url(#gC)"/>
<circle cx="400.7" cy="374.8" r="1.5" fill="url(#gC)"/>
<circle cx="394.7" cy="372.7" r="1.5" fill="url(#gC)"/>
<circle cx="393.5" cy="366.5" r="1.5" fill="url(#gC)"/>
<circle cx="397.2" cy="414.6" r="1.7" fill="url(#gO)"/>
<circle cx="386.9" cy="416.2" r="1.7" fill="url(#gO)"/>
<circle cx="407.3" cy="412.2" r="1.7" fill="url(#gO)"/>
<circle cx="387.4" cy="364.4" r="1.7" fill="url(#gO)"/>
<circle cx="377.3" cy="366.8" r="1.7" fill="url(#gO)"/>
<circle cx="397.7" cy="362.8" r="1.7" fill="url(#gO)"/>
<circle cx="377.6" cy="396.1" r="1.5" fill="url(#gH)"/>
<circle cx="379.8" cy="407.7" r="1.5" fill="url(#gH)"/>
<circle cx="408.5" cy="390.1" r="1.5" fill="url(#gH)"/>
<circle cx="410.7" cy="401.7" r="1.5" fill="url(#gH)"/>
<circle cx="376.1" cy="388.9" r="1.5" fill="url(#gH)"/>
<circle cx="373.9" cy="377.3" r="1.5" fill="url(#gH)"/>
<circle cx="407" cy="382.9" r="1.5" fill="url(#gH)"/>
<circle cx="404.8" cy="371.3" r="1.5" fill="url(#gH)"/>
<circle cx="404.4" cy="393.7" r="1.8" fill="#d4b020"/>
</g>
<rect x="316.5" y="302.5" width="149" height="147" fill="none" stroke="#c4303c" stroke-width="1.6"/>
<rect x="410.3" y="307.4" width="47.7" height="4" fill="#fff"/>
<text x="420" y="330.7" font-size="16.5" fill="#fff" textLength="31.5" lengthAdjust="spacingAndGlyphs">10 Å</text>
<clipPath id="ci2"><rect x="316" y="458.5" width="150" height="149.5"/></clipPath>
<g clip-path="url(#ci2)">
<rect x="316" y="458.5" width="150" height="149.5" fill="#7a70bb"/>
<g filter="url(#bl6)">
<ellipse cx="386.7" cy="559.9" rx="20" ry="6.9" fill="#aca7dc" opacity="0.5" transform="rotate(-6.3 386.7 559.9)"/>
<ellipse cx="352.6" cy="585.9" rx="20.3" ry="9.6" fill="#52479f" opacity="0.8" transform="rotate(8.1 352.6 585.9)"/>
<ellipse cx="330.7" cy="523.1" rx="13.9" ry="11.4" fill="#aca7dc" opacity="0.5" transform="rotate(15.9 330.7 523.1)"/>
<ellipse cx="318.7" cy="564.9" rx="16" ry="8.4" fill="#52479f" opacity="0.9" transform="rotate(-24.1 318.7 564.9)"/>
<ellipse cx="316.3" cy="603.6" rx="18.1" ry="6.5" fill="#aca7dc" opacity="0.8" transform="rotate(22.3 316.3 603.6)"/>
<ellipse cx="325.1" cy="520.2" rx="13.6" ry="7.9" fill="#52479f" opacity="0.8" transform="rotate(-16.8 325.1 520.2)"/>
<ellipse cx="424.5" cy="457.2" rx="14.1" ry="10.9" fill="#aca7dc" opacity="0.6" transform="rotate(-4.1 424.5 457.2)"/>
<ellipse cx="407.3" cy="529.3" rx="16.6" ry="6.2" fill="#52479f" opacity="0.9" transform="rotate(23.4 407.3 529.3)"/>
<ellipse cx="472" cy="561" rx="16.3" ry="8.2" fill="#aca7dc" opacity="0.7" transform="rotate(8.7 472 561)"/>
<ellipse cx="325.4" cy="488.3" rx="16.4" ry="9.1" fill="#52479f" opacity="0.9" transform="rotate(0 325.4 488.3)"/>
<ellipse cx="310.8" cy="587.9" rx="17.2" ry="9.1" fill="#aca7dc" opacity="0.5" transform="rotate(-3.6 310.8 587.9)"/>
<ellipse cx="372" cy="579.3" rx="13.2" ry="9.3" fill="#52479f" opacity="0.7" transform="rotate(9.8 372 579.3)"/>
<ellipse cx="312.3" cy="495.4" rx="16.1" ry="9.8" fill="#aca7dc" opacity="0.5" transform="rotate(-2 312.3 495.4)"/>
<ellipse cx="341.5" cy="496.3" rx="17.7" ry="11.8" fill="#52479f" opacity="0.8" transform="rotate(22.8 341.5 496.3)"/>
<ellipse cx="334.5" cy="605.2" rx="16.4" ry="7.1" fill="#aca7dc" opacity="0.7" transform="rotate(20.6 334.5 605.2)"/>
<ellipse cx="307.1" cy="494" rx="21.2" ry="8.1" fill="#52479f" opacity="0.7" transform="rotate(-24.6 307.1 494)"/>
<ellipse cx="312.8" cy="553.4" rx="23.8" ry="12" fill="#aca7dc" opacity="0.6" transform="rotate(-23.8 312.8 553.4)"/>
<ellipse cx="360.8" cy="582" rx="22" ry="9.8" fill="#52479f" opacity="0.7" transform="rotate(1.4 360.8 582)"/>
<ellipse cx="387.2" cy="554.8" rx="15.2" ry="11.7" fill="#aca7dc" opacity="0.8" transform="rotate(-16.9 387.2 554.8)"/>
<ellipse cx="355.5" cy="596.5" rx="15.3" ry="11.7" fill="#52479f" opacity="0.8" transform="rotate(9.8 355.5 596.5)"/>
<ellipse cx="425.8" cy="484.8" rx="15.4" ry="7.5" fill="#aca7dc" opacity="0.7" transform="rotate(9.7 425.8 484.8)"/>
<ellipse cx="328.4" cy="598.8" rx="17" ry="7.4" fill="#52479f" opacity="0.8" transform="rotate(24 328.4 598.8)"/>
<ellipse cx="401.2" cy="554.4" rx="23" ry="11.8" fill="#aca7dc" opacity="0.7" transform="rotate(-4.1 401.2 554.4)"/>
<ellipse cx="406" cy="601.2" rx="21.5" ry="9.5" fill="#52479f" opacity="0.7" transform="rotate(-6.6 406 601.2)"/>
<ellipse cx="431.1" cy="544" rx="12.2" ry="10.3" fill="#aca7dc" opacity="0.8" transform="rotate(14.9 431.1 544)"/>
<ellipse cx="458.6" cy="602.8" rx="18.4" ry="10.7" fill="#52479f" opacity="0.7" transform="rotate(-20.1 458.6 602.8)"/>
<ellipse cx="366" cy="501.4" rx="23.2" ry="10.1" fill="#aca7dc" opacity="0.6" transform="rotate(6.1 366 501.4)"/>
<ellipse cx="327.2" cy="539.1" rx="20.4" ry="8.4" fill="#52479f" opacity="0.7" transform="rotate(-4.7 327.2 539.1)"/>
<ellipse cx="361" cy="564.7" rx="13.7" ry="6.5" fill="#aca7dc" opacity="0.6" transform="rotate(9.8 361 564.7)"/>
<ellipse cx="435.1" cy="560.3" rx="23.2" ry="8.2" fill="#52479f" opacity="0.6" transform="rotate(-0.6 435.1 560.3)"/>
<ellipse cx="381.4" cy="478.9" rx="20" ry="8" fill="#aca7dc" opacity="0.5" transform="rotate(-8.6 381.4 478.9)"/>
<ellipse cx="466.4" cy="449.8" rx="16.3" ry="7.7" fill="#52479f" opacity="0.7" transform="rotate(-3.4 466.4 449.8)"/>
<ellipse cx="343.5" cy="604.2" rx="18" ry="10.2" fill="#aca7dc" opacity="0.5" transform="rotate(-1.8 343.5 604.2)"/>
<ellipse cx="409.1" cy="591.4" rx="15" ry="8.8" fill="#52479f" opacity="0.9" transform="rotate(16.6 409.1 591.4)"/>
<ellipse cx="344.7" cy="539.7" rx="21.1" ry="8.4" fill="#aca7dc" opacity="0.7" transform="rotate(8.2 344.7 539.7)"/>
<ellipse cx="471.3" cy="542.4" rx="20.2" ry="8.1" fill="#52479f" opacity="0.9" transform="rotate(-8.9 471.3 542.4)"/>
<ellipse cx="391" cy="509.7" rx="15.7" ry="6.8" fill="#aca7dc" opacity="0.5" transform="rotate(2.2 391 509.7)"/>
<ellipse cx="348.8" cy="456.3" rx="21.6" ry="7.7" fill="#52479f" opacity="0.9" transform="rotate(4.9 348.8 456.3)"/>
<ellipse cx="372.1" cy="596.5" rx="22.8" ry="7.9" fill="#aca7dc" opacity="0.5" transform="rotate(7 372.1 596.5)"/>
<ellipse cx="449.3" cy="551.6" rx="21.4" ry="8.5" fill="#52479f" opacity="0.8" transform="rotate(-11.8 449.3 551.6)"/>
<ellipse cx="375.2" cy="512.9" rx="16.6" ry="8.4" fill="#aca7dc" opacity="0.7" transform="rotate(-16.5 375.2 512.9)"/>
<ellipse cx="340.9" cy="491.7" rx="23.7" ry="9.1" fill="#52479f" opacity="0.6" transform="rotate(16.8 340.9 491.7)"/>
<ellipse cx="454.5" cy="587.7" rx="16.3" ry="10.4" fill="#aca7dc" opacity="0.6" transform="rotate(-18.1 454.5 587.7)"/>
<ellipse cx="453.1" cy="589.7" rx="14.5" ry="11.3" fill="#52479f" opacity="0.6" transform="rotate(-9.6 453.1 589.7)"/>
<ellipse cx="308.2" cy="477.5" rx="14" ry="10.3" fill="#aca7dc" opacity="0.6" transform="rotate(-15.5 308.2 477.5)"/>
<ellipse cx="337.3" cy="501.4" rx="22.3" ry="9.6" fill="#52479f" opacity="0.6" transform="rotate(9.2 337.3 501.4)"/>
<ellipse cx="397.2" cy="524.5" rx="18.3" ry="9.9" fill="#aca7dc" opacity="0.7" transform="rotate(0.3 397.2 524.5)"/>
<ellipse cx="414" cy="527.7" rx="19.6" ry="8.3" fill="#52479f" opacity="0.7" transform="rotate(0.8 414 527.7)"/>
<ellipse cx="427.6" cy="495.7" rx="23.1" ry="8.9" fill="#aca7dc" opacity="0.7" transform="rotate(9.5 427.6 495.7)"/>
<ellipse cx="468.6" cy="564.2" rx="17.1" ry="8.4" fill="#52479f" opacity="0.8" transform="rotate(12.7 468.6 564.2)"/>
<ellipse cx="448.6" cy="470.4" rx="12.7" ry="6.6" fill="#aca7dc" opacity="0.5" transform="rotate(-22.2 448.6 470.4)"/>
<ellipse cx="307.4" cy="490.8" rx="13.4" ry="10.1" fill="#52479f" opacity="0.8" transform="rotate(23.3 307.4 490.8)"/>
<ellipse cx="469.3" cy="575.1" rx="23.4" ry="6.2" fill="#aca7dc" opacity="0.5" transform="rotate(21.3 469.3 575.1)"/>
<ellipse cx="386.8" cy="483.5" rx="21.1" ry="8.5" fill="#52479f" opacity="0.8" transform="rotate(-9.2 386.8 483.5)"/>
<ellipse cx="347.1" cy="463.3" rx="19.3" ry="11.7" fill="#aca7dc" opacity="0.8" transform="rotate(13.3 347.1 463.3)"/>
<ellipse cx="464.7" cy="509.9" rx="15.6" ry="11.5" fill="#52479f" opacity="0.8" transform="rotate(8.5 464.7 509.9)"/>
<ellipse cx="308.1" cy="487.2" rx="17.8" ry="10.4" fill="#aca7dc" opacity="0.7" transform="rotate(12.9 308.1 487.2)"/>
<ellipse cx="363.7" cy="513.2" rx="22.3" ry="11.9" fill="#52479f" opacity="0.8" transform="rotate(-15.3 363.7 513.2)"/>
<ellipse cx="412.2" cy="539.3" rx="16.3" ry="7.4" fill="#aca7dc" opacity="0.6" transform="rotate(5.6 412.2 539.3)"/>
<ellipse cx="327.6" cy="540.2" rx="23.4" ry="10.5" fill="#52479f" opacity="0.7" transform="rotate(-4.1 327.6 540.2)"/>
</g>
<g filter="url(#bl5)" fill="#352483" opacity="1">
<ellipse cx="388.6" cy="528.5" rx="20" ry="20"/>
<ellipse cx="368.5" cy="511.4" rx="34" ry="32.2"/>
<ellipse cx="409.6" cy="547.1" rx="36.3" ry="32.7"/>
</g>
<g fill="#1a1018">
<ellipse cx="388.6" cy="528.5" rx="15.6" ry="15.6"/>
<ellipse cx="368.5" cy="511.4" rx="29.6" ry="27.8"/>
<ellipse cx="409.6" cy="547.1" rx="31.9" ry="28.3"/>
</g>
<g fill="#e08a2a">
<ellipse cx="388.6" cy="528.5" rx="14" ry="14"/>
<ellipse cx="368.5" cy="511.4" rx="28" ry="26.2"/>
<ellipse cx="409.6" cy="547.1" rx="30.3" ry="26.7"/>
</g>
<ellipse cx="388.6" cy="528.5" rx="14" ry="14" fill="url(#gY2)"/>
<ellipse cx="368.5" cy="511.4" rx="28" ry="26.2" fill="url(#gY2)"/>
<ellipse cx="409.6" cy="547.1" rx="30.3" ry="26.7" fill="url(#gY2)"/>
<path d="M376.7 494.3L382.6 491.9M376.7 494.3L375.9 500.7M376.7 494.3L371.6 490.5M382.6 491.9L387.7 495.8M382.6 491.9L383.4 485.5M375.9 500.7L381 504.6M375.9 500.7L370 503.1M381 504.6L386.9 502.1M381 504.6L380.3 509.9M386.9 502.1L387.7 495.8M386.9 502.1L391.1 505.4M387.7 495.8L393.6 493.3M393.6 493.3L394.4 487M393.6 493.3L398 496.7M371.6 490.5L372.4 484.1M371.6 490.5L365.7 492.9M372.4 484.1L378.4 481.6M372.4 484.1L368.2 480.8M378.4 481.6L383.4 485.5M378.4 481.6L379 476.3M383.4 485.5L389.3 483.1M389.3 483.1L394.4 487M389.3 483.1L390.1 477.6M364.9 499.3L359 501.7M364.9 499.3L370 503.1M364.9 499.3L365.7 492.9M359 501.7L358.2 508.1M359 501.7L353.9 497.8M370 503.1L369.2 509.5M369.2 509.5L363.2 512M369.2 509.5L373.4 512.8M363.2 512L358.2 508.1M363.2 512L362.6 517.3M358.2 508.1L352.3 510.5M352.3 510.5L347.2 506.6M352.3 510.5L351.5 516M365.7 492.9L360.6 489M360.6 489L354.7 491.5M360.6 489L361.3 483.7M354.7 491.5L353.9 497.8M354.7 491.5L350.5 488.2M353.9 497.8L348 500.3M348 500.3L347.2 506.6M348 500.3L343.6 496.9" stroke="#555" stroke-width="2.2" fill="none"/>
<circle cx="376.7" cy="494.3" r="1.5" fill="url(#gC)"/>
<circle cx="382.6" cy="491.9" r="1.5" fill="url(#gC)"/>
<circle cx="375.9" cy="500.7" r="1.5" fill="url(#gC)"/>
<circle cx="381" cy="504.6" r="1.5" fill="url(#gC)"/>
<circle cx="386.9" cy="502.1" r="1.5" fill="url(#gC)"/>
<circle cx="387.7" cy="495.8" r="1.5" fill="url(#gC)"/>
<circle cx="393.6" cy="493.3" r="1.5" fill="url(#gC)"/>
<circle cx="371.6" cy="490.5" r="1.5" fill="url(#gC)"/>
<circle cx="372.4" cy="484.1" r="1.5" fill="url(#gC)"/>
<circle cx="378.4" cy="481.6" r="1.5" fill="url(#gC)"/>
<circle cx="383.4" cy="485.5" r="1.5" fill="url(#gC)"/>
<circle cx="389.3" cy="483.1" r="1.5" fill="url(#gC)"/>
<circle cx="364.9" cy="499.3" r="1.5" fill="url(#gC)"/>
<circle cx="359" cy="501.7" r="1.5" fill="url(#gC)"/>
<circle cx="370" cy="503.1" r="1.5" fill="url(#gC)"/>
<circle cx="369.2" cy="509.5" r="1.5" fill="url(#gC)"/>
<circle cx="363.2" cy="512" r="1.5" fill="url(#gC)"/>
<circle cx="358.2" cy="508.1" r="1.5" fill="url(#gC)"/>
<circle cx="352.3" cy="510.5" r="1.5" fill="url(#gC)"/>
<circle cx="365.7" cy="492.9" r="1.5" fill="url(#gC)"/>
<circle cx="360.6" cy="489" r="1.5" fill="url(#gC)"/>
<circle cx="354.7" cy="491.5" r="1.5" fill="url(#gC)"/>
<circle cx="353.9" cy="497.8" r="1.5" fill="url(#gC)"/>
<circle cx="348" cy="500.3" r="1.5" fill="url(#gC)"/>
<circle cx="394.4" cy="487" r="1.7" fill="url(#gO)"/>
<circle cx="398" cy="496.7" r="1.7" fill="url(#gO)"/>
<circle cx="390.1" cy="477.6" r="1.7" fill="url(#gO)"/>
<circle cx="347.2" cy="506.6" r="1.7" fill="url(#gO)"/>
<circle cx="351.5" cy="516" r="1.7" fill="url(#gO)"/>
<circle cx="343.6" cy="496.9" r="1.7" fill="url(#gO)"/>
<circle cx="380.3" cy="509.9" r="1.5" fill="url(#gH)"/>
<circle cx="391.1" cy="505.4" r="1.5" fill="url(#gH)"/>
<circle cx="368.2" cy="480.8" r="1.5" fill="url(#gH)"/>
<circle cx="379" cy="476.3" r="1.5" fill="url(#gH)"/>
<circle cx="373.4" cy="512.8" r="1.5" fill="url(#gH)"/>
<circle cx="362.6" cy="517.3" r="1.5" fill="url(#gH)"/>
<circle cx="361.3" cy="483.7" r="1.5" fill="url(#gH)"/>
<circle cx="350.5" cy="488.2" r="1.5" fill="url(#gH)"/>
<circle cx="369.2" cy="509.5" r="1.8" fill="#d4b020"/>
<path d="M394.4 546.1L395.5 552.4M394.4 546.1L388.4 543.9M394.4 546.1L399.4 542.1M395.5 552.4L390.5 556.5M395.5 552.4L401.5 554.7M388.4 543.9L383.5 547.9M388.4 543.9L387.4 537.5M383.5 547.9L384.5 554.2M383.5 547.9L378.5 546M384.5 554.2L390.5 556.5M384.5 554.2L380.4 557.6M390.5 556.5L391.6 562.8M391.6 562.8L397.5 565.1M391.6 562.8L387.2 566.3M399.4 542.1L405.4 544.3M399.4 542.1L398.4 535.7M405.4 544.3L406.4 550.6M405.4 544.3L409.5 540.9M406.4 550.6L401.5 554.7M406.4 550.6L411.4 552.5M401.5 554.7L402.5 561M402.5 561L397.5 565.1M402.5 561L407.7 563M392.4 533.5L391.3 527.2M392.4 533.5L387.4 537.5M392.4 533.5L398.4 535.7M391.3 527.2L385.3 524.9M391.3 527.2L396.3 523.1M387.4 537.5L381.4 535.3M381.4 535.3L380.4 529M381.4 535.3L377.3 538.7M380.4 529L385.3 524.9M380.4 529L375.4 527.1M385.3 524.9L384.3 518.6M384.3 518.6L389.3 514.5M384.3 518.6L379.1 516.6M398.4 535.7L403.3 531.7M403.3 531.7L402.3 525.4M403.3 531.7L408.3 533.6M402.3 525.4L396.3 523.1M402.3 525.4L406.4 522M396.3 523.1L395.2 516.8M395.2 516.8L389.3 514.5M395.2 516.8L399.6 513.3" stroke="#555" stroke-width="2.2" fill="none"/>
<circle cx="394.4" cy="546.1" r="1.5" fill="url(#gC)"/>
<circle cx="395.5" cy="552.4" r="1.5" fill="url(#gC)"/>
<circle cx="388.4" cy="543.9" r="1.5" fill="url(#gC)"/>
<circle cx="383.5" cy="547.9" r="1.5" fill="url(#gC)"/>
<circle cx="384.5" cy="554.2" r="1.5" fill="url(#gC)"/>
<circle cx="390.5" cy="556.5" r="1.5" fill="url(#gC)"/>
<circle cx="391.6" cy="562.8" r="1.5" fill="url(#gC)"/>
<circle cx="399.4" cy="542.1" r="1.5" fill="url(#gC)"/>
<circle cx="405.4" cy="544.3" r="1.5" fill="url(#gC)"/>
<circle cx="406.4" cy="550.6" r="1.5" fill="url(#gC)"/>
<circle cx="401.5" cy="554.7" r="1.5" fill="url(#gC)"/>
<circle cx="402.5" cy="561" r="1.5" fill="url(#gC)"/>
<circle cx="392.4" cy="533.5" r="1.5" fill="url(#gC)"/>
<circle cx="391.3" cy="527.2" r="1.5" fill="url(#gC)"/>
<circle cx="387.4" cy="537.5" r="1.5" fill="url(#gC)"/>
<circle cx="381.4" cy="535.3" r="1.5" fill="url(#gC)"/>
<circle cx="380.4" cy="529" r="1.5" fill="url(#gC)"/>
<circle cx="385.3" cy="524.9" r="1.5" fill="url(#gC)"/>
<circle cx="384.3" cy="518.6" r="1.5" fill="url(#gC)"/>
<circle cx="398.4" cy="535.7" r="1.5" fill="url(#gC)"/>
<circle cx="403.3" cy="531.7" r="1.5" fill="url(#gC)"/>
<circle cx="402.3" cy="525.4" r="1.5" fill="url(#gC)"/>
<circle cx="396.3" cy="523.1" r="1.5" fill="url(#gC)"/>
<circle cx="395.2" cy="516.8" r="1.5" fill="url(#gC)"/>
<circle cx="397.5" cy="565.1" r="1.7" fill="url(#gO)"/>
<circle cx="387.2" cy="566.3" r="1.7" fill="url(#gO)"/>
<circle cx="407.7" cy="563" r="1.7" fill="url(#gO)"/>
<circle cx="389.3" cy="514.5" r="1.7" fill="url(#gO)"/>
<circle cx="379.1" cy="516.6" r="1.7" fill="url(#gO)"/>
<circle cx="399.6" cy="513.3" r="1.7" fill="url(#gO)"/>
<circle cx="378.5" cy="546" r="1.5" fill="url(#gH)"/>
<circle cx="380.4" cy="557.6" r="1.5" fill="url(#gH)"/>
<circle cx="409.5" cy="540.9" r="1.5" fill="url(#gH)"/>
<circle cx="411.4" cy="552.5" r="1.5" fill="url(#gH)"/>
<circle cx="377.3" cy="538.7" r="1.5" fill="url(#gH)"/>
<circle cx="375.4" cy="527.1" r="1.5" fill="url(#gH)"/>
<circle cx="408.3" cy="533.6" r="1.5" fill="url(#gH)"/>
<circle cx="406.4" cy="522" r="1.5" fill="url(#gH)"/>
<circle cx="405.4" cy="544.3" r="1.8" fill="#d4b020"/>
</g>
<rect x="316.5" y="459" width="149" height="148.5" fill="none" stroke="#5d9a48" stroke-width="1.6"/>
<clipPath id="ci3"><rect x="316" y="615" width="150" height="149"/></clipPath>
<g clip-path="url(#ci3)">
<rect x="316" y="615" width="150" height="149" fill="#7a70bb"/>
<g filter="url(#bl6)">
<ellipse cx="350" cy="720.8" rx="20.2" ry="11.1" fill="#aca7dc" opacity="0.5" transform="rotate(-13.5 350 720.8)"/>
<ellipse cx="331" cy="643.1" rx="20.8" ry="6.8" fill="#52479f" opacity="0.8" transform="rotate(-14.3 331 643.1)"/>
<ellipse cx="356.1" cy="677.9" rx="22.1" ry="9.7" fill="#aca7dc" opacity="0.5" transform="rotate(-11.2 356.1 677.9)"/>
<ellipse cx="330.9" cy="752.2" rx="21.7" ry="10.8" fill="#52479f" opacity="0.9" transform="rotate(12.2 330.9 752.2)"/>
<ellipse cx="467.4" cy="739.1" rx="15.1" ry="11.1" fill="#aca7dc" opacity="0.6" transform="rotate(12.8 467.4 739.1)"/>
<ellipse cx="401.9" cy="677.6" rx="16.4" ry="8.6" fill="#52479f" opacity="0.7" transform="rotate(-19.1 401.9 677.6)"/>
<ellipse cx="445.3" cy="739.9" rx="23.8" ry="10.1" fill="#aca7dc" opacity="0.6" transform="rotate(12.4 445.3 739.9)"/>
<ellipse cx="328.9" cy="719.4" rx="17.3" ry="7.1" fill="#52479f" opacity="0.7" transform="rotate(1.1 328.9 719.4)"/>
<ellipse cx="349.1" cy="682.6" rx="19.3" ry="8.4" fill="#aca7dc" opacity="0.5" transform="rotate(-0.5 349.1 682.6)"/>
<ellipse cx="346" cy="644.8" rx="14.3" ry="8.2" fill="#52479f" opacity="0.6" transform="rotate(7.6 346 644.8)"/>
<ellipse cx="468.1" cy="670.9" rx="20.6" ry="11.6" fill="#aca7dc" opacity="0.5" transform="rotate(-17.9 468.1 670.9)"/>
<ellipse cx="443" cy="746.6" rx="19.7" ry="7" fill="#52479f" opacity="0.7" transform="rotate(18.4 443 746.6)"/>
<ellipse cx="456.7" cy="740.7" rx="14.4" ry="11.1" fill="#aca7dc" opacity="0.6" transform="rotate(10.8 456.7 740.7)"/>
<ellipse cx="329.3" cy="769.2" rx="19.2" ry="10.3" fill="#52479f" opacity="0.7" transform="rotate(5.9 329.3 769.2)"/>
<ellipse cx="404.7" cy="704.9" rx="16.3" ry="10.4" fill="#aca7dc" opacity="0.6" transform="rotate(-10.2 404.7 704.9)"/>
<ellipse cx="334" cy="720.6" rx="13.3" ry="7.4" fill="#52479f" opacity="0.6" transform="rotate(7.2 334 720.6)"/>
<ellipse cx="400.5" cy="696.8" rx="12.5" ry="8.6" fill="#aca7dc" opacity="0.6" transform="rotate(-20.4 400.5 696.8)"/>
<ellipse cx="306.5" cy="773.6" rx="13.5" ry="7.8" fill="#52479f" opacity="0.7" transform="rotate(4.9 306.5 773.6)"/>
<ellipse cx="319.2" cy="684.4" rx="16.4" ry="11" fill="#aca7dc" opacity="0.5" transform="rotate(-8.3 319.2 684.4)"/>
<ellipse cx="390.4" cy="768.9" rx="18.2" ry="8.8" fill="#52479f" opacity="0.8" transform="rotate(-10.2 390.4 768.9)"/>
<ellipse cx="311.4" cy="689.7" rx="22.9" ry="10.4" fill="#aca7dc" opacity="0.5" transform="rotate(9.2 311.4 689.7)"/>
<ellipse cx="450.4" cy="648.7" rx="19.1" ry="8.1" fill="#52479f" opacity="0.7" transform="rotate(-10.6 450.4 648.7)"/>
<ellipse cx="340.7" cy="664.3" rx="12.5" ry="8.4" fill="#aca7dc" opacity="0.5" transform="rotate(12.9 340.7 664.3)"/>
<ellipse cx="408" cy="605.7" rx="21.3" ry="7.1" fill="#52479f" opacity="0.8" transform="rotate(2.7 408 605.7)"/>
<ellipse cx="362.6" cy="653.9" rx="17.2" ry="6.8" fill="#aca7dc" opacity="0.8" transform="rotate(-19.4 362.6 653.9)"/>
<ellipse cx="446" cy="641.9" rx="15.6" ry="8.3" fill="#52479f" opacity="0.6" transform="rotate(-18.6 446 641.9)"/>
<ellipse cx="367.4" cy="679.7" rx="22.5" ry="11.9" fill="#aca7dc" opacity="0.5" transform="rotate(1.8 367.4 679.7)"/>
<ellipse cx="328" cy="740.8" rx="15.9" ry="11.4" fill="#52479f" opacity="0.8" transform="rotate(-18.7 328 740.8)"/>
<ellipse cx="306.8" cy="646.9" rx="22.4" ry="6.9" fill="#aca7dc" opacity="0.6" transform="rotate(-6.4 306.8 646.9)"/>
<ellipse cx="364.6" cy="740.5" rx="14.6" ry="10.3" fill="#52479f" opacity="0.8" transform="rotate(21.8 364.6 740.5)"/>
<ellipse cx="394.4" cy="760.6" rx="17.3" ry="9.4" fill="#aca7dc" opacity="0.7" transform="rotate(17 394.4 760.6)"/>
<ellipse cx="458.6" cy="624.5" rx="13.6" ry="9.2" fill="#52479f" opacity="0.9" transform="rotate(1.7 458.6 624.5)"/>
<ellipse cx="356.9" cy="767.6" rx="15.6" ry="6.5" fill="#aca7dc" opacity="0.5" transform="rotate(-23.5 356.9 767.6)"/>
<ellipse cx="429.6" cy="623.1" rx="20.6" ry="11.2" fill="#52479f" opacity="0.9" transform="rotate(15.5 429.6 623.1)"/>
<ellipse cx="378.1" cy="710.1" rx="22" ry="10.3" fill="#aca7dc" opacity="0.6" transform="rotate(13.1 378.1 710.1)"/>
<ellipse cx="324.6" cy="657.1" rx="24" ry="8.8" fill="#52479f" opacity="0.7" transform="rotate(14.2 324.6 657.1)"/>
<ellipse cx="382.5" cy="605.6" rx="12.4" ry="7.6" fill="#aca7dc" opacity="0.6" transform="rotate(21.9 382.5 605.6)"/>
<ellipse cx="348" cy="748.7" rx="22.2" ry="8.5" fill="#52479f" opacity="0.9" transform="rotate(13.1 348 748.7)"/>
<ellipse cx="388.3" cy="649.2" rx="17.5" ry="11.4" fill="#aca7dc" opacity="0.6" transform="rotate(-15.3 388.3 649.2)"/>
<ellipse cx="369.8" cy="685.5" rx="14.3" ry="9.4" fill="#52479f" opacity="0.6" transform="rotate(16.1 369.8 685.5)"/>
<ellipse cx="336.4" cy="622.4" rx="19.1" ry="7.8" fill="#aca7dc" opacity="0.8" transform="rotate(-0.2 336.4 622.4)"/>
<ellipse cx="394.6" cy="746" rx="14.6" ry="10.5" fill="#52479f" opacity="0.8" transform="rotate(-3.6 394.6 746)"/>
<ellipse cx="469.1" cy="608.7" rx="22.3" ry="6.9" fill="#aca7dc" opacity="0.7" transform="rotate(-17.3 469.1 608.7)"/>
<ellipse cx="315.1" cy="689.6" rx="23.1" ry="7.5" fill="#52479f" opacity="0.8" transform="rotate(5.4 315.1 689.6)"/>
<ellipse cx="347.4" cy="694.6" rx="12.1" ry="8.7" fill="#aca7dc" opacity="0.7" transform="rotate(-8 347.4 694.6)"/>
<ellipse cx="343.5" cy="613.6" rx="20.4" ry="8.6" fill="#52479f" opacity="0.9" transform="rotate(12 343.5 613.6)"/>
<ellipse cx="323.1" cy="759.5" rx="23.2" ry="10.9" fill="#aca7dc" opacity="0.7" transform="rotate(9.1 323.1 759.5)"/>
<ellipse cx="428.5" cy="717.8" rx="19.1" ry="7.5" fill="#52479f" opacity="0.6" transform="rotate(11.3 428.5 717.8)"/>
<ellipse cx="407.4" cy="614.5" rx="19.7" ry="9.7" fill="#aca7dc" opacity="0.6" transform="rotate(13.8 407.4 614.5)"/>
<ellipse cx="455" cy="669.4" rx="21.8" ry="9" fill="#52479f" opacity="0.8" transform="rotate(-4.3 455 669.4)"/>
<ellipse cx="464.6" cy="680.1" rx="23.4" ry="8" fill="#aca7dc" opacity="0.7" transform="rotate(20.6 464.6 680.1)"/>
<ellipse cx="422.2" cy="668.4" rx="12.9" ry="8.9" fill="#52479f" opacity="0.7" transform="rotate(15.7 422.2 668.4)"/>
<ellipse cx="439.3" cy="771.7" rx="17.4" ry="8.5" fill="#aca7dc" opacity="0.6" transform="rotate(12.5 439.3 771.7)"/>
<ellipse cx="319.6" cy="641.4" rx="13.7" ry="7.9" fill="#52479f" opacity="0.7" transform="rotate(23.4 319.6 641.4)"/>
<ellipse cx="341.3" cy="762.8" rx="15.5" ry="7.2" fill="#aca7dc" opacity="0.8" transform="rotate(-20.5 341.3 762.8)"/>
<ellipse cx="325.2" cy="626.7" rx="12.8" ry="8.3" fill="#52479f" opacity="0.7" transform="rotate(-17 325.2 626.7)"/>
<ellipse cx="308.7" cy="723" rx="12.6" ry="7.4" fill="#aca7dc" opacity="0.6" transform="rotate(19.2 308.7 723)"/>
<ellipse cx="418.1" cy="724.8" rx="20.4" ry="10.8" fill="#52479f" opacity="0.9" transform="rotate(-17.2 418.1 724.8)"/>
<ellipse cx="315.2" cy="709.9" rx="18.2" ry="9.1" fill="#aca7dc" opacity="0.7" transform="rotate(-16.3 315.2 709.9)"/>
<ellipse cx="426" cy="677.1" rx="17.1" ry="7.5" fill="#52479f" opacity="0.7" transform="rotate(3.9 426 677.1)"/>
</g>
<g filter="url(#bl5)" fill="#352483" opacity="1">
<ellipse cx="389.7" cy="702.2" rx="25.5" ry="25.5"/>
<ellipse cx="400.1" cy="684.4" rx="32" ry="32"/>
<ellipse cx="379.3" cy="720" rx="33" ry="33"/>
</g>
<g fill="#1a1018">
<ellipse cx="389.7" cy="702.2" rx="21.1" ry="21.1"/>
<ellipse cx="400.1" cy="684.4" rx="27.6" ry="27.6"/>
<ellipse cx="379.3" cy="720" rx="28.6" ry="28.6"/>
</g>
<g fill="#e08a2a">
<ellipse cx="389.7" cy="702.2" rx="19.5" ry="19.5"/>
<ellipse cx="400.1" cy="684.4" rx="26" ry="26"/>
<ellipse cx="379.3" cy="720" rx="27" ry="27"/>
</g>
<ellipse cx="389.7" cy="702.2" rx="19.5" ry="19.5" fill="url(#gY2)"/>
<ellipse cx="400.1" cy="684.4" rx="26" ry="26" fill="url(#gY2)"/>
<ellipse cx="379.3" cy="720" rx="27" ry="27" fill="url(#gY2)"/>
<path d="M417.7 679.2L423.5 681.9M417.7 679.2L412.5 682.9M417.7 679.2L417.1 672.8M423.5 681.9L424.1 688.3M423.5 681.9L428.7 678.2M412.5 682.9L413 689.3M412.5 682.9L406.7 680.2M413 689.3L418.8 692M413 689.3L408.6 692.3M418.8 692L424.1 688.3M418.8 692L419.3 697.3M424.1 688.3L429.9 691M429.9 691L435.1 687.3M429.9 691L430.3 696.5M417.1 672.8L422.4 669.2M417.1 672.8L411.3 670.1M422.4 669.2L428.2 671.9M422.4 669.2L421.9 663.8M428.2 671.9L428.7 678.2M428.2 671.9L432.6 668.8M428.7 678.2L434.5 680.9M434.5 680.9L435.1 687.3M434.5 680.9L439.1 677.7M406.1 673.8L400.3 671.1M406.1 673.8L406.7 680.2M406.1 673.8L411.3 670.1M400.3 671.1L395.1 674.8M400.3 671.1L399.7 664.7M406.7 680.2L401.4 683.8M401.4 683.8L395.6 681.1M401.4 683.8L401.9 689.2M395.6 681.1L395.1 674.8M395.6 681.1L391.2 684.2M395.1 674.8L389.3 672.1M389.3 672.1L388.7 665.7M389.3 672.1L384.7 675.3M411.3 670.1L410.8 663.7M410.8 663.7L405 661M410.8 663.7L415.2 660.7M405 661L399.7 664.7M405 661L404.5 655.7M399.7 664.7L393.9 662M393.9 662L388.7 665.7M393.9 662L393.5 656.5" stroke="#555" stroke-width="2.2" fill="none"/>
<circle cx="417.7" cy="679.2" r="1.5" fill="url(#gC)"/>
<circle cx="423.5" cy="681.9" r="1.5" fill="url(#gC)"/>
<circle cx="412.5" cy="682.9" r="1.5" fill="url(#gC)"/>
<circle cx="413" cy="689.3" r="1.5" fill="url(#gC)"/>
<circle cx="418.8" cy="692" r="1.5" fill="url(#gC)"/>
<circle cx="424.1" cy="688.3" r="1.5" fill="url(#gC)"/>
<circle cx="429.9" cy="691" r="1.5" fill="url(#gC)"/>
<circle cx="417.1" cy="672.8" r="1.5" fill="url(#gC)"/>
<circle cx="422.4" cy="669.2" r="1.5" fill="url(#gC)"/>
<circle cx="428.2" cy="671.9" r="1.5" fill="url(#gC)"/>
<circle cx="428.7" cy="678.2" r="1.5" fill="url(#gC)"/>
<circle cx="434.5" cy="680.9" r="1.5" fill="url(#gC)"/>
<circle cx="406.1" cy="673.8" r="1.5" fill="url(#gC)"/>
<circle cx="400.3" cy="671.1" r="1.5" fill="url(#gC)"/>
<circle cx="406.7" cy="680.2" r="1.5" fill="url(#gC)"/>
<circle cx="401.4" cy="683.8" r="1.5" fill="url(#gC)"/>
<circle cx="395.6" cy="681.1" r="1.5" fill="url(#gC)"/>
<circle cx="395.1" cy="674.8" r="1.5" fill="url(#gC)"/>
<circle cx="389.3" cy="672.1" r="1.5" fill="url(#gC)"/>
<circle cx="411.3" cy="670.1" r="1.5" fill="url(#gC)"/>
<circle cx="410.8" cy="663.7" r="1.5" fill="url(#gC)"/>
<circle cx="405" cy="661" r="1.5" fill="url(#gC)"/>
<circle cx="399.7" cy="664.7" r="1.5" fill="url(#gC)"/>
<circle cx="393.9" cy="662" r="1.5" fill="url(#gC)"/>
<circle cx="435.1" cy="687.3" r="1.7" fill="url(#gO)"/>
<circle cx="430.3" cy="696.5" r="1.7" fill="url(#gO)"/>
<circle cx="439.1" cy="677.7" r="1.7" fill="url(#gO)"/>
<circle cx="388.7" cy="665.7" r="1.7" fill="url(#gO)"/>
<circle cx="384.7" cy="675.3" r="1.7" fill="url(#gO)"/>
<circle cx="393.5" cy="656.5" r="1.7" fill="url(#gO)"/>
<circle cx="408.6" cy="692.3" r="1.5" fill="url(#gH)"/>
<circle cx="419.3" cy="697.3" r="1.5" fill="url(#gH)"/>
<circle cx="421.9" cy="663.8" r="1.5" fill="url(#gH)"/>
<circle cx="432.6" cy="668.8" r="1.5" fill="url(#gH)"/>
<circle cx="401.9" cy="689.2" r="1.5" fill="url(#gH)"/>
<circle cx="391.2" cy="684.2" r="1.5" fill="url(#gH)"/>
<circle cx="415.2" cy="660.7" r="1.5" fill="url(#gH)"/>
<circle cx="404.5" cy="655.7" r="1.5" fill="url(#gH)"/>
<circle cx="401.4" cy="683.8" r="1.8" fill="#d4b020"/>
<path d="M392.3 728.4L388.1 733.3M392.3 728.4L390.2 722.4M392.3 728.4L398.6 729.7M388.1 733.3L381.8 732M388.1 733.3L390.2 739.3M390.2 722.4L383.9 721.2M390.2 722.4L394.4 717.5M383.9 721.2L379.7 726M383.9 721.2L382.2 716.1M379.7 726L381.8 732M379.7 726L374.5 725M381.8 732L377.6 736.9M377.6 736.9L379.7 742.9M377.6 736.9L372.2 735.8M398.6 729.7L400.7 735.7M398.6 729.7L402.8 724.8M400.7 735.7L396.5 740.5M400.7 735.7L405.9 736.7M396.5 740.5L390.2 739.3M396.5 740.5L398.2 745.6M390.2 739.3L386 744.1M386 744.1L379.7 742.9M386 744.1L387.8 749.4M400.7 718.8L404.9 713.9M400.7 718.8L394.4 717.5M400.7 718.8L402.8 724.8M404.9 713.9L402.8 707.9M404.9 713.9L411.2 715.2M394.4 717.5L392.3 711.5M392.3 711.5L396.5 706.7M392.3 711.5L387.1 710.5M396.5 706.7L402.8 707.9M396.5 706.7L394.8 701.6M402.8 707.9L407 703.1M407 703.1L413.3 704.3M407 703.1L405.2 697.8M402.8 724.8L409.1 726M409.1 726L413.3 721.2M409.1 726L410.8 731.1M413.3 721.2L411.2 715.2M413.3 721.2L418.5 722.2M411.2 715.2L415.4 710.3M415.4 710.3L413.3 704.3M415.4 710.3L420.8 711.4" stroke="#555" stroke-width="2.2" fill="none"/>
<circle cx="392.3" cy="728.4" r="1.5" fill="url(#gC)"/>
<circle cx="388.1" cy="733.3" r="1.5" fill="url(#gC)"/>
<circle cx="390.2" cy="722.4" r="1.5" fill="url(#gC)"/>
<circle cx="383.9" cy="721.2" r="1.5" fill="url(#gC)"/>
<circle cx="379.7" cy="726" r="1.5" fill="url(#gC)"/>
<circle cx="381.8" cy="732" r="1.5" fill="url(#gC)"/>
<circle cx="377.6" cy="736.9" r="1.5" fill="url(#gC)"/>
<circle cx="398.6" cy="729.7" r="1.5" fill="url(#gC)"/>
<circle cx="400.7" cy="735.7" r="1.5" fill="url(#gC)"/>
<circle cx="396.5" cy="740.5" r="1.5" fill="url(#gC)"/>
<circle cx="390.2" cy="739.3" r="1.5" fill="url(#gC)"/>
<circle cx="386" cy="744.1" r="1.5" fill="url(#gC)"/>
<circle cx="400.7" cy="718.8" r="1.5" fill="url(#gC)"/>
<circle cx="404.9" cy="713.9" r="1.5" fill="url(#gC)"/>
<circle cx="394.4" cy="717.5" r="1.5" fill="url(#gC)"/>
<circle cx="392.3" cy="711.5" r="1.5" fill="url(#gC)"/>
<circle cx="396.5" cy="706.7" r="1.5" fill="url(#gC)"/>
<circle cx="402.8" cy="707.9" r="1.5" fill="url(#gC)"/>
<circle cx="407" cy="703.1" r="1.5" fill="url(#gC)"/>
<circle cx="402.8" cy="724.8" r="1.5" fill="url(#gC)"/>
<circle cx="409.1" cy="726" r="1.5" fill="url(#gC)"/>
<circle cx="413.3" cy="721.2" r="1.5" fill="url(#gC)"/>
<circle cx="411.2" cy="715.2" r="1.5" fill="url(#gC)"/>
<circle cx="415.4" cy="710.3" r="1.5" fill="url(#gC)"/>
<circle cx="379.7" cy="742.9" r="1.7" fill="url(#gO)"/>
<circle cx="372.2" cy="735.8" r="1.7" fill="url(#gO)"/>
<circle cx="387.8" cy="749.4" r="1.7" fill="url(#gO)"/>
<circle cx="413.3" cy="704.3" r="1.7" fill="url(#gO)"/>
<circle cx="405.2" cy="697.8" r="1.7" fill="url(#gO)"/>
<circle cx="420.8" cy="711.4" r="1.7" fill="url(#gO)"/>
<circle cx="382.2" cy="716.1" r="1.5" fill="url(#gH)"/>
<circle cx="374.5" cy="725" r="1.5" fill="url(#gH)"/>
<circle cx="405.9" cy="736.7" r="1.5" fill="url(#gH)"/>
<circle cx="398.2" cy="745.6" r="1.5" fill="url(#gH)"/>
<circle cx="387.1" cy="710.5" r="1.5" fill="url(#gH)"/>
<circle cx="394.8" cy="701.6" r="1.5" fill="url(#gH)"/>
<circle cx="410.8" cy="731.1" r="1.5" fill="url(#gH)"/>
<circle cx="418.5" cy="722.2" r="1.5" fill="url(#gH)"/>
<circle cx="383.9" cy="721.2" r="1.8" fill="#d4b020"/>
</g>
<rect x="316.5" y="615.5" width="149" height="148" fill="none" stroke="#2f6bb0" stroke-width="1.6"/>
<path d="M44.7 302.3H296.3V768H44.7Z" fill="none" stroke="#5a5a5a" stroke-width="1.3"/>
<line x1="63.8" y1="768" x2="63.8" y2="776" stroke="#5a5a5a" stroke-width="1.3"/>
<text x="63.8" y="796.5" font-size="17.5" fill="#222" text-anchor="middle">30</text>
<text x="54.2" y="796.5" font-size="17.5" fill="#222" text-anchor="end">−</text>
<line x1="99.3" y1="768" x2="99.3" y2="776" stroke="#5a5a5a" stroke-width="1.3"/>
<text x="99.3" y="796.5" font-size="17.5" fill="#222" text-anchor="middle">20</text>
<text x="89.7" y="796.5" font-size="17.5" fill="#222" text-anchor="end">−</text>
<line x1="134.9" y1="768" x2="134.9" y2="776" stroke="#5a5a5a" stroke-width="1.3"/>
<text x="134.9" y="796.5" font-size="17.5" fill="#222" text-anchor="middle">10</text>
<text x="125.3" y="796.5" font-size="17.5" fill="#222" text-anchor="end">−</text>
<line x1="170.4" y1="768" x2="170.4" y2="776" stroke="#5a5a5a" stroke-width="1.3"/>
<text x="170.4" y="796.5" font-size="17.5" fill="#222" text-anchor="middle">0</text>
<line x1="206" y1="768" x2="206" y2="776" stroke="#5a5a5a" stroke-width="1.3"/>
<text x="206" y="796.5" font-size="17.5" fill="#222" text-anchor="middle">10</text>
<line x1="241.6" y1="768" x2="241.6" y2="776" stroke="#5a5a5a" stroke-width="1.3"/>
<text x="241.6" y="796.5" font-size="17.5" fill="#222" text-anchor="middle">20</text>
<line x1="277.1" y1="768" x2="277.1" y2="776" stroke="#5a5a5a" stroke-width="1.3"/>
<text x="277.1" y="796.5" font-size="17.5" fill="#222" text-anchor="middle">30</text>
<path d="M45 447.9 45.6 447.3 46.2 447.2 46.8 446.4 47.4 447 48 446.7 48.6 447.3 49.2 446.9 49.8 447.5 50.4 446.8 51 446.9 51.6 446.2 52.2 446.5 52.8 446.2 53.4 446.6 54 446.2 54.6 446.2 55.2 446 55.8 446.1 56.4 446.3 57 446.4 57.6 446.7 58.2 446.8 58.8 446.7 59.4 446.3 60 445.6 60.6 445.4 61.2 445.1 61.8 445.2 62.4 445.1 63 444.9 63.6 444.7 64.2 444.3 64.8 444.3 65.4 444.1 66 444.3 66.6 444.6 67.2 445 67.8 445.2 68.4 445 69 444.4 69.6 444.1 70.2 444 70.8 444.2 71.4 444.1 72 444.4 72.6 444.2 73.2 444.5 73.8 444.4 74.4 444.1 75 443.3 75.6 442.9 76.2 442.4 76.8 442.5 77.4 442.7 78 443.2 78.6 443.3 79.2 443.4 79.8 443 80.4 442.9 81 442.5 81.6 442.5 82.2 442.3 82.8 442.1 83.4 442.1 84 442.1 84.6 442.7 85.2 442.4 85.8 442 86.4 440.9 87 440.3 87.6 440.1 88.2 440.6 88.8 440.5 89.4 440.1 90 439.7 90.6 439.7 91.2 440 91.8 440.2 92.4 440 93 439.6 93.6 439.4 94.2 439.2 94.8 439.2 95.4 438.9 96 438.7 96.6 438.3 97.2 438.5 97.8 438.5 98.4 438.7 99 438.4 99.6 437.8 100.2 437.2 100.8 436.7 101.4 436.6 102 436.4 102.6 436.1 103.2 435.9 103.8 435.5 104.4 435.7 105 435.4 105.6 435.6 106.2 434.9 106.8 434.7 107.4 434 108 433.7 108.6 433.3 109.2 433 109.8 432.4 110.4 432.1 111 432 111.6 431.9 112.2 431.7 112.8 431.2 113.4 430.9 114 430 114.6 430.1 115.2 429.8 115.8 430.2 116.4 429.8 117 429.9 117.6 429.8 118.2 429.5 118.8 429.5 119.4 429.3 120 429.3 120.6 428.6 121.2 428.6 121.8 427.9 122.4 427.5 123 426.9 123.6 426.9 124.2 426.7 124.8 426.7 125.4 426.8 126 426.4 126.6 426.3 127.2 425.8 127.8 425.9 128.4 425.4 129 425.5 129.6 425.2 130.2 425.1 130.8 424.9 131.4 424.4 132 423.8 132.6 423.3 133.2 422.9 133.8 422.2 134.4 421.1 135 420.2 135.6 419.7 136.2 419.5 136.8 419.1 137.4 418.4 138 417.1 138.6 415.7 139.2 414.4 139.8 413.3 140.4 411.9 141 410.9 141.6 409.8 142.2 409.1 142.8 408 143.4 407.3 144 406 144.6 405.4 145.2 403.6 145.8 402.2 146.4 400.2 147 399.2 147.6 397.7 148.2 396.7 148.8 394.6 149.4 392.8 150 390.4 150.6 388.8 151.2 386.5 151.8 384.1 152.4 381.4 153 379 153.6 376.8 154.2 374.3 154.8 371.6 155.4 368.4 156 365.1 156.6 362 157.2 358.8 157.8 356.1 158.4 353.1 159 350.7 159.6 348.2 160.2 345.9 160.8 342.6 161.4 339.6 162 336 162.6 332.9 163.2 329.4 163.8 325.7 164.4 321.9 165 318.4 165.6 316.5 166.2 314.4 166.8 313.2 167.4 311.5 168 310.8 168.6 310.3 169.2 311.5 169.8 312.8 170.4 314.7 171 316.6 171.6 318.6 172.2 320.3 172.8 322.1 173.4 324.1 174 326 174.6 328.6 175.2 331.4 175.8 334.9 176.4 338.4 177 342.7 177.6 346.4 178.2 350.2 178.8 354.1 179.4 357.6 180 361.5 180.6 364.7 181.2 368.2 181.8 371 182.4 374.3 183 377.5 183.6 380.7 184.2 383.3 184.8 385.5 185.4 387 186 388.4 186.6 389.5 187.2 391.5 187.8 393.3 188.4 395.3 189 396.7 189.6 398.1 190.2 399 190.8 400.2 191.4 401.5 192 402.8 192.6 404.4 193.2 405.1 193.8 406 194.4 406.2 195 406.5 195.6 407.2 196.2 408 196.8 409.2 197.4 410.2 198 411.4 198.6 412.1 199.2 412.4 199.8 413 200.4 412.7 201 413.3 201.6 413.6 202.2 414.5 202.8 415.2 203.4 416.1 204 416.7 204.6 417.2 205.2 417.4 205.8 417.7 206.4 418.3 207 419.1 207.6 419.8 208.2 420.1 208.8 420 209.4 419.4 210 419.7 210.6 419.9 211.2 421.1 211.8 421.5 212.4 422.1 213 421.9 213.6 422.4 214.2 422.7 214.8 423.3 215.4 423.6 216 423.9 216.6 423.7 217.2 424 217.8 424 218.4 424.4 219 424.8 219.6 425.2 220.2 425.4 220.8 425.5 221.4 425.9 222 426.2 222.6 426.5 223.2 426.9 223.8 427.4 224.4 427.5 225 427.6 225.6 427.2 226.2 427.2 226.8 427.4 227.4 428.1 228 428.6 228.6 428.8 229.2 428.8 229.8 429 230.4 429.2 231 430 231.6 429.9 232.2 430.8 232.8 430.8 233.4 431.5 234 431.2 234.6 431.1 235.2 430.3 235.8 430 236.4 429.9 237 430.1 237.6 430.2 238.2 430.8 238.8 431 239.4 431.4 240 431.8 240.6 431.8 241.2 432.2 241.8 432.1 242.4 432.7 243 432.4 243.6 432.5 244.2 432.4 244.8 432.4 245.4 432.1 246 431.6 246.6 430.8 247.2 430.1 247.8 430.2 248.4 431.1 249 431.9 249.6 432.9 250.2 433.2 250.8 433.4 251.4 433.2 252 433.3 252.6 433.4 253.2 433.3 253.8 433.6 254.4 433.8 255 434.2 255.6 434.4 256.2 434.5 256.8 434.3 257.4 434 258 434.1 258.6 434 259.2 434.1 259.8 434.1 260.4 434.3 261 434.1 261.6 434.5 262.2 434.4 262.8 434.9 263.4 435 264 435.1 264.6 435 265.2 434.8 265.8 435.2 266.4 435.2 267 435.9 267.6 435.8 268.2 436.3 268.8 436.5 269.4 437.3 270 437.1 270.6 436.9 271.2 436.3 271.8 436.2 272.4 436.3 273 436.4 273.6 436.5 274.2 436.2 274.8 436.3 275.4 436.6 276 436.8 276.6 436.8 277.2 436.6 277.8 436.3 278.4 436.7 279 436.8 279.6 437.5 280.2 437.3 280.8 437.8 281.4 437 282 437.5 282.6 437.2 283.2 438.2 283.8 438 284.4 438.6 285 438.1 285.6 438.5 286.2 438.2 286.8 438.7 287.4 438.1 288 437.7 288.6 437.3 289.2 437.9 289.8 438.3 290.4 439.3 291 439.7 291.6 440 292.2 439.4 292.8 438.6 293.4 437.6 294 437.6 294.6 438 295.2 438.9" stroke="#6b6b6b" stroke-width="3.5" fill="none" stroke-linejoin="round"/>
<path d="M45 508.9 45.6 509 46.2 508.4 46.8 508.6 47.4 508.2 48 508.3 48.6 507.9 49.2 507.7 49.8 507.9 50.4 508.2 51 508.8 51.6 509 52.2 508.8 52.8 508.2 53.4 507.9 54 507.9 54.6 508 55.2 508 55.8 507.6 56.4 507.5 57 507.2 57.6 507.2 58.2 507.1 58.8 507 59.4 506.9 60 506.6 60.6 506.3 61.2 506.1 61.8 506.1 62.4 506.8 63 506.7 63.6 507.1 64.2 506.6 64.8 507.1 65.4 506.9 66 507.3 66.6 507.1 67.2 506.8 67.8 506.5 68.4 506.6 69 506.3 69.6 506.5 70.2 506.4 70.8 506.9 71.4 506.8 72 506.8 72.6 506.3 73.2 505.8 73.8 505.9 74.4 505.8 75 505.7 75.6 505.6 76.2 505.5 76.8 505.5 77.4 505.6 78 505.7 78.6 505.4 79.2 505 79.8 504.4 80.4 504 81 504 81.6 504 82.2 503.9 82.8 503.8 83.4 503.3 84 503.1 84.6 502.9 85.2 503.2 85.8 503.3 86.4 503.5 87 503.4 87.6 503.3 88.2 502.6 88.8 502.8 89.4 502 90 502 90.6 501.5 91.2 501.4 91.8 501 92.4 501 93 501.1 93.6 501.3 94.2 501.6 94.8 501.2 95.4 500.9 96 500.7 96.6 500.6 97.2 500.6 97.8 500.5 98.4 500.2 99 499.8 99.6 500 100.2 499.4 100.8 499.3 101.4 498.7 102 498.8 102.6 498.5 103.2 498.1 103.8 497.9 104.4 497.4 105 497.4 105.6 497 106.2 497 106.8 497.2 107.4 497.4 108 498 108.6 497.5 109.2 496.8 109.8 495.7 110.4 495 111 494.6 111.6 494.3 112.2 494.1 112.8 493.9 113.4 493.7 114 493.4 114.6 493.8 115.2 493.5 115.8 493.5 116.4 493 117 492.8 117.6 492.4 118.2 492.6 118.8 492.9 119.4 492.9 120 492.6 120.6 492.3 121.2 491.3 121.8 490.8 122.4 490 123 489.8 123.6 489.4 124.2 489.4 124.8 489.6 125.4 489.2 126 489.2 126.6 488.7 127.2 488.7 127.8 487.9 128.4 487.6 129 486.5 129.6 485.7 130.2 485.7 130.8 486 131.4 486.8 132 486.6 132.6 486.6 133.2 485.3 133.8 484.9 134.4 484.1 135 483.6 135.6 482.4 136.2 481.6 136.8 480.8 137.4 480.9 138 480.4 138.6 480.6 139.2 479.6 139.8 478.7 140.4 477.6 141 476.7 141.6 475.6 142.2 474.7 142.8 474 143.4 473.2 144 472.6 144.6 472.6 145.2 472 145.8 471.5 146.4 469.4 147 467.7 147.6 465 148.2 463.3 148.8 461.1 149.4 459.2 150 456.6 150.6 453.8 151.2 451.2 151.8 448.5 152.4 445.7 153 442.5 153.6 439.3 154.2 436 154.8 433 155.4 429.8 156 426.7 156.6 423.4 157.2 420.5 157.8 417.6 158.4 414.9 159 411.5 159.6 407.6 160.2 403.2 160.8 399.6 161.4 395.8 162 392.6 162.6 389 163.2 385.3 163.8 381.2 164.4 377.6 165 374.6 165.6 372.6 166.2 371.4 166.8 370.4 167.4 369.5 168 368.7 168.6 368.1 169.2 367.7 169.8 367.3 170.4 367.4 171 367.5 171.6 368.5 172.2 369.5 172.8 371.2 173.4 373.1 174 375.9 174.6 379.2 175.2 382.7 175.8 386.3 176.4 390.5 177 394.5 177.6 398.5 178.2 402.1 178.8 405.3 179.4 408.7 180 412.2 180.6 416.3 181.2 419.8 181.8 423.5 182.4 426.5 183 429.4 183.6 432 184.2 434.3 184.8 436.7 185.4 438.5 186 441.3 186.6 443.4 187.2 446.4 187.8 448.1 188.4 450.3 189 451.8 189.6 453.9 190.2 456 190.8 458.1 191.4 460.1 192 461.8 192.6 463.3 193.2 464.8 193.8 465.9 194.4 467.2 195 468.3 195.6 469.5 196.2 470.1 196.8 470.9 197.4 471.5 198 472.6 198.6 473.7 199.2 475.2 199.8 476.1 200.4 477 201 477.3 201.6 477.6 202.2 477.5 202.8 477.7 203.4 478.2 204 478.7 204.6 479.4 205.2 479.7 205.8 480 206.4 480.2 207 480.6 207.6 481.1 208.2 481.8 208.8 482.6 209.4 483.4 210 484.5 210.6 485.6 211.2 486.2 211.8 486.9 212.4 486.7 213 486.6 213.6 486.5 214.2 486.9 214.8 487.4 215.4 488.3 216 488.8 216.6 488.9 217.2 489.3 217.8 490.1 218.4 490.8 219 492 219.6 492.2 220.2 492.5 220.8 492.3 221.4 492.6 222 492.6 222.6 493 223.2 493.4 223.8 494 224.4 494.8 225 495.2 225.6 495.3 226.2 495.5 226.8 495.6 227.4 495.8 228 496.4 228.6 496.9 229.2 497.3 229.8 497.8 230.4 497.7 231 497.6 231.6 497.5 232.2 497.7 232.8 497.9 233.4 498.3 234 498.6 234.6 498.9 235.2 499.1 235.8 499.5 236.4 500.2 237 500.9 237.6 501.2 238.2 501.3 238.8 501.3 239.4 501.5 240 501.9 240.6 502.4 241.2 502.5 241.8 502.6 242.4 502.5 243 502.7 243.6 502.5 244.2 502.9 244.8 503 245.4 503.7 246 503.7 246.6 504.1 247.2 504 247.8 504.2 248.4 504.1 249 504.2 249.6 504.5 250.2 505.1 250.8 505.4 251.4 505.8 252 506.1 252.6 506.3 253.2 506.4 253.8 506 254.4 505.9 255 505.8 255.6 506.2 256.2 506.7 256.8 506.7 257.4 506.5 258 505.9 258.6 505.6 259.2 506.2 259.8 506.8 260.4 507.5 261 507.4 261.6 507.1 262.2 506.8 262.8 506.7 263.4 507.4 264 507.8 264.6 508.2 265.2 508 265.8 507.9 266.4 507.6 267 507.9 267.6 508 268.2 508.6 268.8 508.6 269.4 508.7 270 508.4 270.6 508.6 271.2 509 271.8 509.5 272.4 509.9 273 509.9 273.6 509.6 274.2 509 274.8 508.9 275.4 509.1 276 509.2 276.6 509.3 277.2 509.4 277.8 509.6 278.4 509.9 279 510.6 279.6 511.2 280.2 511.6 280.8 511.6 281.4 511.4 282 511 282.6 510.4 283.2 510.3 283.8 510.1 284.4 510.6 285 510.5 285.6 510.8 286.2 510.7 286.8 510.5 287.4 510.1 288 509.6 288.6 510 289.2 510 289.8 511 290.4 511.1 291 511.6 291.6 511.2 292.2 511.6 292.8 511.3 293.4 511.7 294 511.5 294.6 511.7 295.2 511.5" stroke="#111" stroke-width="3.5" fill="none" stroke-linejoin="round"/>
<path d="M45 590.1 46 586.4 47 585.6 48 580.2 49 584.7 50 587.5 51 585.5 52 584.1 53 585.8 54 584.7 55 582.4 56 588.7 57 588.8 58 591.2 59 586.7 60 585.5 61 585.2 62 582.5 63 589.7 64 584 65 583.9 66 586.8 67 591.7 68 589.3 69 584.9 70 585.9 71 586.3 72 587.6 73 586 74 587.5 75 590.3 76 593.7 77 584.6 78 586.2 79 581 80 580.7 81 584.6 82 584 83 589.7 84 585.8 85 584.7 86 587.1 87 583.9 88 579.7 89 582.5 90 582.2 91 581.1 92 592.2 93 576.6 94 581.9 95 585.1 96 584.4 97 584.8 98 584.5 99 585.3 100 577.7 101 582.9 102 575 103 578.2 104 574.2 105 589.1 106 582.7 107 578.2 108 583.4 109 576.3 110 578.3 111 578 112 574.4 113 578.3 114 582.3 115 573.7 116 578.8 117 574.4 118 580.6 119 576.7 120 576.9 121 576.5 122 575 123 569.9 124 577.2 125 568.9 126 572.8 127 573.2 128 568.5 129 570.5 130 572.6 131 568.5 132 565.3 133 558.8 134 563.4 135 563.7 136 563.2 137 561.2 138 564.2 139 560.9 140 561.6 141 563.3 142 558.5 143 559.5 144 565.8 145 561.5 146 554.7 147 557.1 148 557.7 149 557.6 150 552 151 547.1 152 543.3 153 543.9 154 539.9 155 534.4 156 532.1 157 528.2 158 528 159 511.8 160 520.6 161 518 162 513.2 163 511.4 164 508.9 165 501 166 502.2 167 497 168 492.6 169 496.8 170 496.1 171 494.8 172 495.9 173 493.7 174 494.1 175 496.5 176 503.3 177 501.4 178 498.8 179 503.5 180 503.3 181 515.8 182 514.2 183 514.2 184 514.7 185 520.4 186 527 187 531.2 188 538.2 189 536.3 190 543.4 191 545 192 544.9 193 549.2 194 549.6 195 547.1 196 553.7 197 548.5 198 553.2 199 554.3 200 556.9 201 555 202 558.2 203 559.3 204 563.7 205 559.8 206 563.3 207 563.2 208 561 209 572.7 210 565.6 211 562.1 212 570.6 213 564.1 214 568.5 215 570.3 216 566.4 217 567.4 218 567.4 219 569 220 565.2 221 566.7 222 570.2 223 575.8 224 573.1 225 576.6 226 574.1 227 571.1 228 572.6 229 567.6 230 571 231 571.2 232 575.3 233 575.7 234 573.8 235 574.2 236 572 237 576.5 238 578.1 239 579.3 240 576.4 241 584.8 242 583.2 243 581.3 244 579.5 245 581.2 246 582.4 247 582.4 248 584.2 249 585.3 250 587.2 251 586.7 252 583.4 253 586.2 254 582.9 255 582.5 256 589.6 257 583.1 258 590.1 259 583.7 260 585.4 261 587.9 262 584.9 263 586 264 588.3 265 583.7 266 584.5 267 583.2 268 589.5 269 584.4 270 589.6 271 577.1 272 584.5 273 585.9 274 583.3 275 587.1 276 585.7 277 583 278 584.8 279 591.4 280 584.2 281 584.2 282 582.2 283 583.8 284 579.8 285 582.9 286 590.5 287 586.6 288 585.6 289 587 290 588.6 291 585.8 292 590.1 293 587.5 294 585.2 295 589.7" stroke="#e8262a" stroke-width="3.4" fill="none" stroke-linejoin="round"/>
<path d="M45 650.6 45.6 650.7 46.2 650.4 46.8 650.2 47.4 649.8 48 649.8 48.6 649.9 49.2 650 49.8 650.4 50.4 650.2 51 650.4 51.6 650.4 52.2 650.4 52.8 650.2 53.4 649.9 54 650.2 54.6 650.3 55.2 650.8 55.8 650.4 56.4 650.3 57 649.8 57.6 649.5 58.2 649.9 58.8 650.1 59.4 650.8 60 650.5 60.6 650.9 61.2 649.9 61.8 649.8 62.4 649.2 63 649.4 63.6 648.8 64.2 648.6 64.8 648.5 65.4 648.9 66 649.6 66.6 650.3 67.2 650.4 67.8 649.7 68.4 649.3 69 648.6 69.6 648.7 70.2 648.3 70.8 648.8 71.4 648.7 72 649.2 72.6 649.1 73.2 649.3 73.8 649.2 74.4 648.9 75 648.5 75.6 648.1 76.2 647.9 76.8 647.8 77.4 647.7 78 647.8 78.6 647.7 79.2 648.1 79.8 648.6 80.4 649 81 649.1 81.6 648.5 82.2 648.2 82.8 647.3 83.4 647.5 84 647.3 84.6 647.6 85.2 647.7 85.8 648.2 86.4 648.3 87 648.5 87.6 648.2 88.2 647.9 88.8 647.5 89.4 647.2 90 646.8 90.6 646.7 91.2 646.7 91.8 646.5 92.4 646.2 93 645.4 93.6 644.9 94.2 644.5 94.8 645.2 95.4 645.3 96 645.8 96.6 645.6 97.2 645.5 97.8 645.3 98.4 645.3 99 645.6 99.6 645.2 100.2 645.3 100.8 645.3 101.4 645.2 102 645 102.6 644.5 103.2 644.2 103.8 644.1 104.4 644.4 105 644.6 105.6 644.7 106.2 644.7 106.8 644.4 107.4 644.3 108 643.7 108.6 643.5 109.2 643 109.8 643.4 110.4 643.4 111 643.3 111.6 642.7 112.2 641.9 112.8 641.6 113.4 641.6 114 642.1 114.6 642.3 115.2 642.1 115.8 641.9 116.4 641.7 117 641.7 117.6 641.3 118.2 640.9 118.8 640.5 119.4 640.4 120 640.6 120.6 640.5 121.2 639.7 121.8 639.2 122.4 638.6 123 638.3 123.6 637.8 124.2 637.9 124.8 637.6 125.4 637.8 126 637.9 126.6 637.7 127.2 637 127.8 636.2 128.4 635.5 129 635 129.6 634.6 130.2 634.6 130.8 634.4 131.4 634.4 132 634.2 132.6 634.4 133.2 634.5 133.8 634.5 134.4 634.2 135 633.3 135.6 632.7 136.2 632.3 136.8 632 137.4 631.7 138 631 138.6 630.3 139.2 629.4 139.8 628.9 140.4 628.4 141 627.6 141.6 627 142.2 626 142.8 625.2 143.4 624.6 144 623.8 144.6 623.3 145.2 622 145.8 621.3 146.4 620.2 147 620 147.6 619.4 148.2 619.2 148.8 618.1 149.4 617.2 150 615.5 150.6 614.4 151.2 612.6 151.8 611.6 152.4 610.4 153 609.7 153.6 608.9 154.2 607.8 154.8 606.8 155.4 605.6 156 604.7 156.6 604.3 157.2 603.5 157.8 603.2 158.4 602.7 159 603.2 159.6 603.3 160.2 604 160.8 604.2 161.4 604.4 162 604.8 162.6 605.2 163.2 605.7 163.8 605.9 164.4 606.3 165 606.9 165.6 608.1 166.2 609.2 166.8 609.8 167.4 609.9 168 610.6 168.6 611.1 169.2 612.4 169.8 613.3 170.4 613.7 171 613.4 171.6 612.7 172.2 611.8 172.8 610.8 173.4 610.4 174 609.6 174.6 609.1 175.2 608.2 175.8 607.7 176.4 606.9 177 606.4 177.6 605.5 178.2 604.5 178.8 604.3 179.4 604.2 180 604.4 180.6 603.9 181.2 603.4 181.8 602.4 182.4 602.4 183 602.6 183.6 603.6 184.2 603.6 184.8 603.6 185.4 603.1 186 603.1 186.6 603.3 187.2 604.4 187.8 605.4 188.4 606.7 189 607.4 189.6 608.3 190.2 609 190.8 609.5 191.4 610.2 192 610.5 192.6 611.1 193.2 611.5 193.8 612.6 194.4 613.8 195 614.9 195.6 616.1 196.2 616.4 196.8 617.1 197.4 617.3 198 618.3 198.6 619.2 199.2 620.2 199.8 620.9 200.4 621.5 201 622.2 201.6 622.8 202.2 623.5 202.8 624.2 203.4 624.7 204 625.1 204.6 625.5 205.2 626.3 205.8 626.8 206.4 627.3 207 627.5 207.6 627.9 208.2 628.3 208.8 628.9 209.4 629.7 210 629.9 210.6 630.2 211.2 630.6 211.8 631.3 212.4 631.5 213 631.8 213.6 632 214.2 632.1 214.8 632.6 215.4 633.4 216 634 216.6 633.9 217.2 634.4 217.8 634.7 218.4 635.4 219 636.2 219.6 636.8 220.2 637.1 220.8 636.9 221.4 637 222 636.7 222.6 637 223.2 637.4 223.8 638.1 224.4 638.4 225 638.4 225.6 638.5 226.2 638.7 226.8 639.1 227.4 639.5 228 639.9 228.6 640.2 229.2 640.3 229.8 640.3 230.4 640 231 640.1 231.6 640.1 232.2 640.3 232.8 640.2 233.4 640.4 234 640.3 234.6 641.4 235.2 641.6 235.8 642.4 236.4 642.6 237 643.1 237.6 643.1 238.2 643 238.8 643 239.4 642.4 240 642.4 240.6 642.2 241.2 642.3 241.8 642.6 242.4 643 243 643 243.6 643.2 244.2 643 244.8 643.3 245.4 643.2 246 643.7 246.6 643.6 247.2 644.3 247.8 644.3 248.4 644.7 249 644.3 249.6 644.5 250.2 644.4 250.8 645.1 251.4 645.4 252 645.8 252.6 645.8 253.2 645.8 253.8 645.5 254.4 645.3 255 645.2 255.6 645.4 256.2 645.5 256.8 645.7 257.4 645.8 258 646 258.6 646.2 259.2 646.1 259.8 646.2 260.4 646.2 261 646.4 261.6 646.5 262.2 646.7 262.8 647 263.4 647 264 647.2 264.6 647.1 265.2 647.3 265.8 647.2 266.4 647.8 267 648 267.6 648.4 268.2 648.2 268.8 648.5 269.4 648.4 270 648.5 270.6 648.6 271.2 648.8 271.8 648.4 272.4 648.4 273 648.1 273.6 648 274.2 647.9 274.8 648.1 275.4 648.3 276 648.1 276.6 648.3 277.2 647.8 277.8 647.9 278.4 647.7 279 648.3 279.6 648.4 280.2 649.2 280.8 649.6 281.4 650.1 282 650.1 282.6 650.2 283.2 650.3 283.8 650.3 284.4 650.4 285 650.6 285.6 650.9 286.2 651 286.8 650.7 287.4 650.4 288 650.3 288.6 650.7 289.2 650.6 289.8 650.6 290.4 650 291 650.2 291.6 650.3 292.2 651.2 292.8 651.6 293.4 651.7 294 651.7 294.6 651.4 295.2 651.5" stroke="#58a244" stroke-width="3.5" fill="none" stroke-linejoin="round"/>
<path d="M45 735.9 46 733.2 47 741.8 48 733 49 734 50 738.5 51 730.3 52 731 53 733.3 54 731.4 55 728.4 56 731.4 57 730.7 58 733.5 59 726 60 728.9 61 734.6 62 736.6 63 725.6 64 732.3 65 726.8 66 727 67 726.7 68 727.9 69 732.2 70 731.1 71 728.8 72 727.2 73 728.2 74 727.6 75 730.3 76 725.5 77 727.3 78 726.8 79 726.7 80 721.6 81 727 82 730.4 83 725.6 84 730.6 85 724.4 86 723.5 87 725.1 88 725.6 89 725 90 728 91 727.1 92 724.7 93 721.7 94 722 95 726.4 96 722.2 97 716.9 98 718.4 99 718.3 100 723.3 101 718.8 102 725.8 103 720.2 104 717.9 105 717.4 106 719.5 107 715.1 108 712.6 109 716.5 110 714.1 111 717.2 112 712.5 113 703 114 714 115 704.8 116 715.1 117 715.3 118 707.4 119 704.3 120 707.4 121 709.4 122 705.1 123 703.9 124 703.4 125 710 126 703.5 127 703.9 128 703 129 702.8 130 701.9 131 695.2 132 695.7 133 692.8 134 691.7 135 696.4 136 689.8 137 689.7 138 686.1 139 684.7 140 687.4 141 681.5 142 679.4 143 680.4 144 683.6 145 676.5 146 671.3 147 661.8 148 666.3 149 663.3 150 662.7 151 654.3 152 662.9 153 649.2 154 654.4 155 652 156 663 157 658.4 158 658 159 654.5 160 662 161 671.7 162 682 163 674.3 164 682.5 165 689.2 166 689 167 688.1 168 686.5 169 686.6 170 690.3 171 690.6 172 682.2 173 690.9 174 683.5 175 668.3 176 673.3 177 670.5 178 665.3 179 667.3 180 666.7 181 665.4 182 658.4 183 656.3 184 657 185 657.4 186 657 187 657.4 188 653.3 189 662.2 190 662.3 191 661.2 192 663.4 193 663.1 194 664.3 195 675.5 196 675.1 197 672.6 198 679.4 199 674.5 200 671 201 690.4 202 684.8 203 682.3 204 687.9 205 687.2 206 692.3 207 692.5 208 694.2 209 692.5 210 696.7 211 694.9 212 699.2 213 697.6 214 695.9 215 702 216 699 217 706.8 218 704.4 219 705.3 220 704.9 221 705.2 222 698.5 223 710.8 224 705.1 225 713 226 707 227 709.3 228 709.7 229 707.7 230 711.1 231 713.8 232 711.5 233 709.4 234 712.2 235 715.4 236 718.8 237 713.7 238 717.1 239 713.5 240 720.1 241 717.7 242 717.3 243 721.5 244 721 245 721.1 246 716.3 247 718.4 248 715.3 249 721.8 250 721.7 251 725 252 723.1 253 724 254 729.9 255 720.2 256 719.6 257 722.3 258 726.2 259 718.6 260 723.8 261 721.9 262 730.5 263 724.1 264 723 265 726.3 266 724.4 267 726.5 268 731.8 269 724.5 270 728 271 727.2 272 728 273 731.5 274 730.9 275 728.3 276 726.7 277 729.5 278 732.8 279 730.4 280 730.2 281 725.1 282 734.3 283 726.6 284 727.4 285 730.5 286 732.1 287 732.3 288 729.9 289 737.3 290 730.7 291 721.8 292 732.2 293 730.9 294 734.6 295 733" stroke="#1566b4" stroke-width="3.5" fill="none" stroke-linejoin="round"/>
<text x="64.8" y="345.9" font-size="15.5" fill="#6d6d6d" textLength="69.8" lengthAdjust="spacingAndGlyphs">Monomer</text>
<line x1="99.9" y1="349.2" x2="137.4" y2="396" stroke="#444" stroke-width="1.3"/>
<path d="M142.4 402.2L132.9 397L137.7 396.3L139.4 391.8Z" fill="#444"/>
<text x="208.4" y="348.3" font-size="15.5" fill="#222" textLength="60.8" lengthAdjust="spacingAndGlyphs">All other</text>
<text x="188.1" y="369.5" font-size="15.5" fill="#222" textLength="102.4" lengthAdjust="spacingAndGlyphs">configurations</text>
<line x1="241.2" y1="375.4" x2="209.9" y2="469.2" stroke="#111" stroke-width="1.3"/>
<path d="M207.4 476.8L206.6 466L209.8 469.7L214.5 468.6Z" fill="#111"/>
<line x1="316" y1="393.5" x2="202.8" y2="536.9" stroke="#d42a2a" stroke-width="1.3"/>
<path d="M197.8 543.2L200.7 532.7L202.4 537.3L207.3 538Z" fill="#d42a2a"/>
<line x1="316.8" y1="553.3" x2="214.5" y2="614.9" stroke="#4a9a3a" stroke-width="1.3"/>
<path d="M207.6 619L214 610.2L214 615.1L218.3 617.4Z" fill="#4a9a3a"/>
<line x1="316.8" y1="681.8" x2="227.8" y2="691.2" stroke="#2060b0" stroke-width="1.3"/>
<path d="M219.8 692L229.3 686.8L227.3 691.2L230.2 695.1Z" fill="#2060b0"/>
<text x="221" y="556.9" font-size="16" fill="#e8413c" font-style="italic">n</text>
<text x="229.5" y="562" font-size="12" fill="#e8413c" textLength="8.4" lengthAdjust="spacingAndGlyphs">11</text>
<text x="227.2" y="627.9" font-size="16" fill="#6aa85a" font-style="italic">n</text>
<text x="236.8" y="633" font-size="12.8" fill="#6aa85a" textLength="10.7" lengthAdjust="spacingAndGlyphs">12</text>
<text x="250.2" y="705.2" font-size="16" fill="#2f6fb5" font-style="italic">n</text>
<text x="258.8" y="710.8" font-size="14" fill="#2f6fb5" textLength="13" lengthAdjust="spacingAndGlyphs">32</text>
<text x="145" y="588.7" font-size="15.5" fill="#222" textLength="51.8" lengthAdjust="spacingAndGlyphs">6.7 mV</text>
<line x1="162.6" y1="597.8" x2="181" y2="597.8" stroke="#111" stroke-width="1.3"/>
<path d="M160.6 597.8L165.6 594.8L164.1 597.8L165.6 600.8Z" fill="#111"/>
<path d="M183 597.8L178 594.8L179.5 597.8L178 600.8Z" fill="#111"/>
<text x="145" y="637.5" font-size="15.5" fill="#222" textLength="51.8" lengthAdjust="spacingAndGlyphs">8.6 mV</text>
<line x1="158.4" y1="646.9" x2="184" y2="646.9" stroke="#111" stroke-width="1.3"/>
<path d="M156.4 646.9L161.4 643.9L159.9 646.9L161.4 649.9Z" fill="#111"/>
<path d="M186 646.9L181 643.9L182.5 646.9L181 649.9Z" fill="#111"/>
<text x="0" y="0" font-size="15.5" fill="#222" transform="translate(28.5 571) rotate(-90)" textLength="81" lengthAdjust="spacingAndGlyphs">d<tspan font-style="italic">I</tspan>/d<tspan font-style="italic">V</tspan> (a.u.)</text>
<text x="145.7" y="821" font-size="15.5" fill="#222"><tspan font-style="italic">V</tspan> (mV)</text>
<text x="506.7" y="16.9" font-size="18.5" fill="#000" font-weight="bold" textLength="8.4" lengthAdjust="spacingAndGlyphs">c</text>
<path d="M602.1 71.5L616.5 63.2M602.1 71.5L602.1 88.1M602.1 71.5L587.7 63.1M616.5 63.2L631 71.5M616.5 63.2L616.5 46.5M602.1 88.1L616.5 96.4M602.1 88.1L587.7 96.4M616.5 96.4L631 88.1M616.5 96.4L616.5 110.4M631 88.1L631 71.5M631 88.1L643.1 95.1M631 71.5L645.4 63.2M645.4 63.2L645.4 46.5M645.4 63.2L657.9 70.4M587.7 63.1L587.7 46.5M587.7 63.1L573.3 71.5M587.7 46.5L602.1 38.2M587.7 46.5L575.6 39.5M602.1 38.2L616.5 46.5M602.1 38.2L602.1 24.2M616.5 46.5L631 38.2M631 38.2L645.4 46.5M631 38.2L631 23.7M573.3 88.1L558.9 96.4M573.3 88.1L587.7 96.4M573.3 88.1L573.3 71.5M558.9 96.4L558.9 113.1M558.9 96.4L544.4 88.1M587.7 96.4L587.7 113.1M587.7 113.1L573.3 121.4M587.7 113.1L599.8 120.1M573.3 121.4L558.9 113.1M573.3 121.4L573.3 135.4M558.9 113.1L544.4 121.4M544.4 121.4L530 113.1M544.4 121.4L544.4 135.9M573.3 71.5L558.9 63.1M558.9 63.1L544.4 71.5M558.9 63.1L558.9 49.2M544.4 71.5L544.4 88.1M544.4 71.5L532.3 64.5M544.4 88.1L530 96.4M530 96.4L530 113.1M530 96.4L517.5 89.2" stroke="#333" stroke-width="1.2" fill="none"/>
<circle cx="616.5" cy="96.4" r="11.5" fill="#f09a7c" style="mix-blend-mode:multiply"/>
<circle cx="602.1" cy="71.5" r="3.5" fill="url(#gC)" stroke="#111" stroke-width="0.9"/>
<circle cx="616.5" cy="63.2" r="3.5" fill="url(#gC)" stroke="#111" stroke-width="0.9"/>
<circle cx="602.1" cy="88.1" r="3.5" fill="url(#gC)" stroke="#111" stroke-width="0.9"/>
<circle cx="616.5" cy="96.4" r="3.5" fill="url(#gC)" stroke="#111" stroke-width="0.9"/>
<circle cx="631" cy="88.1" r="3.5" fill="url(#gC)" stroke="#111" stroke-width="0.9"/>
<circle cx="631" cy="71.5" r="3.5" fill="url(#gC)" stroke="#111" stroke-width="0.9"/>
<circle cx="645.4" cy="63.2" r="3.5" fill="url(#gC)" stroke="#111" stroke-width="0.9"/>
<circle cx="587.7" cy="63.1" r="3.5" fill="url(#gC)" stroke="#111" stroke-width="0.9"/>
<circle cx="587.7" cy="46.5" r="3.5" fill="url(#gC)" stroke="#111" stroke-width="0.9"/>
<circle cx="602.1" cy="38.2" r="3.5" fill="url(#gC)" stroke="#111" stroke-width="0.9"/>
<circle cx="616.5" cy="46.5" r="3.5" fill="url(#gC)" stroke="#111" stroke-width="0.9"/>
<circle cx="631" cy="38.2" r="3.5" fill="url(#gC)" stroke="#111" stroke-width="0.9"/>
<circle cx="573.3" cy="88.1" r="3.5" fill="url(#gC)" stroke="#111" stroke-width="0.9"/>
<circle cx="558.9" cy="96.4" r="3.5" fill="url(#gC)" stroke="#111" stroke-width="0.9"/>
<circle cx="587.7" cy="96.4" r="3.5" fill="url(#gC)" stroke="#111" stroke-width="0.9"/>
<circle cx="587.7" cy="113.1" r="3.5" fill="url(#gC)" stroke="#111" stroke-width="0.9"/>
<circle cx="573.3" cy="121.4" r="3.5" fill="url(#gC)" stroke="#111" stroke-width="0.9"/>
<circle cx="558.9" cy="113.1" r="3.5" fill="url(#gC)" stroke="#111" stroke-width="0.9"/>
<circle cx="544.4" cy="121.4" r="3.5" fill="url(#gC)" stroke="#111" stroke-width="0.9"/>
<circle cx="573.3" cy="71.5" r="3.5" fill="url(#gC)" stroke="#111" stroke-width="0.9"/>
<circle cx="558.9" cy="63.1" r="3.5" fill="url(#gC)" stroke="#111" stroke-width="0.9"/>
<circle cx="544.4" cy="71.5" r="3.5" fill="url(#gC)" stroke="#111" stroke-width="0.9"/>
<circle cx="544.4" cy="88.1" r="3.5" fill="url(#gC)" stroke="#111" stroke-width="0.9"/>
<circle cx="530" cy="96.4" r="3.5" fill="url(#gC)" stroke="#111" stroke-width="0.9"/>
<circle cx="645.4" cy="46.5" r="3.4" fill="url(#gO)" stroke="#3a0508" stroke-width="0.8"/>
<circle cx="657.9" cy="70.4" r="3.4" fill="url(#gO)" stroke="#3a0508" stroke-width="0.8"/>
<circle cx="631" cy="23.7" r="3.4" fill="url(#gO)" stroke="#3a0508" stroke-width="0.8"/>
<circle cx="530" cy="113.1" r="3.4" fill="url(#gO)" stroke="#3a0508" stroke-width="0.8"/>
<circle cx="544.4" cy="135.9" r="3.4" fill="url(#gO)" stroke="#3a0508" stroke-width="0.8"/>
<circle cx="517.5" cy="89.2" r="3.4" fill="url(#gO)" stroke="#3a0508" stroke-width="0.8"/>
<circle cx="616.5" cy="110.4" r="3.2" fill="url(#gH)" stroke="#333" stroke-width="1"/>
<circle cx="643.1" cy="95.1" r="3.2" fill="url(#gH)" stroke="#333" stroke-width="1"/>
<circle cx="575.6" cy="39.5" r="3.2" fill="url(#gH)" stroke="#333" stroke-width="1"/>
<circle cx="602.1" cy="24.2" r="3.2" fill="url(#gH)" stroke="#333" stroke-width="1"/>
<circle cx="599.8" cy="120.1" r="3.2" fill="url(#gH)" stroke="#333" stroke-width="1"/>
<circle cx="573.3" cy="135.4" r="3.2" fill="url(#gH)" stroke="#333" stroke-width="1"/>
<circle cx="558.9" cy="49.2" r="3.2" fill="url(#gH)" stroke="#333" stroke-width="1"/>
<circle cx="532.3" cy="64.5" r="3.2" fill="url(#gH)" stroke="#333" stroke-width="1"/>
<path d="M666.4 205.5L671 221.5M666.4 205.5L650.2 201.5M666.4 205.5L678 193.5M671 221.5L659.4 233.5M671 221.5L687.1 225.5M650.2 201.5L638.7 213.5M650.2 201.5L645.6 185.5M638.7 213.5L643.3 229.5M638.7 213.5L625.1 210.1M643.3 229.5L659.4 233.5M643.3 229.5L633.5 239.5M659.4 233.5L664 249.5M664 249.5L680.2 253.5M664 249.5L653.9 259.9M678 193.5L694.1 197.6M678 193.5L673.4 177.5M694.1 197.6L698.7 213.6M694.1 197.6L703.8 187.5M698.7 213.6L687.1 225.5M698.7 213.6L712.3 216.9M687.1 225.5L691.7 241.5M691.7 241.5L680.2 253.5M691.7 241.5L705.8 245M657.2 173.5L652.6 157.5M657.2 173.5L645.6 185.5M657.2 173.5L673.4 177.5M652.6 157.5L636.5 153.5M652.6 157.5L664.2 145.5M645.6 185.5L629.5 181.4M629.5 181.4L624.9 165.4M629.5 181.4L619.8 191.5M624.9 165.4L636.5 153.5M624.9 165.4L611.3 162.1M636.5 153.5L631.9 137.5M631.9 137.5L643.4 125.5M631.9 137.5L617.8 134M673.4 177.5L684.9 165.5M684.9 165.5L680.3 149.5M684.9 165.5L698.5 168.9M680.3 149.5L664.2 145.5M680.3 149.5L690.1 139.5M664.2 145.5L659.6 129.5M659.6 129.5L643.4 125.5M659.6 129.5L669.7 119.1" stroke="#333" stroke-width="1.2" fill="none"/>
<circle cx="694.1" cy="197.6" r="11.5" fill="#f09a7c" style="mix-blend-mode:multiply"/>
<circle cx="666.4" cy="205.5" r="3.5" fill="url(#gC)" stroke="#111" stroke-width="0.9"/>
<circle cx="671" cy="221.5" r="3.5" fill="url(#gC)" stroke="#111" stroke-width="0.9"/>
<circle cx="650.2" cy="201.5" r="3.5" fill="url(#gC)" stroke="#111" stroke-width="0.9"/>
<circle cx="638.7" cy="213.5" r="3.5" fill="url(#gC)" stroke="#111" stroke-width="0.9"/>
<circle cx="643.3" cy="229.5" r="3.5" fill="url(#gC)" stroke="#111" stroke-width="0.9"/>
<circle cx="659.4" cy="233.5" r="3.5" fill="url(#gC)" stroke="#111" stroke-width="0.9"/>
<circle cx="664" cy="249.5" r="3.5" fill="url(#gC)" stroke="#111" stroke-width="0.9"/>
<circle cx="678" cy="193.5" r="3.5" fill="url(#gC)" stroke="#111" stroke-width="0.9"/>
<circle cx="694.1" cy="197.6" r="3.5" fill="url(#gC)" stroke="#111" stroke-width="0.9"/>
<circle cx="698.7" cy="213.6" r="3.5" fill="url(#gC)" stroke="#111" stroke-width="0.9"/>
<circle cx="687.1" cy="225.5" r="3.5" fill="url(#gC)" stroke="#111" stroke-width="0.9"/>
<circle cx="691.7" cy="241.5" r="3.5" fill="url(#gC)" stroke="#111" stroke-width="0.9"/>
<circle cx="657.2" cy="173.5" r="3.5" fill="url(#gC)" stroke="#111" stroke-width="0.9"/>
<circle cx="652.6" cy="157.5" r="3.5" fill="url(#gC)" stroke="#111" stroke-width="0.9"/>
<circle cx="645.6" cy="185.5" r="3.5" fill="url(#gC)" stroke="#111" stroke-width="0.9"/>
<circle cx="629.5" cy="181.4" r="3.5" fill="url(#gC)" stroke="#111" stroke-width="0.9"/>
<circle cx="624.9" cy="165.4" r="3.5" fill="url(#gC)" stroke="#111" stroke-width="0.9"/>
<circle cx="636.5" cy="153.5" r="3.5" fill="url(#gC)" stroke="#111" stroke-width="0.9"/>
<circle cx="631.9" cy="137.5" r="3.5" fill="url(#gC)" stroke="#111" stroke-width="0.9"/>
<circle cx="673.4" cy="177.5" r="3.5" fill="url(#gC)" stroke="#111" stroke-width="0.9"/>
<circle cx="684.9" cy="165.5" r="3.5" fill="url(#gC)" stroke="#111" stroke-width="0.9"/>
<circle cx="680.3" cy="149.5" r="3.5" fill="url(#gC)" stroke="#111" stroke-width="0.9"/>
<circle cx="664.2" cy="145.5" r="3.5" fill="url(#gC)" stroke="#111" stroke-width="0.9"/>
<circle cx="659.6" cy="129.5" r="3.5" fill="url(#gC)" stroke="#111" stroke-width="0.9"/>
<circle cx="680.2" cy="253.5" r="3.4" fill="url(#gO)" stroke="#3a0508" stroke-width="0.8"/>
<circle cx="653.9" cy="259.9" r="3.4" fill="url(#gO)" stroke="#3a0508" stroke-width="0.8"/>
<circle cx="705.8" cy="245" r="3.4" fill="url(#gO)" stroke="#3a0508" stroke-width="0.8"/>
<circle cx="643.4" cy="125.5" r="3.4" fill="url(#gO)" stroke="#3a0508" stroke-width="0.8"/>
<circle cx="617.8" cy="134" r="3.4" fill="url(#gO)" stroke="#3a0508" stroke-width="0.8"/>
<circle cx="669.7" cy="119.1" r="3.4" fill="url(#gO)" stroke="#3a0508" stroke-width="0.8"/>
<circle cx="625.1" cy="210.1" r="3.2" fill="url(#gH)" stroke="#333" stroke-width="1"/>
<circle cx="633.5" cy="239.5" r="3.2" fill="url(#gH)" stroke="#333" stroke-width="1"/>
<circle cx="703.8" cy="187.5" r="3.2" fill="url(#gH)" stroke="#333" stroke-width="1"/>
<circle cx="712.3" cy="216.9" r="3.2" fill="url(#gH)" stroke="#333" stroke-width="1"/>
<circle cx="619.8" cy="191.5" r="3.2" fill="url(#gH)" stroke="#333" stroke-width="1"/>
<circle cx="611.3" cy="162.1" r="3.2" fill="url(#gH)" stroke="#333" stroke-width="1"/>
<circle cx="698.5" cy="168.9" r="3.2" fill="url(#gH)" stroke="#333" stroke-width="1"/>
<circle cx="690.1" cy="139.5" r="3.2" fill="url(#gH)" stroke="#333" stroke-width="1"/>
<path d="M601 334.4L615.4 326.1M601 334.4L601 351M601 334.4L586.6 326.1M615.4 326.1L629.9 334.4M615.4 326.1L615.4 309.4M601 351L615.4 359.3M601 351L586.6 359.3M615.4 359.3L629.9 351M615.4 359.3L615.4 373.3M629.9 351L629.9 334.4M629.9 351L642 358M629.9 334.4L644.3 326.1M644.3 326.1L644.3 309.4M644.3 326.1L656.8 333.3M586.6 326.1L586.6 309.4M586.6 326.1L572.2 334.4M586.6 309.4L601 301.1M586.6 309.4L574.5 302.4M601 301.1L615.4 309.4M601 301.1L601 287.1M615.4 309.4L629.9 301.1M629.9 301.1L644.3 309.4M629.9 301.1L629.9 286.6M572.2 351L557.8 359.3M572.2 351L586.6 359.3M572.2 351L572.2 334.4M557.8 359.3L557.8 376M557.8 359.3L543.3 351M586.6 359.3L586.6 376M586.6 376L572.2 384.3M586.6 376L598.7 383M572.2 384.3L557.8 376M572.2 384.3L572.2 398.3M557.8 376L543.3 384.3M543.3 384.3L528.9 376M543.3 384.3L543.3 398.8M572.2 334.4L557.8 326.1M557.8 326.1L543.3 334.4M557.8 326.1L557.8 312.1M543.3 334.4L543.3 351M543.3 334.4L531.2 327.4M543.3 351L528.9 359.3M528.9 359.3L528.9 376M528.9 359.3L516.4 352.1" stroke="#333" stroke-width="1.2" fill="none"/>
<circle cx="586.6" cy="376" r="11.5" fill="#b3d09a" style="mix-blend-mode:multiply"/>
<circle cx="601" cy="334.4" r="3.5" fill="url(#gC)" stroke="#111" stroke-width="0.9"/>
<circle cx="615.4" cy="326.1" r="3.5" fill="url(#gC)" stroke="#111" stroke-width="0.9"/>
<circle cx="601" cy="351" r="3.5" fill="url(#gC)" stroke="#111" stroke-width="0.9"/>
<circle cx="615.4" cy="359.3" r="3.5" fill="url(#gC)" stroke="#111" stroke-width="0.9"/>
<circle cx="629.9" cy="351" r="3.5" fill="url(#gC)" stroke="#111" stroke-width="0.9"/>
<circle cx="629.9" cy="334.4" r="3.5" fill="url(#gC)" stroke="#111" stroke-width="0.9"/>
<circle cx="644.3" cy="326.1" r="3.5" fill="url(#gC)" stroke="#111" stroke-width="0.9"/>
<circle cx="586.6" cy="326.1" r="3.5" fill="url(#gC)" stroke="#111" stroke-width="0.9"/>
<circle cx="586.6" cy="309.4" r="3.5" fill="url(#gC)" stroke="#111" stroke-width="0.9"/>
<circle cx="601" cy="301.1" r="3.5" fill="url(#gC)" stroke="#111" stroke-width="0.9"/>
<circle cx="615.4" cy="309.4" r="3.5" fill="url(#gC)" stroke="#111" stroke-width="0.9"/>
<circle cx="629.9" cy="301.1" r="3.5" fill="url(#gC)" stroke="#111" stroke-width="0.9"/>
<circle cx="572.2" cy="351" r="3.5" fill="url(#gC)" stroke="#111" stroke-width="0.9"/>
<circle cx="557.8" cy="359.3" r="3.5" fill="url(#gC)" stroke="#111" stroke-width="0.9"/>
<circle cx="586.6" cy="359.3" r="3.5" fill="url(#gC)" stroke="#111" stroke-width="0.9"/>
<circle cx="586.6" cy="376" r="3.5" fill="url(#gC)" stroke="#111" stroke-width="0.9"/>
<circle cx="572.2" cy="384.3" r="3.5" fill="url(#gC)" stroke="#111" stroke-width="0.9"/>
<circle cx="557.8" cy="376" r="3.5" fill="url(#gC)" stroke="#111" stroke-width="0.9"/>
<circle cx="543.3" cy="384.3" r="3.5" fill="url(#gC)" stroke="#111" stroke-width="0.9"/>
<circle cx="572.2" cy="334.4" r="3.5" fill="url(#gC)" stroke="#111" stroke-width="0.9"/>
<circle cx="557.8" cy="326.1" r="3.5" fill="url(#gC)" stroke="#111" stroke-width="0.9"/>
<circle cx="543.3" cy="334.4" r="3.5" fill="url(#gC)" stroke="#111" stroke-width="0.9"/>
<circle cx="543.3" cy="351" r="3.5" fill="url(#gC)" stroke="#111" stroke-width="0.9"/>
<circle cx="528.9" cy="359.3" r="3.5" fill="url(#gC)" stroke="#111" stroke-width="0.9"/>
<circle cx="644.3" cy="309.4" r="3.4" fill="url(#gO)" stroke="#3a0508" stroke-width="0.8"/>
<circle cx="656.8" cy="333.3" r="3.4" fill="url(#gO)" stroke="#3a0508" stroke-width="0.8"/>
<circle cx="629.9" cy="286.6" r="3.4" fill="url(#gO)" stroke="#3a0508" stroke-width="0.8"/>
<circle cx="528.9" cy="376" r="3.4" fill="url(#gO)" stroke="#3a0508" stroke-width="0.8"/>
<circle cx="543.3" cy="398.8" r="3.4" fill="url(#gO)" stroke="#3a0508" stroke-width="0.8"/>
<circle cx="516.4" cy="352.1" r="3.4" fill="url(#gO)" stroke="#3a0508" stroke-width="0.8"/>
<circle cx="615.4" cy="373.3" r="3.2" fill="url(#gH)" stroke="#333" stroke-width="1"/>
<circle cx="642" cy="358" r="3.2" fill="url(#gH)" stroke="#333" stroke-width="1"/>
<circle cx="574.5" cy="302.4" r="3.2" fill="url(#gH)" stroke="#333" stroke-width="1"/>
<circle cx="601" cy="287.1" r="3.2" fill="url(#gH)" stroke="#333" stroke-width="1"/>
<circle cx="598.7" cy="383" r="3.2" fill="url(#gH)" stroke="#333" stroke-width="1"/>
<circle cx="572.2" cy="398.3" r="3.2" fill="url(#gH)" stroke="#333" stroke-width="1"/>
<circle cx="557.8" cy="312.1" r="3.2" fill="url(#gH)" stroke="#333" stroke-width="1"/>
<circle cx="531.2" cy="327.4" r="3.2" fill="url(#gH)" stroke="#333" stroke-width="1"/>
<path d="M665.2 469L669.8 485M665.2 469L649 465M665.2 469L676.8 457M669.8 485L658.2 497M669.8 485L685.9 489M649 465L637.5 477M649 465L644.4 449M637.5 477L642.1 493M637.5 477L623.9 473.6M642.1 493L658.2 497M642.1 493L632.3 503M658.2 497L662.8 513M662.8 513L679 517M662.8 513L652.7 523.4M676.8 457L692.9 461.1M676.8 457L672.2 441M692.9 461.1L697.5 477.1M692.9 461.1L702.6 451M697.5 477.1L685.9 489M697.5 477.1L711.1 480.4M685.9 489L690.5 505M690.5 505L679 517M690.5 505L704.6 508.5M656 437L651.4 421M656 437L644.4 449M656 437L672.2 441M651.4 421L635.3 417M651.4 421L663 409M644.4 449L628.3 444.9M628.3 444.9L623.7 428.9M628.3 444.9L618.6 455M623.7 428.9L635.3 417M623.7 428.9L610.1 425.6M635.3 417L630.7 401M630.7 401L642.2 389M630.7 401L616.6 397.5M672.2 441L683.7 429M683.7 429L679.1 413M683.7 429L697.3 432.4M679.1 413L663 409M679.1 413L688.9 403M663 409L658.4 393M658.4 393L642.2 389M658.4 393L668.5 382.6" stroke="#333" stroke-width="1.2" fill="none"/>
<circle cx="692.9" cy="461.1" r="11.5" fill="#b3d09a" style="mix-blend-mode:multiply"/>
<circle cx="665.2" cy="469" r="3.5" fill="url(#gC)" stroke="#111" stroke-width="0.9"/>
<circle cx="669.8" cy="485" r="3.5" fill="url(#gC)" stroke="#111" stroke-width="0.9"/>
<circle cx="649" cy="465" r="3.5" fill="url(#gC)" stroke="#111" stroke-width="0.9"/>
<circle cx="637.5" cy="477" r="3.5" fill="url(#gC)" stroke="#111" stroke-width="0.9"/>
<circle cx="642.1" cy="493" r="3.5" fill="url(#gC)" stroke="#111" stroke-width="0.9"/>
<circle cx="658.2" cy="497" r="3.5" fill="url(#gC)" stroke="#111" stroke-width="0.9"/>
<circle cx="662.8" cy="513" r="3.5" fill="url(#gC)" stroke="#111" stroke-width="0.9"/>
<circle cx="676.8" cy="457" r="3.5" fill="url(#gC)" stroke="#111" stroke-width="0.9"/>
<circle cx="692.9" cy="461.1" r="3.5" fill="url(#gC)" stroke="#111" stroke-width="0.9"/>
<circle cx="697.5" cy="477.1" r="3.5" fill="url(#gC)" stroke="#111" stroke-width="0.9"/>
<circle cx="685.9" cy="489" r="3.5" fill="url(#gC)" stroke="#111" stroke-width="0.9"/>
<circle cx="690.5" cy="505" r="3.5" fill="url(#gC)" stroke="#111" stroke-width="0.9"/>
<circle cx="656" cy="437" r="3.5" fill="url(#gC)" stroke="#111" stroke-width="0.9"/>
<circle cx="651.4" cy="421" r="3.5" fill="url(#gC)" stroke="#111" stroke-width="0.9"/>
<circle cx="644.4" cy="449" r="3.5" fill="url(#gC)" stroke="#111" stroke-width="0.9"/>
<circle cx="628.3" cy="444.9" r="3.5" fill="url(#gC)" stroke="#111" stroke-width="0.9"/>
<circle cx="623.7" cy="428.9" r="3.5" fill="url(#gC)" stroke="#111" stroke-width="0.9"/>
<circle cx="635.3" cy="417" r="3.5" fill="url(#gC)" stroke="#111" stroke-width="0.9"/>
<circle cx="630.7" cy="401" r="3.5" fill="url(#gC)" stroke="#111" stroke-width="0.9"/>
<circle cx="672.2" cy="441" r="3.5" fill="url(#gC)" stroke="#111" stroke-width="0.9"/>
<circle cx="683.7" cy="429" r="3.5" fill="url(#gC)" stroke="#111" stroke-width="0.9"/>
<circle cx="679.1" cy="413" r="3.5" fill="url(#gC)" stroke="#111" stroke-width="0.9"/>
<circle cx="663" cy="409" r="3.5" fill="url(#gC)" stroke="#111" stroke-width="0.9"/>
<circle cx="658.4" cy="393" r="3.5" fill="url(#gC)" stroke="#111" stroke-width="0.9"/>
<circle cx="679" cy="517" r="3.4" fill="url(#gO)" stroke="#3a0508" stroke-width="0.8"/>
<circle cx="652.7" cy="523.4" r="3.4" fill="url(#gO)" stroke="#3a0508" stroke-width="0.8"/>
<circle cx="704.6" cy="508.5" r="3.4" fill="url(#gO)" stroke="#3a0508" stroke-width="0.8"/>
<circle cx="642.2" cy="389" r="3.4" fill="url(#gO)" stroke="#3a0508" stroke-width="0.8"/>
<circle cx="616.6" cy="397.5" r="3.4" fill="url(#gO)" stroke="#3a0508" stroke-width="0.8"/>
<circle cx="668.5" cy="382.6" r="3.4" fill="url(#gO)" stroke="#3a0508" stroke-width="0.8"/>
<circle cx="623.9" cy="473.6" r="3.2" fill="url(#gH)" stroke="#333" stroke-width="1"/>
<circle cx="632.3" cy="503" r="3.2" fill="url(#gH)" stroke="#333" stroke-width="1"/>
<circle cx="702.6" cy="451" r="3.2" fill="url(#gH)" stroke="#333" stroke-width="1"/>
<circle cx="711.1" cy="480.4" r="3.2" fill="url(#gH)" stroke="#333" stroke-width="1"/>
<circle cx="618.6" cy="455" r="3.2" fill="url(#gH)" stroke="#333" stroke-width="1"/>
<circle cx="610.1" cy="425.6" r="3.2" fill="url(#gH)" stroke="#333" stroke-width="1"/>
<circle cx="697.3" cy="432.4" r="3.2" fill="url(#gH)" stroke="#333" stroke-width="1"/>
<circle cx="688.9" cy="403" r="3.2" fill="url(#gH)" stroke="#333" stroke-width="1"/>
<path d="M607.5 607.7L621.9 599.4M607.5 607.7L607.5 624.3M607.5 607.7L593.1 599.4M621.9 599.4L636.4 607.7M621.9 599.4L621.9 582.7M607.5 624.3L621.9 632.6M607.5 624.3L593.1 632.6M621.9 632.6L636.4 624.3M621.9 632.6L621.9 646.6M636.4 624.3L636.4 607.7M636.4 624.3L648.5 631.3M636.4 607.7L650.8 599.4M650.8 599.4L650.8 582.7M650.8 599.4L663.3 606.6M593.1 599.4L593.1 582.7M593.1 599.4L578.7 607.7M593.1 582.7L607.5 574.4M593.1 582.7L581 575.7M607.5 574.4L621.9 582.7M607.5 574.4L607.5 560.4M621.9 582.7L636.4 574.4M636.4 574.4L650.8 582.7M636.4 574.4L636.4 559.9M578.7 624.3L564.3 632.6M578.7 624.3L593.1 632.6M578.7 624.3L578.7 607.7M564.3 632.6L564.3 649.3M564.3 632.6L549.8 624.3M593.1 632.6L593.1 649.3M593.1 649.3L578.7 657.6M593.1 649.3L605.2 656.3M578.7 657.6L564.3 649.3M578.7 657.6L578.7 671.6M564.3 649.3L549.8 657.6M549.8 657.6L535.4 649.3M549.8 657.6L549.8 672.1M578.7 607.7L564.3 599.4M564.3 599.4L549.8 607.7M564.3 599.4L564.3 585.4M549.8 607.7L549.8 624.3M549.8 607.7L537.7 600.7M549.8 624.3L535.4 632.6M535.4 632.6L535.4 649.3M535.4 632.6L522.9 625.4" stroke="#333" stroke-width="1.2" fill="none"/>
<circle cx="593.1" cy="649.3" r="11.5" fill="#8aa4dc" style="mix-blend-mode:multiply"/>
<circle cx="607.5" cy="607.7" r="3.5" fill="url(#gC)" stroke="#111" stroke-width="0.9"/>
<circle cx="621.9" cy="599.4" r="3.5" fill="url(#gC)" stroke="#111" stroke-width="0.9"/>
<circle cx="607.5" cy="624.3" r="3.5" fill="url(#gC)" stroke="#111" stroke-width="0.9"/>
<circle cx="621.9" cy="632.6" r="3.5" fill="url(#gC)" stroke="#111" stroke-width="0.9"/>
<circle cx="636.4" cy="624.3" r="3.5" fill="url(#gC)" stroke="#111" stroke-width="0.9"/>
<circle cx="636.4" cy="607.7" r="3.5" fill="url(#gC)" stroke="#111" stroke-width="0.9"/>
<circle cx="650.8" cy="599.4" r="3.5" fill="url(#gC)" stroke="#111" stroke-width="0.9"/>
<circle cx="593.1" cy="599.4" r="3.5" fill="url(#gC)" stroke="#111" stroke-width="0.9"/>
<circle cx="593.1" cy="582.7" r="3.5" fill="url(#gC)" stroke="#111" stroke-width="0.9"/>
<circle cx="607.5" cy="574.4" r="3.5" fill="url(#gC)" stroke="#111" stroke-width="0.9"/>
<circle cx="621.9" cy="582.7" r="3.5" fill="url(#gC)" stroke="#111" stroke-width="0.9"/>
<circle cx="636.4" cy="574.4" r="3.5" fill="url(#gC)" stroke="#111" stroke-width="0.9"/>
<circle cx="578.7" cy="624.3" r="3.5" fill="url(#gC)" stroke="#111" stroke-width="0.9"/>
<circle cx="564.3" cy="632.6" r="3.5" fill="url(#gC)" stroke="#111" stroke-width="0.9"/>
<circle cx="593.1" cy="632.6" r="3.5" fill="url(#gC)" stroke="#111" stroke-width="0.9"/>
<circle cx="593.1" cy="649.3" r="3.5" fill="url(#gC)" stroke="#111" stroke-width="0.9"/>
<circle cx="578.7" cy="657.6" r="3.5" fill="url(#gC)" stroke="#111" stroke-width="0.9"/>
<circle cx="564.3" cy="649.3" r="3.5" fill="url(#gC)" stroke="#111" stroke-width="0.9"/>
<circle cx="549.8" cy="657.6" r="3.5" fill="url(#gC)" stroke="#111" stroke-width="0.9"/>
<circle cx="578.7" cy="607.7" r="3.5" fill="url(#gC)" stroke="#111" stroke-width="0.9"/>
<circle cx="564.3" cy="599.4" r="3.5" fill="url(#gC)" stroke="#111" stroke-width="0.9"/>
<circle cx="549.8" cy="607.7" r="3.5" fill="url(#gC)" stroke="#111" stroke-width="0.9"/>
<circle cx="549.8" cy="624.3" r="3.5" fill="url(#gC)" stroke="#111" stroke-width="0.9"/>
<circle cx="535.4" cy="632.6" r="3.5" fill="url(#gC)" stroke="#111" stroke-width="0.9"/>
<circle cx="650.8" cy="582.7" r="3.4" fill="url(#gO)" stroke="#3a0508" stroke-width="0.8"/>
<circle cx="663.3" cy="606.6" r="3.4" fill="url(#gO)" stroke="#3a0508" stroke-width="0.8"/>
<circle cx="636.4" cy="559.9" r="3.4" fill="url(#gO)" stroke="#3a0508" stroke-width="0.8"/>
<circle cx="535.4" cy="649.3" r="3.4" fill="url(#gO)" stroke="#3a0508" stroke-width="0.8"/>
<circle cx="549.8" cy="672.1" r="3.4" fill="url(#gO)" stroke="#3a0508" stroke-width="0.8"/>
<circle cx="522.9" cy="625.4" r="3.4" fill="url(#gO)" stroke="#3a0508" stroke-width="0.8"/>
<circle cx="621.9" cy="646.6" r="3.2" fill="url(#gH)" stroke="#333" stroke-width="1"/>
<circle cx="648.5" cy="631.3" r="3.2" fill="url(#gH)" stroke="#333" stroke-width="1"/>
<circle cx="581" cy="575.7" r="3.2" fill="url(#gH)" stroke="#333" stroke-width="1"/>
<circle cx="607.5" cy="560.4" r="3.2" fill="url(#gH)" stroke="#333" stroke-width="1"/>
<circle cx="605.2" cy="656.3" r="3.2" fill="url(#gH)" stroke="#333" stroke-width="1"/>
<circle cx="578.7" cy="671.6" r="3.2" fill="url(#gH)" stroke="#333" stroke-width="1"/>
<circle cx="564.3" cy="585.4" r="3.2" fill="url(#gH)" stroke="#333" stroke-width="1"/>
<circle cx="537.7" cy="600.7" r="3.2" fill="url(#gH)" stroke="#333" stroke-width="1"/>
<path d="M672.4 742.3L677 758.3M672.4 742.3L656.2 738.3M672.4 742.3L684 730.3M677 758.3L665.4 770.3M677 758.3L693.1 762.3M656.2 738.3L644.7 750.3M656.2 738.3L651.6 722.3M644.7 750.3L649.3 766.3M644.7 750.3L631.1 746.9M649.3 766.3L665.4 770.3M649.3 766.3L639.5 776.3M665.4 770.3L670 786.3M670 786.3L686.2 790.3M670 786.3L659.9 796.7M684 730.3L700.1 734.4M684 730.3L679.4 714.3M700.1 734.4L704.7 750.4M700.1 734.4L709.8 724.3M704.7 750.4L693.1 762.3M704.7 750.4L718.3 753.7M693.1 762.3L697.7 778.3M697.7 778.3L686.2 790.3M697.7 778.3L711.8 781.8M663.2 710.3L658.6 694.3M663.2 710.3L651.6 722.3M663.2 710.3L679.4 714.3M658.6 694.3L642.5 690.3M658.6 694.3L670.2 682.3M651.6 722.3L635.5 718.2M635.5 718.2L630.9 702.2M635.5 718.2L625.8 728.3M630.9 702.2L642.5 690.3M630.9 702.2L617.3 698.9M642.5 690.3L637.9 674.3M637.9 674.3L649.4 662.3M637.9 674.3L623.8 670.8M679.4 714.3L690.9 702.3M690.9 702.3L686.3 686.3M690.9 702.3L704.5 705.7M686.3 686.3L670.2 682.3M686.3 686.3L696.1 676.3M670.2 682.3L665.6 666.3M665.6 666.3L649.4 662.3M665.6 666.3L675.7 655.9" stroke="#333" stroke-width="1.2" fill="none"/>
<circle cx="644.7" cy="750.3" r="11.5" fill="#8aa4dc" style="mix-blend-mode:multiply"/>
<circle cx="672.4" cy="742.3" r="3.5" fill="url(#gC)" stroke="#111" stroke-width="0.9"/>
<circle cx="677" cy="758.3" r="3.5" fill="url(#gC)" stroke="#111" stroke-width="0.9"/>
<circle cx="656.2" cy="738.3" r="3.5" fill="url(#gC)" stroke="#111" stroke-width="0.9"/>
<circle cx="644.7" cy="750.3" r="3.5" fill="url(#gC)" stroke="#111" stroke-width="0.9"/>
<circle cx="649.3" cy="766.3" r="3.5" fill="url(#gC)" stroke="#111" stroke-width="0.9"/>
<circle cx="665.4" cy="770.3" r="3.5" fill="url(#gC)" stroke="#111" stroke-width="0.9"/>
<circle cx="670" cy="786.3" r="3.5" fill="url(#gC)" stroke="#111" stroke-width="0.9"/>
<circle cx="684" cy="730.3" r="3.5" fill="url(#gC)" stroke="#111" stroke-width="0.9"/>
<circle cx="700.1" cy="734.4" r="3.5" fill="url(#gC)" stroke="#111" stroke-width="0.9"/>
<circle cx="704.7" cy="750.4" r="3.5" fill="url(#gC)" stroke="#111" stroke-width="0.9"/>
<circle cx="693.1" cy="762.3" r="3.5" fill="url(#gC)" stroke="#111" stroke-width="0.9"/>
<circle cx="697.7" cy="778.3" r="3.5" fill="url(#gC)" stroke="#111" stroke-width="0.9"/>
<circle cx="663.2" cy="710.3" r="3.5" fill="url(#gC)" stroke="#111" stroke-width="0.9"/>
<circle cx="658.6" cy="694.3" r="3.5" fill="url(#gC)" stroke="#111" stroke-width="0.9"/>
<circle cx="651.6" cy="722.3" r="3.5" fill="url(#gC)" stroke="#111" stroke-width="0.9"/>
<circle cx="635.5" cy="718.2" r="3.5" fill="url(#gC)" stroke="#111" stroke-width="0.9"/>
<circle cx="630.9" cy="702.2" r="3.5" fill="url(#gC)" stroke="#111" stroke-width="0.9"/>
<circle cx="642.5" cy="690.3" r="3.5" fill="url(#gC)" stroke="#111" stroke-width="0.9"/>
<circle cx="637.9" cy="674.3" r="3.5" fill="url(#gC)" stroke="#111" stroke-width="0.9"/>
<circle cx="679.4" cy="714.3" r="3.5" fill="url(#gC)" stroke="#111" stroke-width="0.9"/>
<circle cx="690.9" cy="702.3" r="3.5" fill="url(#gC)" stroke="#111" stroke-width="0.9"/>
<circle cx="686.3" cy="686.3" r="3.5" fill="url(#gC)" stroke="#111" stroke-width="0.9"/>
<circle cx="670.2" cy="682.3" r="3.5" fill="url(#gC)" stroke="#111" stroke-width="0.9"/>
<circle cx="665.6" cy="666.3" r="3.5" fill="url(#gC)" stroke="#111" stroke-width="0.9"/>
<circle cx="686.2" cy="790.3" r="3.4" fill="url(#gO)" stroke="#3a0508" stroke-width="0.8"/>
<circle cx="659.9" cy="796.7" r="3.4" fill="url(#gO)" stroke="#3a0508" stroke-width="0.8"/>
<circle cx="711.8" cy="781.8" r="3.4" fill="url(#gO)" stroke="#3a0508" stroke-width="0.8"/>
<circle cx="649.4" cy="662.3" r="3.4" fill="url(#gO)" stroke="#3a0508" stroke-width="0.8"/>
<circle cx="623.8" cy="670.8" r="3.4" fill="url(#gO)" stroke="#3a0508" stroke-width="0.8"/>
<circle cx="675.7" cy="655.9" r="3.4" fill="url(#gO)" stroke="#3a0508" stroke-width="0.8"/>
<circle cx="631.1" cy="746.9" r="3.2" fill="url(#gH)" stroke="#333" stroke-width="1"/>
<circle cx="639.5" cy="776.3" r="3.2" fill="url(#gH)" stroke="#333" stroke-width="1"/>
<circle cx="709.8" cy="724.3" r="3.2" fill="url(#gH)" stroke="#333" stroke-width="1"/>
<circle cx="718.3" cy="753.7" r="3.2" fill="url(#gH)" stroke="#333" stroke-width="1"/>
<circle cx="625.8" cy="728.3" r="3.2" fill="url(#gH)" stroke="#333" stroke-width="1"/>
<circle cx="617.3" cy="698.9" r="3.2" fill="url(#gH)" stroke="#333" stroke-width="1"/>
<circle cx="704.5" cy="705.7" r="3.2" fill="url(#gH)" stroke="#333" stroke-width="1"/>
<circle cx="696.1" cy="676.3" r="3.2" fill="url(#gH)" stroke="#333" stroke-width="1"/>
<text x="587.3" y="40" font-size="17" fill="#3a3f90">3</text>
<text x="566.6" y="62.7" font-size="17" fill="#3a3f90">4</text>
<text x="582.2" y="131" font-size="17" fill="#3a3f90">2</text>
<text x="684" y="182.7" font-size="17" fill="#3a3f90">2</text>
<text x="628.7" y="198.4" font-size="17" fill="#3a3f90">4</text>
<text x="629.1" y="230" font-size="17" fill="#3a3f90">3</text>
<text x="671" y="96.3" font-size="16" fill="#e8413c" font-style="italic">n</text>
<text x="679.8" y="101.3" font-size="12.5" fill="#e8413c" textLength="8.4" lengthAdjust="spacingAndGlyphs">11</text>
<text x="625.6" y="114.5" font-size="17.3" fill="#e8413c" textLength="27.6" lengthAdjust="spacingAndGlyphs"><tspan font-style="italic">j</tspan> = 1</text>
<text x="707.9" y="206.4" font-size="17.3" fill="#e8413c" textLength="27.4" lengthAdjust="spacingAndGlyphs"><tspan font-style="italic">i</tspan> = 1</text>
<text x="579.4" y="404.9" font-size="17.3" fill="#6aaa50" textLength="31.2" lengthAdjust="spacingAndGlyphs"><tspan font-style="italic">j</tspan> = 2</text>
<text x="563.2" y="434.9" font-size="15" fill="#6aaa50" font-style="italic">n</text>
<text x="571.8" y="440.7" font-size="13.5" fill="#6aaa50" textLength="10.7" lengthAdjust="spacingAndGlyphs">12</text>
<text x="707.6" y="468.9" font-size="17.3" fill="#6aaa50" textLength="28" lengthAdjust="spacingAndGlyphs"><tspan font-style="italic">i</tspan> = 1</text>
<text x="589.1" y="682.1" font-size="17.3" fill="#2a6ab8" textLength="31.7" lengthAdjust="spacingAndGlyphs"><tspan font-style="italic">j</tspan> = 2</text>
<text x="586.1" y="709.6" font-size="16" fill="#2a6ab8" font-style="italic">n</text>
<text x="594.2" y="715" font-size="14" fill="#2a6ab8" textLength="13" lengthAdjust="spacingAndGlyphs">32</text>
<text x="602.3" y="769.4" font-size="17.3" fill="#2a6ab8" textLength="30.6" lengthAdjust="spacingAndGlyphs"><tspan font-style="italic">i</tspan> = 3</text>
<text x="747.3" y="16.6" font-size="19.5" fill="#000" font-weight="bold">d</text>
<line x1="799.2" y1="32.6" x2="807.6" y2="32.6" stroke="#555" stroke-width="1.3"/>
<text x="785.5" y="33.7" font-size="16" fill="#222" font-style="italic" text-anchor="end">n</text>
<text x="784.7" y="38.7" font-size="12.2" fill="#222" textLength="8.4" lengthAdjust="spacingAndGlyphs">11</text>
<line x1="799.2" y1="55.6" x2="807.6" y2="55.6" stroke="#555" stroke-width="1.3"/>
<text x="783.2" y="56.7" font-size="16" fill="#222" font-style="italic" text-anchor="end">n</text>
<text x="782.4" y="61.7" font-size="12.2" fill="#222" textLength="10.7" lengthAdjust="spacingAndGlyphs">12</text>
<line x1="799.2" y1="78.6" x2="807.6" y2="78.6" stroke="#555" stroke-width="1.3"/>
<text x="783.2" y="79.7" font-size="16" fill="#222" font-style="italic" text-anchor="end">n</text>
<text x="782.4" y="84.7" font-size="12.2" fill="#222" textLength="10.7" lengthAdjust="spacingAndGlyphs">13</text>
<line x1="799.2" y1="101.7" x2="807.6" y2="101.7" stroke="#555" stroke-width="1.3"/>
<text x="783.2" y="102.8" font-size="16" fill="#222" font-style="italic" text-anchor="end">n</text>
<text x="782.4" y="107.8" font-size="12.2" fill="#222" textLength="10.7" lengthAdjust="spacingAndGlyphs">14</text>
<line x1="799.2" y1="124.7" x2="807.6" y2="124.7" stroke="#555" stroke-width="1.3"/>
<text x="783.2" y="125.8" font-size="16" fill="#222" font-style="italic" text-anchor="end">n</text>
<text x="782.4" y="130.8" font-size="12.2" fill="#222" textLength="10.7" lengthAdjust="spacingAndGlyphs">21</text>
<line x1="799.2" y1="147.7" x2="807.6" y2="147.7" stroke="#555" stroke-width="1.3"/>
<text x="780.9" y="148.8" font-size="16" fill="#222" font-style="italic" text-anchor="end">n</text>
<text x="780.1" y="153.8" font-size="12.2" fill="#222" textLength="13" lengthAdjust="spacingAndGlyphs">22</text>
<line x1="799.2" y1="170.7" x2="807.6" y2="170.7" stroke="#555" stroke-width="1.3"/>
<text x="780.9" y="171.8" font-size="16" fill="#222" font-style="italic" text-anchor="end">n</text>
<text x="780.1" y="176.8" font-size="12.2" fill="#222" textLength="13" lengthAdjust="spacingAndGlyphs">23</text>
<line x1="799.2" y1="193.7" x2="807.6" y2="193.7" stroke="#555" stroke-width="1.3"/>
<text x="780.9" y="194.8" font-size="16" fill="#222" font-style="italic" text-anchor="end">n</text>
<text x="780.1" y="199.8" font-size="12.2" fill="#222" textLength="13" lengthAdjust="spacingAndGlyphs">24</text>
<line x1="799.2" y1="216.8" x2="807.6" y2="216.8" stroke="#555" stroke-width="1.3"/>
<text x="783.2" y="217.9" font-size="16" fill="#222" font-style="italic" text-anchor="end">n</text>
<text x="782.4" y="222.9" font-size="12.2" fill="#222" textLength="10.7" lengthAdjust="spacingAndGlyphs">31</text>
<line x1="799.2" y1="239.8" x2="807.6" y2="239.8" stroke="#555" stroke-width="1.3"/>
<text x="780.9" y="240.9" font-size="16" fill="#222" font-style="italic" text-anchor="end">n</text>
<text x="780.1" y="245.9" font-size="12.2" fill="#222" textLength="13" lengthAdjust="spacingAndGlyphs">32</text>
<line x1="799.2" y1="262.8" x2="807.6" y2="262.8" stroke="#555" stroke-width="1.3"/>
<text x="780.9" y="263.9" font-size="16" fill="#222" font-style="italic" text-anchor="end">n</text>
<text x="780.1" y="268.9" font-size="12.2" fill="#222" textLength="13" lengthAdjust="spacingAndGlyphs">33</text>
<line x1="799.2" y1="285.8" x2="807.6" y2="285.8" stroke="#555" stroke-width="1.3"/>
<text x="780.9" y="286.9" font-size="16" fill="#222" font-style="italic" text-anchor="end">n</text>
<text x="780.1" y="291.9" font-size="12.2" fill="#222" textLength="13" lengthAdjust="spacingAndGlyphs">34</text>
<line x1="799.2" y1="308.8" x2="807.6" y2="308.8" stroke="#555" stroke-width="1.3"/>
<text x="783.2" y="309.9" font-size="16" fill="#222" font-style="italic" text-anchor="end">n</text>
<text x="782.4" y="314.9" font-size="12.2" fill="#222" textLength="10.7" lengthAdjust="spacingAndGlyphs">41</text>
<line x1="799.2" y1="331.9" x2="807.6" y2="331.9" stroke="#555" stroke-width="1.3"/>
<text x="780.9" y="333" font-size="16" fill="#222" font-style="italic" text-anchor="end">n</text>
<text x="780.1" y="338" font-size="12.2" fill="#222" textLength="13" lengthAdjust="spacingAndGlyphs">42</text>
<line x1="799.2" y1="354.9" x2="807.6" y2="354.9" stroke="#555" stroke-width="1.3"/>
<text x="780.9" y="356" font-size="16" fill="#222" font-style="italic" text-anchor="end">n</text>
<text x="780.1" y="361" font-size="12.2" fill="#222" textLength="13" lengthAdjust="spacingAndGlyphs">43</text>
<line x1="799.2" y1="377.9" x2="807.6" y2="377.9" stroke="#555" stroke-width="1.3"/>
<text x="780.9" y="379" font-size="16" fill="#222" font-style="italic" text-anchor="end">n</text>
<text x="780.1" y="384" font-size="12.2" fill="#222" textLength="13" lengthAdjust="spacingAndGlyphs">44</text>
<line x1="799.2" y1="400.9" x2="807.6" y2="400.9" stroke="#555" stroke-width="1.3"/>
<text x="785.5" y="402" font-size="16" fill="#222" font-style="italic" text-anchor="end">p</text>
<text x="784.7" y="407" font-size="12.2" fill="#222" textLength="8.4" lengthAdjust="spacingAndGlyphs">11</text>
<line x1="799.2" y1="423.9" x2="807.6" y2="423.9" stroke="#555" stroke-width="1.3"/>
<text x="783.2" y="425" font-size="16" fill="#222" font-style="italic" text-anchor="end">p</text>
<text x="782.4" y="430" font-size="12.2" fill="#222" textLength="10.7" lengthAdjust="spacingAndGlyphs">12</text>
<line x1="799.2" y1="447" x2="807.6" y2="447" stroke="#555" stroke-width="1.3"/>
<text x="783.2" y="448.1" font-size="16" fill="#222" font-style="italic" text-anchor="end">p</text>
<text x="782.4" y="453.1" font-size="12.2" fill="#222" textLength="10.7" lengthAdjust="spacingAndGlyphs">13</text>
<line x1="799.2" y1="470" x2="807.6" y2="470" stroke="#555" stroke-width="1.3"/>
<text x="783.2" y="471.1" font-size="16" fill="#222" font-style="italic" text-anchor="end">p</text>
<text x="782.4" y="476.1" font-size="12.2" fill="#222" textLength="10.7" lengthAdjust="spacingAndGlyphs">14</text>
<line x1="799.2" y1="493" x2="807.6" y2="493" stroke="#555" stroke-width="1.3"/>
<text x="783.2" y="494.1" font-size="16" fill="#222" font-style="italic" text-anchor="end">p</text>
<text x="782.4" y="499.1" font-size="12.2" fill="#222" textLength="10.7" lengthAdjust="spacingAndGlyphs">21</text>
<line x1="799.2" y1="516" x2="807.6" y2="516" stroke="#555" stroke-width="1.3"/>
<text x="780.9" y="517.1" font-size="16" fill="#222" font-style="italic" text-anchor="end">p</text>
<text x="780.1" y="522.1" font-size="12.2" fill="#222" textLength="13" lengthAdjust="spacingAndGlyphs">22</text>
<line x1="799.2" y1="539" x2="807.6" y2="539" stroke="#555" stroke-width="1.3"/>
<text x="780.9" y="540.1" font-size="16" fill="#222" font-style="italic" text-anchor="end">p</text>
<text x="780.1" y="545.1" font-size="12.2" fill="#222" textLength="13" lengthAdjust="spacingAndGlyphs">23</text>
<line x1="799.2" y1="562.1" x2="807.6" y2="562.1" stroke="#555" stroke-width="1.3"/>
<text x="780.9" y="563.2" font-size="16" fill="#222" font-style="italic" text-anchor="end">p</text>
<text x="780.1" y="568.2" font-size="12.2" fill="#222" textLength="13" lengthAdjust="spacingAndGlyphs">24</text>
<line x1="799.2" y1="585.1" x2="807.6" y2="585.1" stroke="#555" stroke-width="1.3"/>
<text x="783.2" y="586.2" font-size="16" fill="#222" font-style="italic" text-anchor="end">p</text>
<text x="782.4" y="591.2" font-size="12.2" fill="#222" textLength="10.7" lengthAdjust="spacingAndGlyphs">31</text>
<line x1="799.2" y1="608.1" x2="807.6" y2="608.1" stroke="#555" stroke-width="1.3"/>
<text x="780.9" y="609.2" font-size="16" fill="#222" font-style="italic" text-anchor="end">p</text>
<text x="780.1" y="614.2" font-size="12.2" fill="#222" textLength="13" lengthAdjust="spacingAndGlyphs">32</text>
<line x1="799.2" y1="631.1" x2="807.6" y2="631.1" stroke="#555" stroke-width="1.3"/>
<text x="780.9" y="632.2" font-size="16" fill="#222" font-style="italic" text-anchor="end">p</text>
<text x="780.1" y="637.2" font-size="12.2" fill="#222" textLength="13" lengthAdjust="spacingAndGlyphs">33</text>
<line x1="799.2" y1="654.1" x2="807.6" y2="654.1" stroke="#555" stroke-width="1.3"/>
<text x="780.9" y="655.2" font-size="16" fill="#222" font-style="italic" text-anchor="end">p</text>
<text x="780.1" y="660.2" font-size="12.2" fill="#222" textLength="13" lengthAdjust="spacingAndGlyphs">34</text>
<line x1="799.2" y1="677.2" x2="807.6" y2="677.2" stroke="#555" stroke-width="1.3"/>
<text x="783.2" y="678.3" font-size="16" fill="#222" font-style="italic" text-anchor="end">p</text>
<text x="782.4" y="683.3" font-size="12.2" fill="#222" textLength="10.7" lengthAdjust="spacingAndGlyphs">41</text>
<line x1="799.2" y1="700.2" x2="807.6" y2="700.2" stroke="#555" stroke-width="1.3"/>
<text x="780.9" y="701.3" font-size="16" fill="#222" font-style="italic" text-anchor="end">p</text>
<text x="780.1" y="706.3" font-size="12.2" fill="#222" textLength="13" lengthAdjust="spacingAndGlyphs">42</text>
<line x1="799.2" y1="723.2" x2="807.6" y2="723.2" stroke="#555" stroke-width="1.3"/>
<text x="780.9" y="724.3" font-size="16" fill="#222" font-style="italic" text-anchor="end">p</text>
<text x="780.1" y="729.3" font-size="12.2" fill="#222" textLength="13" lengthAdjust="spacingAndGlyphs">43</text>
<line x1="799.2" y1="746.2" x2="807.6" y2="746.2" stroke="#555" stroke-width="1.3"/>
<text x="780.9" y="747.3" font-size="16" fill="#222" font-style="italic" text-anchor="end">p</text>
<text x="780.1" y="752.3" font-size="12.2" fill="#222" textLength="13" lengthAdjust="spacingAndGlyphs">44</text>
<path d="M813 32.6H1037M813 55.6H1037M813 78.6H1037M813 101.7H1037M813 124.7H1037M813 147.7H1037M813 170.7H1037M813 193.7H1037M813 216.8H1037M813 239.8H1037M813 262.8H1037M813 285.8H1037M813 308.8H1037M813 331.9H1037M813 354.9H1037M813 377.9H1037M813 400.9H1037M813 423.9H1037M813 447H1037M813 470H1037M813 493H1037M813 516H1037M813 539H1037M813 562.1H1037M813 585.1H1037M813 608.1H1037M813 631.1H1037M813 654.1H1037M813 677.2H1037M813 700.2H1037M813 723.2H1037M813 746.2H1037" stroke="#8a8a8a" stroke-width="1.4" stroke-dasharray="1.4 4.18" fill="none"/>
<rect x="936" y="301" width="15" height="164" fill="#fff"/>
<text x="0" y="0" font-size="15.5" fill="#e0393a" transform="translate(949 463.5) rotate(-90)" textLength="161" lengthAdjust="spacingAndGlyphs">Quantum critical point</text>
<line x1="925" y1="10" x2="925" y2="769" stroke="#e0393a" stroke-width="1.7" stroke-dasharray="8.3 4.34" stroke-dashoffset="7.02"/>
<path d="M925 22.6L927.5 29.2L934.5 29.5L929 33.9L930.9 40.7L925 36.8L919.1 40.7L921 33.9L915.5 29.5L922.5 29.2Z" fill="#e8282e"/>
<path d="M1010.7 45.6L1013.2 52.2L1020.2 52.5L1014.7 56.9L1016.6 63.7L1010.7 59.8L1004.8 63.7L1006.7 56.9L1001.2 52.5L1008.2 52.2Z" fill="#5ba445"/>
<path d="M844.8 73.3l5.3 5.3l-5.3 5.3l-5.3 -5.3Z" fill="#111"/>
<path d="M846.7 96.4l5.3 5.3l-5.3 5.3l-5.3 -5.3Z" fill="#111"/>
<path d="M825 119.4l5.3 5.3l-5.3 5.3l-5.3 -5.3Z" fill="#111"/>
<path d="M829.3 142.4l5.3 5.3l-5.3 5.3l-5.3 -5.3Z" fill="#111"/>
<path d="M819 165.4l5.3 5.3l-5.3 5.3l-5.3 -5.3Z" fill="#111"/>
<path d="M819 188.4l5.3 5.3l-5.3 5.3l-5.3 -5.3Z" fill="#111"/>
<path d="M967.9 208.5L969.9 213.9L975.8 214.2L971.2 217.8L972.8 223.5L967.9 220.2L963 223.5L964.6 217.8L960 214.2L965.9 213.9Z" fill="#f08a2a"/>
<path d="M1020.2 229.8L1022.7 236.4L1029.7 236.7L1024.2 241.1L1026.1 247.9L1020.2 244L1014.3 247.9L1016.2 241.1L1010.7 236.7L1017.7 236.4Z" fill="#1566b4"/>
<path d="M857.1 257.5l5.3 5.3l-5.3 5.3l-5.3 -5.3Z" fill="#111"/>
<path d="M860 280.5l5.3 5.3l-5.3 5.3l-5.3 -5.3Z" fill="#111"/>
<path d="M845.2 303.5l5.3 5.3l-5.3 5.3l-5.3 -5.3Z" fill="#111"/>
<path d="M889.8 326.6l5.3 5.3l-5.3 5.3l-5.3 -5.3Z" fill="#111"/>
<path d="M825 349.6l5.3 5.3l-5.3 5.3l-5.3 -5.3Z" fill="#111"/>
<path d="M825.3 372.6l5.3 5.3l-5.3 5.3l-5.3 -5.3Z" fill="#111"/>
<path d="M837.9 395.6l5.3 5.3l-5.3 5.3l-5.3 -5.3Z" fill="#111"/>
<path d="M820.5 418.6l5.3 5.3l-5.3 5.3l-5.3 -5.3Z" fill="#111"/>
<path d="M833.8 441.7l5.3 5.3l-5.3 5.3l-5.3 -5.3Z" fill="#111"/>
<path d="M813.3 464.7l5.3 5.3l-5.3 5.3l-5.3 -5.3Z" fill="#111"/>
<path d="M838.1 487.7l5.3 5.3l-5.3 5.3l-5.3 -5.3Z" fill="#111"/>
<path d="M865.6 510.7l5.3 5.3l-5.3 5.3l-5.3 -5.3Z" fill="#111"/>
<path d="M835 533.7l5.3 5.3l-5.3 5.3l-5.3 -5.3Z" fill="#111"/>
<path d="M832.7 556.8l5.3 5.3l-5.3 5.3l-5.3 -5.3Z" fill="#111"/>
<path d="M876 579.8l5.3 5.3l-5.3 5.3l-5.3 -5.3Z" fill="#111"/>
<path d="M849.8 602.8l5.3 5.3l-5.3 5.3l-5.3 -5.3Z" fill="#111"/>
<path d="M865.5 625.8l5.3 5.3l-5.3 5.3l-5.3 -5.3Z" fill="#111"/>
<path d="M820.2 648.8l5.3 5.3l-5.3 5.3l-5.3 -5.3Z" fill="#111"/>
<path d="M841.8 671.9l5.3 5.3l-5.3 5.3l-5.3 -5.3Z" fill="#111"/>
<path d="M876 694.9l5.3 5.3l-5.3 5.3l-5.3 -5.3Z" fill="#111"/>
<path d="M838.3 717.9l5.3 5.3l-5.3 5.3l-5.3 -5.3Z" fill="#111"/>
<path d="M838 740.9l5.3 5.3l-5.3 5.3l-5.3 -5.3Z" fill="#111"/>
<path d="M807.6 9.7H1039.2V769.3H807.6Z" fill="none" stroke="#5a5a5a" stroke-width="1.3"/>
<line x1="807.6" y1="769.3" x2="807.6" y2="777.4" stroke="#5a5a5a" stroke-width="1.3"/>
<text x="807.6" y="797.5" font-size="17.5" fill="#222" text-anchor="middle">0</text>
<line x1="846.2" y1="769.3" x2="846.2" y2="777.4" stroke="#5a5a5a" stroke-width="1.3"/>
<text x="846.2" y="797.5" font-size="17.5" fill="#222" text-anchor="middle">10</text>
<line x1="884.8" y1="769.3" x2="884.8" y2="777.4" stroke="#5a5a5a" stroke-width="1.3"/>
<text x="884.8" y="797.5" font-size="17.5" fill="#222" text-anchor="middle">20</text>
<line x1="923.4" y1="769.3" x2="923.4" y2="777.4" stroke="#5a5a5a" stroke-width="1.3"/>
<text x="923.4" y="797.5" font-size="17.5" fill="#222" text-anchor="middle">30</text>
<line x1="962" y1="769.3" x2="962" y2="777.4" stroke="#5a5a5a" stroke-width="1.3"/>
<text x="962" y="797.5" font-size="17.5" fill="#222" text-anchor="middle">40</text>
<line x1="1000.6" y1="769.3" x2="1000.6" y2="777.4" stroke="#5a5a5a" stroke-width="1.3"/>
<text x="1000.6" y="797.5" font-size="17.5" fill="#222" text-anchor="middle">50</text>
<line x1="1039.2" y1="769.3" x2="1039.2" y2="777.4" stroke="#5a5a5a" stroke-width="1.3"/>
<text x="1039.2" y="797.5" font-size="17.5" fill="#222" text-anchor="middle">60</text>
<text x="863.6" y="823.2" font-size="16" fill="#222" textLength="119" lengthAdjust="spacingAndGlyphs">Splitting <tspan font-style="italic">t</tspan> (meV)</text>
</svg>
</body></html>
